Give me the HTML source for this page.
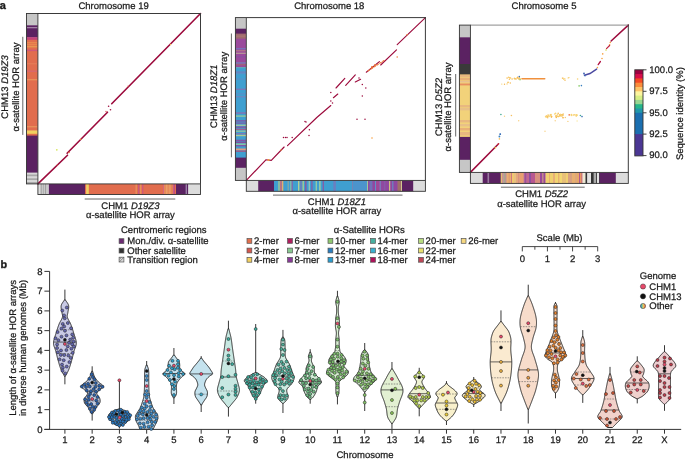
<!DOCTYPE html>
<html><head><meta charset="utf-8"><style>
html,body{margin:0;padding:0;background:#fff;width:685px;height:460px;overflow:hidden}
svg{display:block;will-change:transform}
text{font-family:"Liberation Sans",sans-serif;fill:#1a1a1a;stroke:#1a1a1a;stroke-width:0.25px;text-rendering:geometricPrecision}
</style></head><body>
<svg width="685" height="460" viewBox="0 0 685 460">
<text x="-0.30" y="9.00" font-size="11" text-anchor="start" font-weight="bold" style="stroke-width:0.35px">a</text>
<rect x="26.50" y="13.50" width="11.40" height="12.20" fill="#c6c6c6" />
<rect x="26.50" y="25.30" width="11.40" height="12.30" fill="#5b2262" />
<rect x="26.50" y="27.00" width="11.40" height="1.30" fill="#a27fa6" />
<rect x="26.50" y="37.20" width="11.40" height="3.00" fill="#c4427a" />
<rect x="26.50" y="39.80" width="11.40" height="91.10" fill="#e16d4e" />
<rect x="26.50" y="42.00" width="11.40" height="1.40" fill="#e8884e" />
<rect x="26.50" y="44.00" width="11.40" height="1.40" fill="#e8884e" />
<rect x="26.50" y="46.00" width="11.40" height="1.40" fill="#e89850" />
<rect x="26.50" y="49.70" width="11.40" height="1.40" fill="#d05878" />
<rect x="26.50" y="63.00" width="11.40" height="1.40" fill="#e47a56" />
<rect x="26.50" y="70.50" width="11.40" height="1.40" fill="#d86870" />
<rect x="26.50" y="79.00" width="11.40" height="1.40" fill="#e8905a" />
<rect x="26.50" y="126.00" width="11.40" height="1.40" fill="#e8905a" />
<rect x="26.50" y="130.50" width="11.40" height="3.70" fill="#f0d060" />
<rect x="26.50" y="133.80" width="11.40" height="2.20" fill="#e16d4e" />
<rect x="26.50" y="135.60" width="11.40" height="37.40" fill="#5b2262" />
<rect x="26.50" y="172.60" width="11.40" height="2.28" fill="#d8d8d8" />
<rect x="26.50" y="174.48" width="11.40" height="2.28" fill="#a8a8a8" />
<rect x="26.50" y="176.37" width="11.40" height="2.28" fill="#d8d8d8" />
<rect x="26.50" y="178.25" width="11.40" height="2.28" fill="#a8a8a8" />
<rect x="26.50" y="180.13" width="11.40" height="2.28" fill="#d8d8d8" />
<rect x="26.50" y="182.02" width="11.40" height="1.88" fill="#a8a8a8" />
<rect x="37.90" y="183.90" width="11.30" height="10.60" fill="#dedede" />
<rect x="40.50" y="183.90" width="1.40" height="10.60" fill="#a8a8a8" />
<rect x="42.50" y="183.90" width="1.70" height="10.60" fill="#b0b0b0" />
<rect x="44.80" y="183.90" width="1.60" height="10.60" fill="#a0a0a0" />
<rect x="46.50" y="183.90" width="1.40" height="10.60" fill="#c8c8c8" />
<rect x="48.80" y="183.90" width="36.60" height="10.60" fill="#5b2262" />
<rect x="85.00" y="183.90" width="1.70" height="10.60" fill="#e16d4e" />
<rect x="86.30" y="183.90" width="2.90" height="10.60" fill="#f0d060" />
<rect x="88.80" y="183.90" width="74.80" height="10.60" fill="#e16d4e" />
<rect x="135.50" y="183.90" width="1.40" height="10.60" fill="#e8905a" />
<rect x="138.00" y="183.90" width="1.40" height="10.60" fill="#c85880" />
<rect x="140.00" y="183.90" width="1.40" height="10.60" fill="#e8905a" />
<rect x="142.00" y="183.90" width="1.40" height="10.60" fill="#d05878" />
<rect x="163.20" y="183.90" width="1.20" height="10.60" fill="#d05878" />
<rect x="164.00" y="183.90" width="9.60" height="10.60" fill="#e68a5a" />
<rect x="166.00" y="183.90" width="1.40" height="10.60" fill="#eca066" />
<rect x="169.20" y="183.90" width="1.40" height="10.60" fill="#eca066" />
<rect x="171.50" y="183.90" width="1.20" height="10.60" fill="#e07a56" />
<rect x="173.20" y="183.90" width="2.00" height="10.60" fill="#c04880" />
<rect x="174.80" y="183.90" width="1.60" height="10.60" fill="#e16d4e" />
<rect x="176.00" y="183.90" width="12.60" height="10.60" fill="#5b2262" />
<rect x="185.60" y="183.90" width="1.40" height="10.60" fill="#9a80a8" />
<rect x="188.20" y="183.90" width="12.30" height="10.60" fill="#dcdcdc" />
<rect x="235.40" y="17.60" width="10.90" height="11.50" fill="#c6c6c6" />
<rect x="235.40" y="28.70" width="10.90" height="5.30" fill="#5b2262" />
<rect x="235.40" y="33.60" width="10.90" height="5.50" fill="#a06a70" />
<rect x="235.40" y="35.50" width="10.90" height="1.40" fill="#a87870" />
<rect x="235.40" y="38.70" width="10.90" height="28.70" fill="#9a4a9c" />
<rect x="235.40" y="48.00" width="10.90" height="1.40" fill="#7a70b8" />
<rect x="235.40" y="50.00" width="10.90" height="1.40" fill="#b0708a" />
<rect x="235.40" y="52.70" width="10.90" height="1.20" fill="#b89a98" />
<rect x="235.40" y="56.00" width="10.90" height="1.40" fill="#8a50a0" />
<rect x="235.40" y="62.00" width="10.90" height="1.90" fill="#8070b0" />
<rect x="235.40" y="64.00" width="10.90" height="1.40" fill="#a0607a" />
<rect x="235.40" y="67.00" width="10.90" height="91.00" fill="#3f9fd0" />
<rect x="235.40" y="67.00" width="10.90" height="1.20" fill="#60a8b8" />
<rect x="235.40" y="71.40" width="10.90" height="1.40" fill="#6a80c0" />
<rect x="235.40" y="73.00" width="10.90" height="1.20" fill="#5a90c8" />
<rect x="235.40" y="78.50" width="10.90" height="1.20" fill="#5a90c8" />
<rect x="235.40" y="88.60" width="10.90" height="1.40" fill="#7a78b8" />
<rect x="235.40" y="93.30" width="10.90" height="1.10" fill="#5a90c8" />
<rect x="235.40" y="96.00" width="10.90" height="1.40" fill="#6a88c0" />
<rect x="235.40" y="112.20" width="10.90" height="1.70" fill="#7a78b8" />
<rect x="235.40" y="115.40" width="10.90" height="1.40" fill="#90c8a0" />
<rect x="235.40" y="120.20" width="10.90" height="1.40" fill="#8058a8" />
<rect x="235.40" y="122.50" width="10.90" height="1.20" fill="#8058a8" />
<rect x="235.40" y="124.60" width="10.90" height="1.40" fill="#a0c0a0" />
<rect x="235.40" y="126.50" width="10.90" height="1.40" fill="#8058a8" />
<rect x="235.40" y="128.70" width="10.90" height="1.40" fill="#a06090" />
<rect x="235.40" y="130.50" width="10.90" height="1.40" fill="#90c0a0" />
<rect x="235.40" y="133.00" width="10.90" height="1.40" fill="#7a78b8" />
<rect x="235.40" y="134.80" width="10.90" height="1.40" fill="#b0c890" />
<rect x="235.40" y="139.70" width="10.90" height="1.40" fill="#8058a8" />
<rect x="235.40" y="141.50" width="10.90" height="1.60" fill="#8050a0" />
<rect x="235.40" y="143.50" width="10.90" height="1.40" fill="#90c8a0" />
<rect x="235.40" y="145.00" width="10.90" height="1.40" fill="#8058a8" />
<rect x="235.40" y="148.50" width="10.90" height="1.90" fill="#e0a080" />
<rect x="235.40" y="150.50" width="10.90" height="1.40" fill="#9a5a8a" />
<rect x="235.40" y="157.60" width="10.90" height="10.60" fill="#5b2262" />
<rect x="235.40" y="167.80" width="10.90" height="12.60" fill="#c6c6c6" />
<rect x="246.30" y="180.40" width="12.30" height="10.90" fill="#dcdcdc" />
<rect x="258.20" y="180.40" width="16.20" height="10.90" fill="#5b2262" />
<rect x="274.00" y="180.40" width="93.60" height="10.90" fill="#3f9fd0" />
<rect x="278.30" y="180.40" width="1.40" height="10.90" fill="#a8c890" />
<rect x="280.00" y="180.40" width="1.60" height="10.90" fill="#c07080" />
<rect x="281.50" y="180.40" width="1.20" height="10.90" fill="#c07080" />
<rect x="282.00" y="180.40" width="1.30" height="10.90" fill="#e0b070" />
<rect x="287.50" y="180.40" width="1.40" height="10.90" fill="#80a8a8" />
<rect x="290.30" y="180.40" width="1.40" height="10.90" fill="#90c8a0" />
<rect x="291.50" y="180.40" width="1.40" height="10.90" fill="#8068b0" />
<rect x="298.00" y="180.40" width="1.40" height="10.90" fill="#b0d098" />
<rect x="300.30" y="180.40" width="1.40" height="10.90" fill="#7878b8" />
<rect x="302.50" y="180.40" width="1.40" height="10.90" fill="#a8c890" />
<rect x="305.00" y="180.40" width="1.60" height="10.90" fill="#8060a8" />
<rect x="308.60" y="180.40" width="1.40" height="10.90" fill="#90c0b8" />
<rect x="311.20" y="180.40" width="1.40" height="10.90" fill="#8060a8" />
<rect x="315.60" y="180.40" width="1.40" height="10.90" fill="#90c8a8" />
<rect x="319.00" y="180.40" width="1.70" height="10.90" fill="#90c8a8" />
<rect x="322.60" y="180.40" width="1.40" height="10.90" fill="#8060a8" />
<rect x="333.30" y="180.40" width="2.60" height="10.90" fill="#6a80c0" />
<rect x="352.00" y="180.40" width="1.20" height="10.90" fill="#8080b0" />
<rect x="352.80" y="180.40" width="14.80" height="10.90" fill="#4c94cc" />
<rect x="367.20" y="180.40" width="1.20" height="10.90" fill="#b0d090" />
<rect x="368.00" y="180.40" width="34.40" height="10.90" fill="#9048a0" />
<rect x="369.50" y="180.40" width="2.90" height="10.90" fill="#7070b8" />
<rect x="375.00" y="180.40" width="1.40" height="10.90" fill="#6090c8" />
<rect x="376.00" y="180.40" width="4.40" height="10.90" fill="#a04898" />
<rect x="379.60" y="180.40" width="1.20" height="10.90" fill="#7880c0" />
<rect x="384.00" y="180.40" width="1.40" height="10.90" fill="#8858a8" />
<rect x="389.00" y="180.40" width="1.20" height="10.90" fill="#d0c080" />
<rect x="392.20" y="180.40" width="1.20" height="10.90" fill="#6a88c0" />
<rect x="397.50" y="180.40" width="3.90" height="10.90" fill="#a07068" />
<rect x="401.00" y="180.40" width="1.40" height="10.90" fill="#d0c890" />
<rect x="402.00" y="180.40" width="11.70" height="10.90" fill="#5b2262" />
<rect x="413.30" y="180.40" width="12.10" height="10.90" fill="#dcdcdc" />
<rect x="459.40" y="25.10" width="11.00" height="12.60" fill="#c6c6c6" />
<rect x="459.40" y="37.30" width="11.00" height="27.10" fill="#5b2262" />
<rect x="459.40" y="64.00" width="11.00" height="11.00" fill="#3a3a3a" />
<rect x="459.40" y="74.60" width="11.00" height="62.70" fill="#f2d27a" />
<rect x="459.40" y="74.60" width="11.00" height="2.80" fill="#e8b880" />
<rect x="459.40" y="78.00" width="11.00" height="2.40" fill="#e8b078" />
<rect x="459.40" y="81.00" width="11.00" height="1.40" fill="#e8c090" />
<rect x="459.40" y="83.50" width="11.00" height="1.90" fill="#e89060" />
<rect x="459.40" y="105.00" width="11.00" height="2.40" fill="#e8b880" />
<rect x="459.40" y="108.00" width="11.00" height="2.40" fill="#e8c088" />
<rect x="459.40" y="120.00" width="11.00" height="2.40" fill="#e8b880" />
<rect x="459.40" y="124.00" width="11.00" height="2.40" fill="#e8c088" />
<rect x="459.40" y="128.00" width="11.00" height="2.40" fill="#e8b078" />
<rect x="459.40" y="132.00" width="11.00" height="3.40" fill="#e8b880" />
<rect x="459.40" y="136.90" width="11.00" height="23.30" fill="#5b2262" />
<rect x="459.40" y="159.80" width="11.00" height="12.60" fill="#c6c6c6" />
<rect x="470.40" y="172.40" width="12.70" height="11.00" fill="#dcdcdc" />
<rect x="482.70" y="172.40" width="18.40" height="11.00" fill="#5b2262" />
<rect x="487.50" y="172.40" width="1.60" height="11.00" fill="#9a7aa0" />
<rect x="500.70" y="172.40" width="1.70" height="11.00" fill="#e0c070" />
<rect x="502.00" y="172.40" width="1.90" height="11.00" fill="#d09090" />
<rect x="503.50" y="172.40" width="2.40" height="11.00" fill="#a8a690" />
<rect x="505.50" y="172.40" width="1.40" height="11.00" fill="#c08090" />
<rect x="506.50" y="172.40" width="4.90" height="11.00" fill="#e8b070" />
<rect x="508.50" y="172.40" width="1.40" height="11.00" fill="#e09c70" />
<rect x="511.00" y="172.40" width="1.40" height="11.00" fill="#d07880" />
<rect x="512.00" y="172.40" width="2.40" height="11.00" fill="#f0c870" />
<rect x="514.00" y="172.40" width="2.40" height="11.00" fill="#e8c080" />
<rect x="516.00" y="172.40" width="4.40" height="11.00" fill="#e4a87c" />
<rect x="518.00" y="172.40" width="1.40" height="11.00" fill="#d89080" />
<rect x="520.00" y="172.40" width="3.40" height="11.00" fill="#e8a070" />
<rect x="523.00" y="172.40" width="1.60" height="11.00" fill="#d89080" />
<rect x="524.20" y="172.40" width="2.70" height="11.00" fill="#a05098" />
<rect x="526.50" y="172.40" width="2.90" height="11.00" fill="#c06890" />
<rect x="529.00" y="172.40" width="2.40" height="11.00" fill="#9050a0" />
<rect x="531.00" y="172.40" width="4.40" height="11.00" fill="#b85890" />
<rect x="535.00" y="172.40" width="5.40" height="11.00" fill="#d89080" />
<rect x="540.00" y="172.40" width="2.40" height="11.00" fill="#9a4898" />
<rect x="542.00" y="172.40" width="1.90" height="11.00" fill="#c08888" />
<rect x="543.50" y="172.40" width="2.40" height="11.00" fill="#9a4898" />
<rect x="545.50" y="172.40" width="3.90" height="11.00" fill="#f0d070" />
<rect x="549.00" y="172.40" width="1.40" height="11.00" fill="#e8b070" />
<rect x="550.00" y="172.40" width="3.40" height="11.00" fill="#f0d070" />
<rect x="553.00" y="172.40" width="2.40" height="11.00" fill="#e8b078" />
<rect x="555.00" y="172.40" width="2.40" height="11.00" fill="#f2d470" />
<rect x="557.00" y="172.40" width="5.40" height="11.00" fill="#f2d872" />
<rect x="558.00" y="172.40" width="1.40" height="11.00" fill="#e8b070" />
<rect x="562.00" y="172.40" width="4.40" height="11.00" fill="#e8c078" />
<rect x="566.00" y="172.40" width="2.40" height="11.00" fill="#f0d070" />
<rect x="568.00" y="172.40" width="4.40" height="11.00" fill="#d8a080" />
<rect x="572.00" y="172.40" width="3.40" height="11.00" fill="#e8b070" />
<rect x="575.00" y="172.40" width="2.40" height="11.00" fill="#e0a878" />
<rect x="577.00" y="172.40" width="2.40" height="11.00" fill="#e8a868" />
<rect x="579.00" y="172.40" width="1.40" height="11.00" fill="#b05890" />
<rect x="580.00" y="172.40" width="1.40" height="11.00" fill="#e89860" />
<rect x="581.00" y="172.40" width="1.90" height="11.00" fill="#d07878" />
<rect x="582.50" y="172.40" width="3.40" height="11.00" fill="#ece8d4" />
<rect x="585.50" y="172.40" width="2.10" height="11.00" fill="#333333" />
<rect x="587.20" y="172.40" width="4.20" height="11.00" fill="#e2e2e2" />
<rect x="591.00" y="172.40" width="3.00" height="11.00" fill="#333333" />
<rect x="593.60" y="172.40" width="2.80" height="11.00" fill="#aaaaaa" />
<rect x="596.00" y="172.40" width="1.40" height="11.00" fill="#444444" />
<rect x="597.00" y="172.40" width="2.40" height="11.00" fill="#e2e2e2" />
<rect x="599.00" y="172.40" width="1.00" height="11.00" fill="#444444" />
<rect x="599.60" y="172.40" width="16.60" height="11.00" fill="#5b2262" />
<rect x="615.80" y="172.40" width="12.50" height="11.00" fill="#dcdcdc" />
<rect x="37.9" y="13.5" width="162.6" height="170.4" fill="#fff"/>
<rect x="246.3" y="17.6" width="179.09999999999997" height="162.8" fill="#fff"/>
<rect x="470.4" y="25.1" width="157.89999999999998" height="147.3" fill="#fff"/>
<path d="M37.9,183.9 L67.5,155.2" fill="none" stroke="#9c0a3c" stroke-width="1.6" stroke-linecap="round" />
<path d="M67.1,153.3 L107.5,112.2" fill="none" stroke="#9c0a3c" stroke-width="1.6" stroke-linecap="round" />
<path d="M111.7,103.7 L200.5,13.5" fill="none" stroke="#9c0a3c" stroke-width="1.6" stroke-linecap="round" />
<circle cx="110.5" cy="109.8" r="0.8" fill="#9c0a3c"/>
<circle cx="108.6" cy="106.3" r="0.8" fill="#9c0a3c"/>
<circle cx="106.0" cy="111.5" r="0.7" fill="#e05050"/>
<circle cx="69.0" cy="152.5" r="0.8" fill="#f07040"/>
<circle cx="57.2" cy="165.0" r="0.6" fill="#f07040"/>
<circle cx="80.8" cy="139.2" r="0.7" fill="#f8a040"/>
<circle cx="56.8" cy="149.8" r="0.9" fill="#d8e860"/>
<circle cx="170.5" cy="44.5" r="0.7" fill="#f6c050"/>
<circle cx="128.0" cy="86.0" r="0.6" fill="#f08040"/>
<path d="M246.3,180.4 L265.9,159.8 L271.3,160.4 L284.1,147.0" fill="none" stroke="#9c0a3c" stroke-width="1.15" stroke-linecap="round" />
<path d="M287.5,145.6 L316.8,117.5 L330.8,105.5" fill="none" stroke="#9c0a3c" stroke-width="1.15" stroke-linecap="round" />
<path d="M333.4,97.7 L337.8,94.0" fill="none" stroke="#9c0a3c" stroke-width="1.15" stroke-linecap="round" />
<path d="M336.0,88.0 L344.8,78.4" fill="none" stroke="#9c0a3c" stroke-width="1.15" stroke-linecap="round" />
<path d="M345.7,85.4 L355.3,74.9" fill="none" stroke="#9c0a3c" stroke-width="1.15" stroke-linecap="round" />
<path d="M355.3,81.9 L360.6,79.3" fill="none" stroke="#9c0a3c" stroke-width="1.15" stroke-linecap="round" />
<path d="M366.3,72.2 L379.4,61.6" fill="none" stroke="#9c0a3c" stroke-width="1.15" stroke-linecap="round" />
<path d="M380.7,65.0 L396.5,49.8" fill="none" stroke="#9c0a3c" stroke-width="1.15" stroke-linecap="round" />
<path d="M397.2,44.6 L425.4,17.6" fill="none" stroke="#9c0a3c" stroke-width="1.15" stroke-linecap="round" />
<path d="M368.0,71.0 L384.0,60.5" fill="none" stroke="#f07a3a" stroke-width="1.1" stroke-linecap="round" stroke-dasharray="2,1.5"/>
<circle cx="268.5" cy="160.0" r="1.0" fill="#f8a030"/>
<circle cx="281.0" cy="150.0" r="0.7" fill="#f8a030"/>
<circle cx="372.0" cy="67.0" r="1.0" fill="#f07030"/>
<circle cx="375.0" cy="65.0" r="1.0" fill="#f08040"/>
<circle cx="407.0" cy="34.7" r="0.8" fill="#f09040"/>
<circle cx="283.5" cy="137.5" r="0.75" fill="#9c0a3c"/>
<circle cx="285.5" cy="137.5" r="0.75" fill="#9c0a3c"/>
<circle cx="287.0" cy="137.5" r="0.75" fill="#9c0a3c"/>
<circle cx="292.2" cy="137.5" r="0.75" fill="#9c0a3c"/>
<circle cx="305.0" cy="121.6" r="0.75" fill="#9c0a3c"/>
<circle cx="309.4" cy="129.7" r="0.75" fill="#9c0a3c"/>
<circle cx="309.0" cy="135.5" r="0.75" fill="#9c0a3c"/>
<circle cx="330.8" cy="101.0" r="0.75" fill="#9c0a3c"/>
<circle cx="332.5" cy="103.0" r="0.75" fill="#9c0a3c"/>
<circle cx="330.8" cy="92.4" r="0.75" fill="#9c0a3c"/>
<circle cx="362.3" cy="84.5" r="0.75" fill="#9c0a3c"/>
<circle cx="365.8" cy="88.0" r="0.75" fill="#9c0a3c"/>
<circle cx="362.3" cy="96.0" r="0.75" fill="#9c0a3c"/>
<circle cx="357.0" cy="119.2" r="0.75" fill="#9c0a3c"/>
<circle cx="365.0" cy="119.2" r="0.75" fill="#9c0a3c"/>
<circle cx="359.0" cy="78.0" r="0.75" fill="#9c0a3c"/>
<circle cx="306.0" cy="122.0" r="0.75" fill="#9c0a3c"/>
<circle cx="372.0" cy="138.0" r="0.8" fill="#f8a040"/>
<circle cx="397.2" cy="57.0" r="0.8" fill="#f08040"/>
<path d="M470.4,172.4 L498.6,143.7" fill="none" stroke="#9c0a3c" stroke-width="1.5" stroke-linecap="round" />
<circle cx="495.4" cy="147.6" r="0.9" fill="#f0c050"/>
<circle cx="498.2" cy="144.3" r="0.8" fill="#e04040"/>
<circle cx="499.4" cy="136.5" r="0.9" fill="#3a80c0"/>
<circle cx="500.2" cy="134.1" r="0.9" fill="#3a70b8"/>
<circle cx="499.4" cy="138.9" r="0.8" fill="#f8c060"/>
<path d="M611.1,41.0 L628.3,25.1" fill="none" stroke="#9c0a3c" stroke-width="1.5" stroke-linecap="round" />
<circle cx="610.3" cy="42.5" r="0.8" fill="#f8a040"/>
<circle cx="609.6" cy="44.8" r="0.8" fill="#f8a040"/>
<path d="M606.5,48.6 L609.6,45.5" fill="none" stroke="#c02040" stroke-width="1.2" stroke-linecap="round" />
<circle cx="606.0" cy="50.1" r="0.8" fill="#d8e060"/>
<circle cx="602.7" cy="53.9" r="0.8" fill="#f8a040"/>
<circle cx="602.0" cy="58.5" r="0.8" fill="#f8a040"/>
<path d="M598.2,64.6 L600.4,61.5" fill="none" stroke="#b01040" stroke-width="1.3" stroke-linecap="round" />
<circle cx="597.4" cy="67.6" r="0.8" fill="#f8a040"/>
<path d="M584.5,75.2 L590.0,73.5 L596.6,69.1" fill="none" stroke="#4a48a0" stroke-width="1.5" stroke-linecap="round" />
<circle cx="584.0" cy="73.5" r="0.9" fill="#3a60b0"/>
<circle cx="585.0" cy="75.8" r="0.8" fill="#3a70c0"/>
<circle cx="577.6" cy="79.0" r="0.8" fill="#f8d070"/>
<circle cx="579.1" cy="85.9" r="0.8" fill="#80c860"/>
<circle cx="581.4" cy="85.6" r="0.8" fill="#3a80c0"/>
<path d="M522.0,78.8 L544.7,78.8" fill="none" stroke="#f0903c" stroke-width="1.6" stroke-linecap="round" />
<circle cx="515.6" cy="78.8" r="0.8" fill="#f6cc6a"/>
<circle cx="518.7" cy="78.9" r="0.8" fill="#f8c060"/>
<circle cx="516.0" cy="79.1" r="0.8" fill="#f6cc6a"/>
<circle cx="512.1" cy="79.0" r="0.8" fill="#f4b850"/>
<circle cx="514.5" cy="78.4" r="0.8" fill="#f6cc6a"/>
<circle cx="517.2" cy="78.1" r="0.8" fill="#f8c060"/>
<circle cx="519.8" cy="78.8" r="0.8" fill="#f8c060"/>
<circle cx="517.6" cy="77.4" r="0.8" fill="#f4b850"/>
<circle cx="508.6" cy="77.3" r="0.8" fill="#f6cc6a"/>
<circle cx="509.8" cy="77.7" r="0.8" fill="#f8c060"/>
<circle cx="519.2" cy="77.9" r="0.8" fill="#f8c060"/>
<circle cx="514.5" cy="78.7" r="0.8" fill="#f8c060"/>
<circle cx="509.4" cy="79.2" r="0.8" fill="#f8c060"/>
<circle cx="520.5" cy="79.1" r="0.8" fill="#f8d478"/>
<circle cx="507.1" cy="78.1" r="0.8" fill="#f8c060"/>
<circle cx="510.5" cy="78.0" r="0.8" fill="#f6cc6a"/>
<circle cx="519.3" cy="76.6" r="0.8" fill="#3a70b8"/>
<circle cx="520.0" cy="79.7" r="0.7" fill="#80c860"/>
<circle cx="507.1" cy="83.9" r="0.7" fill="#f6cc6a"/>
<circle cx="504.5" cy="84.2" r="0.7" fill="#f4b850"/>
<circle cx="508.0" cy="82.5" r="0.7" fill="#f4b850"/>
<circle cx="508.1" cy="82.2" r="0.7" fill="#f6cc6a"/>
<circle cx="510.3" cy="83.0" r="0.7" fill="#f4b850"/>
<circle cx="501.8" cy="84.1" r="0.7" fill="#f8d478"/>
<circle cx="565.0" cy="80.3" r="0.7" fill="#f4b850"/>
<circle cx="562.4" cy="78.1" r="0.7" fill="#f8c060"/>
<circle cx="563.0" cy="78.3" r="0.7" fill="#f4b850"/>
<circle cx="564.8" cy="78.7" r="0.7" fill="#f8d478"/>
<circle cx="568.2" cy="77.9" r="0.7" fill="#f8d478"/>
<circle cx="568.9" cy="77.6" r="0.7" fill="#f6cc6a"/>
<circle cx="563.7" cy="79.2" r="0.7" fill="#f8d478"/>
<circle cx="500.9" cy="114.5" r="0.8" fill="#40a890"/>
<circle cx="504.5" cy="116.2" r="0.7" fill="#f8d080"/>
<circle cx="511.4" cy="115.5" r="0.8" fill="#f6c060"/>
<circle cx="518.7" cy="120.8" r="0.7" fill="#f8d080"/>
<circle cx="561.8" cy="114.8" r="0.8" fill="#f6cc6a"/>
<circle cx="550.7" cy="114.7" r="0.8" fill="#f8c060"/>
<circle cx="559.6" cy="116.1" r="0.8" fill="#f8d478"/>
<circle cx="563.2" cy="114.0" r="0.8" fill="#f6cc6a"/>
<circle cx="546.5" cy="116.0" r="0.8" fill="#f4b850"/>
<circle cx="545.6" cy="116.6" r="0.8" fill="#f8d478"/>
<circle cx="560.1" cy="115.4" r="0.8" fill="#f4b850"/>
<circle cx="547.7" cy="117.7" r="0.8" fill="#f6cc6a"/>
<circle cx="559.7" cy="114.8" r="0.8" fill="#f8c060"/>
<circle cx="547.4" cy="116.6" r="0.8" fill="#f8c060"/>
<circle cx="556.5" cy="116.8" r="0.8" fill="#f6cc6a"/>
<circle cx="548.1" cy="115.0" r="0.8" fill="#f6cc6a"/>
<circle cx="560.5" cy="114.6" r="0.8" fill="#f4b850"/>
<circle cx="561.9" cy="116.1" r="0.8" fill="#f8c060"/>
<circle cx="562.9" cy="115.3" r="0.8" fill="#f4b850"/>
<circle cx="557.6" cy="114.7" r="0.8" fill="#f8d478"/>
<circle cx="550.3" cy="115.1" r="0.8" fill="#f8c060"/>
<circle cx="547.1" cy="117.0" r="0.8" fill="#f8c060"/>
<circle cx="556.5" cy="115.5" r="0.8" fill="#f8d478"/>
<circle cx="548.3" cy="115.5" r="0.8" fill="#f8d478"/>
<circle cx="546.2" cy="116.9" r="0.8" fill="#f8d478"/>
<circle cx="557.7" cy="116.3" r="0.8" fill="#f8d478"/>
<circle cx="551.7" cy="116.5" r="0.8" fill="#f8d478"/>
<circle cx="560.3" cy="114.5" r="0.8" fill="#f8d478"/>
<circle cx="562.5" cy="114.8" r="0.8" fill="#f8c060"/>
<circle cx="555.6" cy="113.4" r="0.8" fill="#f8d478"/>
<circle cx="551.0" cy="114.5" r="0.8" fill="#f8d478"/>
<circle cx="559.9" cy="116.2" r="0.8" fill="#f8d478"/>
<circle cx="551.4" cy="116.2" r="0.8" fill="#f4b850"/>
<circle cx="551.4" cy="117.1" r="0.8" fill="#f4b850"/>
<circle cx="562.9" cy="117.6" r="0.8" fill="#f8c060"/>
<circle cx="554.7" cy="114.0" r="0.8" fill="#f8d478"/>
<circle cx="562.2" cy="115.4" r="0.8" fill="#f6cc6a"/>
<circle cx="558.2" cy="116.6" r="0.8" fill="#f8c060"/>
<circle cx="556.3" cy="117.5" r="0.8" fill="#f4b850"/>
<circle cx="550.5" cy="115.8" r="0.8" fill="#f8d478"/>
<circle cx="558.2" cy="113.4" r="0.8" fill="#f8c060"/>
<circle cx="555.7" cy="116.1" r="0.8" fill="#f8c060"/>
<circle cx="549.0" cy="116.4" r="0.8" fill="#f6cc6a"/>
<circle cx="563.1" cy="117.7" r="0.8" fill="#f8c060"/>
<circle cx="565.3" cy="117.5" r="0.7" fill="#f8c870"/>
<circle cx="569.2" cy="114.9" r="0.8" fill="#f07040"/>
<circle cx="571.5" cy="114.5" r="0.8" fill="#f8d478"/>
<circle cx="576.8" cy="115.3" r="0.8" fill="#f6cc6a"/>
<circle cx="573.6" cy="115.0" r="0.8" fill="#f6cc6a"/>
<circle cx="574.6" cy="114.7" r="0.8" fill="#f8d478"/>
<circle cx="571.2" cy="115.1" r="0.8" fill="#f8d478"/>
<circle cx="576.2" cy="116.1" r="0.8" fill="#f8d478"/>
<circle cx="576.8" cy="115.4" r="0.8" fill="#f8d478"/>
<circle cx="571.7" cy="115.4" r="0.8" fill="#f8d478"/>
<circle cx="576.7" cy="114.8" r="0.8" fill="#f8d478"/>
<circle cx="575.9" cy="115.1" r="0.8" fill="#f8d478"/>
<circle cx="580.4" cy="115.5" r="0.8" fill="#40a890"/>
<circle cx="582.0" cy="116.6" r="0.8" fill="#3a70b8"/>
<circle cx="555.2" cy="120.8" r="0.7" fill="#f8d080"/>
<circle cx="567.9" cy="121.4" r="0.7" fill="#f8d080"/>
<circle cx="577.1" cy="121.0" r="0.7" fill="#fae8a0"/>
<circle cx="545.0" cy="131.3" r="0.7" fill="#f8d080"/>
<circle cx="500.3" cy="134.2" r="0.7" fill="#3a70b8"/>
<path d="M37.9,13.5H200.5" fill="none" stroke="#3a3a3a" stroke-width="1"/>
<path d="M200.5,13.0V183.9" fill="none" stroke="#3a3a3a" stroke-width="1"/>
<path d="M246.3,17.6H425.4" fill="none" stroke="#3a3a3a" stroke-width="1"/>
<path d="M425.4,17.1V180.4" fill="none" stroke="#3a3a3a" stroke-width="1"/>
<path d="M470.4,25.1H628.3" fill="none" stroke="#8a8a8a" stroke-width="1"/>
<path d="M628.3,24.6V172.4" fill="none" stroke="#3a3a3a" stroke-width="1"/>
<rect x="26.5" y="13.5" width="11.399999999999999" height="170.4" fill="none" stroke="#333" stroke-width="0.9"/>
<rect x="37.9" y="183.9" width="162.6" height="10.599999999999994" fill="none" stroke="#333" stroke-width="0.9"/>
<rect x="235.4" y="17.6" width="10.900000000000006" height="162.8" fill="none" stroke="#333" stroke-width="0.9"/>
<rect x="246.3" y="180.4" width="179.09999999999997" height="10.900000000000006" fill="none" stroke="#333" stroke-width="0.9"/>
<rect x="459.4" y="25.1" width="11.0" height="147.3" fill="none" stroke="#333" stroke-width="0.9"/>
<rect x="470.4" y="172.4" width="157.89999999999998" height="11.0" fill="none" stroke="#333" stroke-width="0.9"/>
<line x1="22.8" y1="36.8" x2="22.8" y2="134.9" stroke="#555" stroke-width="0.9"/>
<line x1="84.7" y1="199" x2="175.3" y2="199" stroke="#555" stroke-width="0.9"/>
<line x1="231.4" y1="33.5" x2="231.4" y2="157.3" stroke="#555" stroke-width="0.9"/>
<line x1="273" y1="195.1" x2="402.5" y2="195.1" stroke="#555" stroke-width="0.9"/>
<line x1="455.7" y1="74" x2="455.7" y2="136.5" stroke="#555" stroke-width="0.9"/>
<line x1="500.9" y1="187.2" x2="584.7" y2="187.2" stroke="#555" stroke-width="0.9"/>
<text x="113.60" y="9.30" font-size="9.5" text-anchor="middle" >Chromosome 19</text>
<text x="329.30" y="9.30" font-size="9.5" text-anchor="middle" >Chromosome 18</text>
<text x="544.00" y="9.30" font-size="9.5" text-anchor="middle" >Chromosome 5</text>
<text x="130.40" y="208.80" font-size="9.5" text-anchor="middle" >CHM1 <tspan font-style="italic">D19Z3</tspan></text>
<text x="130.40" y="218.00" font-size="9.5" text-anchor="middle" >α-satellite HOR array</text>
<text x="336.90" y="204.70" font-size="9.5" text-anchor="middle" >CHM1 <tspan font-style="italic">D18Z1</tspan></text>
<text x="336.90" y="214.10" font-size="9.5" text-anchor="middle" >α-satellite HOR array</text>
<text x="541.60" y="196.90" font-size="9.5" text-anchor="middle" >CHM1 <tspan font-style="italic">D5Z2</tspan></text>
<text x="541.60" y="206.50" font-size="9.5" text-anchor="middle" >α-satellite HOR array</text>
<text transform="translate(8.3,87) rotate(-90)" font-size="9.5" text-anchor="middle">CHM13 <tspan font-style="italic">D19Z3</tspan></text>
<text transform="translate(18.9,87) rotate(-90)" font-size="9.5" text-anchor="middle">α-satellite HOR array</text>
<text transform="translate(217.4,96.3) rotate(-90)" font-size="9.5" text-anchor="middle">CHM13 <tspan font-style="italic">D18Z1</tspan></text>
<text transform="translate(227.4,96.3) rotate(-90)" font-size="9.5" text-anchor="middle">α-satellite HOR array</text>
<text transform="translate(441.6,107) rotate(-90)" font-size="9.5" text-anchor="middle">CHM13 <tspan font-style="italic">D5Z2</tspan></text>
<text transform="translate(451,107) rotate(-90)" font-size="9.5" text-anchor="middle">α-satellite HOR array</text>
<rect x="634.80" y="69.80" width="8.20" height="5.10" fill="#9e0142" />
<rect x="634.80" y="74.10" width="8.20" height="5.10" fill="#d90d4a" />
<rect x="634.80" y="78.40" width="8.20" height="5.10" fill="#f54a24" />
<rect x="634.80" y="82.70" width="8.20" height="5.10" fill="#fb8c3c" />
<rect x="634.80" y="87.00" width="8.20" height="5.10" fill="#fdc466" />
<rect x="634.80" y="91.30" width="8.20" height="5.10" fill="#fdf59e" />
<rect x="634.80" y="95.60" width="8.20" height="5.10" fill="#d6ee84" />
<rect x="634.80" y="99.90" width="8.20" height="5.10" fill="#98d690" />
<rect x="634.80" y="104.20" width="8.20" height="5.10" fill="#26b68a" />
<rect x="634.80" y="108.50" width="8.20" height="5.10" fill="#2198aa" />
<rect x="634.80" y="112.80" width="8.20" height="22.10" fill="#1b6fb0" />
<rect x="634.80" y="134.10" width="8.20" height="21.80" fill="#4b3794" />
<rect x="634.8" y="69.8" width="8.200000000000045" height="86.10000000000001" fill="none" stroke="#333" stroke-width="0.9"/>
<line x1="643" y1="69.8" x2="646.5" y2="69.8" stroke="#333" stroke-width="0.9"/>
<text x="649.30" y="72.60" font-size="9.5" text-anchor="start" >100.0</text>
<line x1="643" y1="91.3" x2="646.5" y2="91.3" stroke="#333" stroke-width="0.9"/>
<text x="649.30" y="94.10" font-size="9.5" text-anchor="start" >97.5</text>
<line x1="643" y1="112.8" x2="646.5" y2="112.8" stroke="#333" stroke-width="0.9"/>
<text x="649.30" y="115.60" font-size="9.5" text-anchor="start" >95.0</text>
<line x1="643" y1="134.1" x2="646.5" y2="134.1" stroke="#333" stroke-width="0.9"/>
<text x="649.30" y="136.90" font-size="9.5" text-anchor="start" >92.5</text>
<line x1="643" y1="155.6" x2="646.5" y2="155.6" stroke="#333" stroke-width="0.9"/>
<text x="649.30" y="158.40" font-size="9.5" text-anchor="start" >90.0</text>
<text transform="translate(682.8,113.6) rotate(-90)" font-size="9.5" text-anchor="middle">Sequence identity (%)</text>
<text x="121.00" y="233.00" font-size="9.5" text-anchor="start" >Centromeric regions</text>
<rect x="119.10" y="238.70" width="4.8" height="4.8" fill="#6b2a72" stroke="#555" stroke-width="0.7"/>
<text x="127.30" y="244.30" font-size="9.5" text-anchor="start" >Mon./div. α-satellite</text>
<rect x="119.10" y="248.20" width="4.8" height="4.8" fill="#333333" stroke="#555" stroke-width="0.7"/>
<text x="127.30" y="253.80" font-size="9.5" text-anchor="start" >Other satellite</text>
<defs><pattern id="hatch" width="1.6" height="1.6" patternUnits="userSpaceOnUse" patternTransform="rotate(45)"><rect width="1.6" height="1.6" fill="#e0e0e0"/><line x1="0" y1="0" x2="0" y2="1.6" stroke="#777" stroke-width="0.7"/></pattern></defs>
<rect x="119.10" y="257.20" width="4.8" height="4.8" fill="#dadada" stroke="#555" stroke-width="0.7"/>
<path d="M119.4,261.8 L123.7,257.4 M119.5,259.4 L121.2,257.4" stroke="#555" stroke-width="0.6" fill="none"/>
<text x="127.30" y="263.00" font-size="9.5" text-anchor="start" >Transition region</text>
<text x="369.30" y="233.00" font-size="9.5" text-anchor="middle" >α-Satellite HORs</text>
<rect x="247.00" y="238.50" width="4.8" height="4.8" fill="#e2704e" stroke="#555" stroke-width="0.7"/>
<text x="254.00" y="244.20" font-size="9.5" text-anchor="start" >2-mer</text>
<rect x="247.00" y="248.10" width="4.8" height="4.8" fill="#d4584e" stroke="#555" stroke-width="0.7"/>
<text x="254.00" y="253.80" font-size="9.5" text-anchor="start" >3-mer</text>
<rect x="247.00" y="257.40" width="4.8" height="4.8" fill="#f3d060" stroke="#555" stroke-width="0.7"/>
<text x="254.00" y="263.10" font-size="9.5" text-anchor="start" >4-mer</text>
<rect x="287.60" y="238.50" width="4.8" height="4.8" fill="#b02060" stroke="#555" stroke-width="0.7"/>
<text x="294.60" y="244.20" font-size="9.5" text-anchor="start" >6-mer</text>
<rect x="287.60" y="248.10" width="4.8" height="4.8" fill="#88c890" stroke="#555" stroke-width="0.7"/>
<text x="294.60" y="253.80" font-size="9.5" text-anchor="start" >7-mer</text>
<rect x="287.60" y="257.40" width="4.8" height="4.8" fill="#8a3a98" stroke="#555" stroke-width="0.7"/>
<text x="294.60" y="263.10" font-size="9.5" text-anchor="start" >8-mer</text>
<rect x="328.00" y="238.50" width="4.8" height="4.8" fill="#90c870" stroke="#555" stroke-width="0.7"/>
<text x="335.00" y="244.20" font-size="9.5" text-anchor="start" >10-mer</text>
<rect x="328.00" y="248.10" width="4.8" height="4.8" fill="#2a7ec0" stroke="#555" stroke-width="0.7"/>
<text x="335.00" y="253.80" font-size="9.5" text-anchor="start" >12-mer</text>
<rect x="328.00" y="257.40" width="4.8" height="4.8" fill="#2a9ed0" stroke="#555" stroke-width="0.7"/>
<text x="335.00" y="263.10" font-size="9.5" text-anchor="start" >13-mer</text>
<rect x="370.60" y="238.50" width="4.8" height="4.8" fill="#48b0a0" stroke="#555" stroke-width="0.7"/>
<text x="377.60" y="244.20" font-size="9.5" text-anchor="start" >14-mer</text>
<rect x="370.60" y="248.10" width="4.8" height="4.8" fill="#38b0d0" stroke="#555" stroke-width="0.7"/>
<text x="377.60" y="253.80" font-size="9.5" text-anchor="start" >16-mer</text>
<rect x="370.60" y="257.40" width="4.8" height="4.8" fill="#b0105a" stroke="#555" stroke-width="0.7"/>
<text x="377.60" y="263.10" font-size="9.5" text-anchor="start" >18-mer</text>
<rect x="418.60" y="238.50" width="4.8" height="4.8" fill="#b8dc80" stroke="#555" stroke-width="0.7"/>
<text x="425.60" y="244.20" font-size="9.5" text-anchor="start" >20-mer</text>
<rect x="418.60" y="248.10" width="4.8" height="4.8" fill="#e8e070" stroke="#555" stroke-width="0.7"/>
<text x="425.60" y="253.80" font-size="9.5" text-anchor="start" >22-mer</text>
<rect x="418.60" y="257.40" width="4.8" height="4.8" fill="#c04858" stroke="#555" stroke-width="0.7"/>
<text x="425.60" y="263.10" font-size="9.5" text-anchor="start" >24-mer</text>
<rect x="461.20" y="238.50" width="4.8" height="4.8" fill="#f6d880" stroke="#555" stroke-width="0.7"/>
<text x="468.20" y="244.20" font-size="9.5" text-anchor="start" >26-mer</text>
<text x="559.50" y="241.00" font-size="9.5" text-anchor="middle" >Scale (Mb)</text>
<line x1="522.3" y1="246.6" x2="597.7" y2="246.6" stroke="#333" stroke-width="0.9"/>
<line x1="522.3" y1="246.6" x2="522.3" y2="251.4" stroke="#333" stroke-width="0.9"/>
<line x1="534.8666666666667" y1="246.6" x2="534.8666666666667" y2="249.7" stroke="#333" stroke-width="0.9"/>
<line x1="547.4333333333333" y1="246.6" x2="547.4333333333333" y2="251.4" stroke="#333" stroke-width="0.9"/>
<line x1="560.0" y1="246.6" x2="560.0" y2="249.7" stroke="#333" stroke-width="0.9"/>
<line x1="572.5666666666666" y1="246.6" x2="572.5666666666666" y2="251.4" stroke="#333" stroke-width="0.9"/>
<line x1="585.1333333333333" y1="246.6" x2="585.1333333333333" y2="249.7" stroke="#333" stroke-width="0.9"/>
<line x1="597.6999999999999" y1="246.6" x2="597.6999999999999" y2="251.4" stroke="#333" stroke-width="0.9"/>
<text x="522.30" y="262.20" font-size="9.5" text-anchor="middle" >0</text>
<text x="547.43" y="262.20" font-size="9.5" text-anchor="middle" >1</text>
<text x="572.57" y="262.20" font-size="9.5" text-anchor="middle" >2</text>
<text x="597.70" y="262.20" font-size="9.5" text-anchor="middle" >3</text>
<text x="0.60" y="267.80" font-size="10.8" text-anchor="start" font-weight="bold" style="stroke-width:0.35px">b</text>
<line x1="49.6" y1="271.4" x2="49.6" y2="429.4" stroke="#333" stroke-width="1"/>
<line x1="44.4" y1="429.4" x2="681.2" y2="429.4" stroke="#333" stroke-width="1"/>
<line x1="44.4" y1="429.4" x2="49.6" y2="429.4" stroke="#333" stroke-width="1"/>
<text x="42.50" y="432.70" font-size="9.5" text-anchor="end" >0</text>
<line x1="44.4" y1="409.65" x2="49.6" y2="409.65" stroke="#333" stroke-width="1"/>
<text x="42.50" y="412.95" font-size="9.5" text-anchor="end" >1</text>
<line x1="44.4" y1="389.9" x2="49.6" y2="389.9" stroke="#333" stroke-width="1"/>
<text x="42.50" y="393.20" font-size="9.5" text-anchor="end" >2</text>
<line x1="44.4" y1="370.15" x2="49.6" y2="370.15" stroke="#333" stroke-width="1"/>
<text x="42.50" y="373.45" font-size="9.5" text-anchor="end" >3</text>
<line x1="44.4" y1="350.4" x2="49.6" y2="350.4" stroke="#333" stroke-width="1"/>
<text x="42.50" y="353.70" font-size="9.5" text-anchor="end" >4</text>
<line x1="44.4" y1="330.65" x2="49.6" y2="330.65" stroke="#333" stroke-width="1"/>
<text x="42.50" y="333.95" font-size="9.5" text-anchor="end" >5</text>
<line x1="44.4" y1="310.9" x2="49.6" y2="310.9" stroke="#333" stroke-width="1"/>
<text x="42.50" y="314.20" font-size="9.5" text-anchor="end" >6</text>
<line x1="44.4" y1="291.15" x2="49.6" y2="291.15" stroke="#333" stroke-width="1"/>
<text x="42.50" y="294.45" font-size="9.5" text-anchor="end" >7</text>
<line x1="44.4" y1="271.4" x2="49.6" y2="271.4" stroke="#333" stroke-width="1"/>
<text x="42.50" y="274.70" font-size="9.5" text-anchor="end" >8</text>
<text transform="translate(16.4,347.9) rotate(-90)" font-size="9.5" text-anchor="middle">Length of α-satellite HOR arrays</text>
<text transform="translate(26.3,347.9) rotate(-90)" font-size="9.5" text-anchor="middle">in diverse human genomes (Mb)</text>
<line x1="64.9" y1="429.4" x2="64.9" y2="433.7" stroke="#333" stroke-width="1"/>
<text x="64.90" y="443.30" font-size="9.5" text-anchor="middle" >1</text>
<line x1="92.155" y1="429.4" x2="92.155" y2="433.7" stroke="#333" stroke-width="1"/>
<text x="92.16" y="443.30" font-size="9.5" text-anchor="middle" >2</text>
<line x1="119.41" y1="429.4" x2="119.41" y2="433.7" stroke="#333" stroke-width="1"/>
<text x="119.41" y="443.30" font-size="9.5" text-anchor="middle" >3</text>
<line x1="146.66500000000002" y1="429.4" x2="146.66500000000002" y2="433.7" stroke="#333" stroke-width="1"/>
<text x="146.67" y="443.30" font-size="9.5" text-anchor="middle" >4</text>
<line x1="173.92000000000002" y1="429.4" x2="173.92000000000002" y2="433.7" stroke="#333" stroke-width="1"/>
<text x="173.92" y="443.30" font-size="9.5" text-anchor="middle" >5</text>
<line x1="201.175" y1="429.4" x2="201.175" y2="433.7" stroke="#333" stroke-width="1"/>
<text x="201.18" y="443.30" font-size="9.5" text-anchor="middle" >6</text>
<line x1="228.43" y1="429.4" x2="228.43" y2="433.7" stroke="#333" stroke-width="1"/>
<text x="228.43" y="443.30" font-size="9.5" text-anchor="middle" >7</text>
<line x1="255.685" y1="429.4" x2="255.685" y2="433.7" stroke="#333" stroke-width="1"/>
<text x="255.69" y="443.30" font-size="9.5" text-anchor="middle" >8</text>
<line x1="282.94" y1="429.4" x2="282.94" y2="433.7" stroke="#333" stroke-width="1"/>
<text x="282.94" y="443.30" font-size="9.5" text-anchor="middle" >9</text>
<line x1="310.195" y1="429.4" x2="310.195" y2="433.7" stroke="#333" stroke-width="1"/>
<text x="310.19" y="443.30" font-size="9.5" text-anchor="middle" >10</text>
<line x1="337.45000000000005" y1="429.4" x2="337.45000000000005" y2="433.7" stroke="#333" stroke-width="1"/>
<text x="337.45" y="443.30" font-size="9.5" text-anchor="middle" >11</text>
<line x1="364.70500000000004" y1="429.4" x2="364.70500000000004" y2="433.7" stroke="#333" stroke-width="1"/>
<text x="364.71" y="443.30" font-size="9.5" text-anchor="middle" >12</text>
<line x1="391.96000000000004" y1="429.4" x2="391.96000000000004" y2="433.7" stroke="#333" stroke-width="1"/>
<text x="391.96" y="443.30" font-size="9.5" text-anchor="middle" >13</text>
<line x1="419.21500000000003" y1="429.4" x2="419.21500000000003" y2="433.7" stroke="#333" stroke-width="1"/>
<text x="419.22" y="443.30" font-size="9.5" text-anchor="middle" >14</text>
<line x1="446.47" y1="429.4" x2="446.47" y2="433.7" stroke="#333" stroke-width="1"/>
<text x="446.47" y="443.30" font-size="9.5" text-anchor="middle" >15</text>
<line x1="473.725" y1="429.4" x2="473.725" y2="433.7" stroke="#333" stroke-width="1"/>
<text x="473.73" y="443.30" font-size="9.5" text-anchor="middle" >16</text>
<line x1="500.98" y1="429.4" x2="500.98" y2="433.7" stroke="#333" stroke-width="1"/>
<text x="500.98" y="443.30" font-size="9.5" text-anchor="middle" >17</text>
<line x1="528.235" y1="429.4" x2="528.235" y2="433.7" stroke="#333" stroke-width="1"/>
<text x="528.24" y="443.30" font-size="9.5" text-anchor="middle" >18</text>
<line x1="555.49" y1="429.4" x2="555.49" y2="433.7" stroke="#333" stroke-width="1"/>
<text x="555.49" y="443.30" font-size="9.5" text-anchor="middle" >19</text>
<line x1="582.745" y1="429.4" x2="582.745" y2="433.7" stroke="#333" stroke-width="1"/>
<text x="582.75" y="443.30" font-size="9.5" text-anchor="middle" >20</text>
<line x1="610.0" y1="429.4" x2="610.0" y2="433.7" stroke="#333" stroke-width="1"/>
<text x="610.00" y="443.30" font-size="9.5" text-anchor="middle" >21</text>
<line x1="637.255" y1="429.4" x2="637.255" y2="433.7" stroke="#333" stroke-width="1"/>
<text x="637.25" y="443.30" font-size="9.5" text-anchor="middle" >22</text>
<line x1="664.51" y1="429.4" x2="664.51" y2="433.7" stroke="#333" stroke-width="1"/>
<text x="664.51" y="443.30" font-size="9.5" text-anchor="middle" >X</text>
<text x="365.00" y="458.00" font-size="9.5" text-anchor="middle" >Chromosome</text>
<text x="639.80" y="278.70" font-size="9.5" text-anchor="start" >Genome</text>
<circle cx="643" cy="286.5" r="2.6" fill="#e8486a" stroke="#333" stroke-width="0.5"/>
<text x="649.30" y="289.80" font-size="9.5" text-anchor="start" >CHM1</text>
<circle cx="643" cy="296.3" r="2.6" fill="#111" stroke="#333" stroke-width="0.5"/>
<text x="649.30" y="299.60" font-size="9.5" text-anchor="start" >CHM13</text>
<defs><linearGradient id="oth" x1="0" x2="1"><stop offset="0" stop-color="#3a7ac0"/><stop offset="0.33" stop-color="#60c0a0"/><stop offset="0.5" stop-color="#f0d060"/><stop offset="1" stop-color="#e06040"/></linearGradient></defs>
<circle cx="643" cy="306" r="2.6" fill="url(#oth)" stroke="#333" stroke-width="0.5"/>
<text x="649.30" y="309.30" font-size="9.5" text-anchor="start" >Other</text>
<line x1="64.90" y1="289.6" x2="64.90" y2="384.3" stroke="#222" stroke-width="0.9"/>
<path d="M64.50,299.80 L64.20,300.30 L63.87,300.80 L63.52,301.30 L63.17,301.80 L62.82,302.30 L62.48,302.80 L62.16,303.30 L61.87,303.80 L61.62,304.30 L61.40,304.80 L61.25,305.30 L61.15,305.80 L61.09,306.30 L61.07,306.80 L61.08,307.30 L61.11,307.80 L61.17,308.30 L61.25,308.80 L61.34,309.30 L61.44,309.80 L61.54,310.30 L61.64,310.80 L61.73,311.30 L61.82,311.80 L61.89,312.30 L61.96,312.80 L62.06,313.30 L62.18,313.80 L62.31,314.30 L62.42,314.80 L62.52,315.30 L62.58,315.80 L62.59,316.30 L62.54,316.80 L62.42,317.30 L62.26,317.80 L62.06,318.30 L61.84,318.80 L61.59,319.30 L61.32,319.80 L61.05,320.30 L60.76,320.80 L60.47,321.30 L60.19,321.80 L59.91,322.30 L59.65,322.80 L59.41,323.30 L59.20,323.80 L59.00,324.30 L58.81,324.80 L58.62,325.30 L58.43,325.80 L58.25,326.30 L58.07,326.80 L57.90,327.30 L57.73,327.80 L57.56,328.30 L57.40,328.80 L57.23,329.30 L57.07,329.80 L56.92,330.30 L56.76,330.80 L56.61,331.30 L56.46,331.80 L56.31,332.30 L56.16,332.80 L56.01,333.30 L55.86,333.80 L55.70,334.30 L55.53,334.80 L55.36,335.30 L55.20,335.80 L55.03,336.30 L54.86,336.80 L54.70,337.30 L54.54,337.80 L54.39,338.30 L54.24,338.80 L54.10,339.30 L53.98,339.80 L53.86,340.30 L53.76,340.80 L53.67,341.30 L53.60,341.80 L53.55,342.30 L53.51,342.80 L53.50,343.30 L53.52,343.80 L53.57,344.30 L53.65,344.80 L53.76,345.30 L53.90,345.80 L54.05,346.30 L54.22,346.80 L54.40,347.30 L54.59,347.80 L54.78,348.30 L54.98,348.80 L55.17,349.30 L55.35,349.80 L55.53,350.30 L55.69,350.80 L55.83,351.30 L55.96,351.80 L56.09,352.30 L56.21,352.80 L56.34,353.30 L56.46,353.80 L56.58,354.30 L56.70,354.80 L56.82,355.30 L56.94,355.80 L57.07,356.30 L57.19,356.80 L57.31,357.30 L57.43,357.80 L57.56,358.30 L57.69,358.80 L57.82,359.30 L57.96,359.80 L58.10,360.30 L58.24,360.80 L58.38,361.30 L58.52,361.80 L58.66,362.30 L58.80,362.80 L58.95,363.30 L59.09,363.80 L59.24,364.30 L59.39,364.80 L59.54,365.30 L59.69,365.80 L59.85,366.30 L60.02,366.80 L60.19,367.30 L60.36,367.80 L60.54,368.30 L60.73,368.80 L60.92,369.30 L61.12,369.80 L61.34,370.30 L61.57,370.80 L61.81,371.30 L62.07,371.80 L62.33,372.30 L62.60,372.80 L62.87,373.30 L63.15,373.80 L63.42,374.30 L63.70,374.80 L63.97,375.30 L64.24,375.80 L64.50,376.30 L65.30,376.30 L65.56,375.80 L65.83,375.30 L66.10,374.80 L66.38,374.30 L66.65,373.80 L66.93,373.30 L67.20,372.80 L67.47,372.30 L67.73,371.80 L67.99,371.30 L68.23,370.80 L68.46,370.30 L68.68,369.80 L68.88,369.30 L69.07,368.80 L69.26,368.30 L69.44,367.80 L69.61,367.30 L69.78,366.80 L69.95,366.30 L70.11,365.80 L70.26,365.30 L70.41,364.80 L70.56,364.30 L70.71,363.80 L70.85,363.30 L71.00,362.80 L71.14,362.30 L71.28,361.80 L71.42,361.30 L71.56,360.80 L71.70,360.30 L71.84,359.80 L71.98,359.30 L72.11,358.80 L72.24,358.30 L72.37,357.80 L72.49,357.30 L72.61,356.80 L72.73,356.30 L72.86,355.80 L72.98,355.30 L73.10,354.80 L73.22,354.30 L73.34,353.80 L73.46,353.30 L73.59,352.80 L73.71,352.30 L73.84,351.80 L73.97,351.30 L74.11,350.80 L74.27,350.30 L74.45,349.80 L74.63,349.30 L74.82,348.80 L75.02,348.30 L75.21,347.80 L75.40,347.30 L75.58,346.80 L75.75,346.30 L75.90,345.80 L76.04,345.30 L76.15,344.80 L76.23,344.30 L76.28,343.80 L76.30,343.30 L76.29,342.80 L76.25,342.30 L76.20,341.80 L76.13,341.30 L76.04,340.80 L75.94,340.30 L75.82,339.80 L75.70,339.30 L75.56,338.80 L75.41,338.30 L75.26,337.80 L75.10,337.30 L74.94,336.80 L74.77,336.30 L74.60,335.80 L74.44,335.30 L74.27,334.80 L74.10,334.30 L73.94,333.80 L73.79,333.30 L73.64,332.80 L73.49,332.30 L73.34,331.80 L73.19,331.30 L73.04,330.80 L72.88,330.30 L72.73,329.80 L72.57,329.30 L72.40,328.80 L72.24,328.30 L72.07,327.80 L71.90,327.30 L71.73,326.80 L71.55,326.30 L71.37,325.80 L71.18,325.30 L70.99,324.80 L70.80,324.30 L70.60,323.80 L70.39,323.30 L70.15,322.80 L69.89,322.30 L69.61,321.80 L69.33,321.30 L69.04,320.80 L68.75,320.30 L68.48,319.80 L68.21,319.30 L67.96,318.80 L67.74,318.30 L67.54,317.80 L67.38,317.30 L67.26,316.80 L67.21,316.30 L67.22,315.80 L67.28,315.30 L67.38,314.80 L67.49,314.30 L67.62,313.80 L67.74,313.30 L67.84,312.80 L67.91,312.30 L67.98,311.80 L68.07,311.30 L68.16,310.80 L68.26,310.30 L68.36,309.80 L68.46,309.30 L68.55,308.80 L68.63,308.30 L68.69,307.80 L68.72,307.30 L68.73,306.80 L68.71,306.30 L68.65,305.80 L68.55,305.30 L68.40,304.80 L68.18,304.30 L67.93,303.80 L67.64,303.30 L67.32,302.80 L66.98,302.30 L66.63,301.80 L66.28,301.30 L65.93,300.80 L65.60,300.30 L65.30,299.80Z" fill="#c9cae6" stroke="#1a1a1a" stroke-width="0.9"/>
<line x1="57.07" y1="329.80" x2="72.73" y2="329.80" stroke="#555" stroke-width="0.6" stroke-dasharray="1.6,1.1"/>
<line x1="53.57" y1="342.05" x2="76.23" y2="342.05" stroke="#333" stroke-width="0.75"/>
<line x1="56.40" y1="353.55" x2="73.40" y2="353.55" stroke="#555" stroke-width="0.6" stroke-dasharray="1.6,1.1"/>
<circle cx="72.23" cy="334.41" r="1.5" fill="#6668b2" stroke="#1e1e1e" stroke-width="0.5"/>
<circle cx="66.47" cy="335.42" r="1.5" fill="#6668b2" stroke="#1e1e1e" stroke-width="0.5"/>
<circle cx="57.08" cy="347.99" r="1.5" fill="#6668b2" stroke="#1e1e1e" stroke-width="0.5"/>
<circle cx="67.84" cy="323.01" r="1.5" fill="#6668b2" stroke="#1e1e1e" stroke-width="0.5"/>
<circle cx="72.69" cy="352.85" r="1.5" fill="#6668b2" stroke="#1e1e1e" stroke-width="0.5"/>
<circle cx="58.44" cy="340.22" r="1.5" fill="#6668b2" stroke="#1e1e1e" stroke-width="0.5"/>
<circle cx="64.74" cy="318.31" r="1.5" fill="#6668b2" stroke="#1e1e1e" stroke-width="0.5"/>
<circle cx="61.03" cy="350.48" r="1.5" fill="#6668b2" stroke="#1e1e1e" stroke-width="0.5"/>
<circle cx="62.73" cy="323.92" r="1.5" fill="#6668b2" stroke="#1e1e1e" stroke-width="0.5"/>
<circle cx="62.02" cy="364.62" r="1.5" fill="#6668b2" stroke="#1e1e1e" stroke-width="0.5"/>
<circle cx="59.57" cy="359.36" r="1.5" fill="#6668b2" stroke="#1e1e1e" stroke-width="0.5"/>
<circle cx="66.81" cy="307.53" r="1.5" fill="#6668b2" stroke="#1e1e1e" stroke-width="0.5"/>
<circle cx="71.07" cy="328.24" r="1.5" fill="#6668b2" stroke="#1e1e1e" stroke-width="0.5"/>
<circle cx="57.60" cy="332.04" r="1.5" fill="#6668b2" stroke="#1e1e1e" stroke-width="0.5"/>
<circle cx="60.79" cy="354.91" r="1.5" fill="#6668b2" stroke="#1e1e1e" stroke-width="0.5"/>
<circle cx="64.09" cy="315.40" r="1.5" fill="#6668b2" stroke="#1e1e1e" stroke-width="0.5"/>
<circle cx="66.40" cy="350.06" r="1.5" fill="#6668b2" stroke="#1e1e1e" stroke-width="0.5"/>
<circle cx="62.28" cy="310.54" r="1.5" fill="#6668b2" stroke="#1e1e1e" stroke-width="0.5"/>
<circle cx="65.27" cy="373.45" r="1.5" fill="#6668b2" stroke="#1e1e1e" stroke-width="0.5"/>
<circle cx="61.49" cy="336.69" r="1.5" fill="#6668b2" stroke="#1e1e1e" stroke-width="0.5"/>
<circle cx="73.44" cy="341.58" r="1.5" fill="#6668b2" stroke="#1e1e1e" stroke-width="0.5"/>
<circle cx="67.75" cy="346.38" r="1.5" fill="#6668b2" stroke="#1e1e1e" stroke-width="0.5"/>
<circle cx="68.39" cy="355.51" r="1.5" fill="#6668b2" stroke="#1e1e1e" stroke-width="0.5"/>
<circle cx="72.17" cy="344.24" r="1.5" fill="#6668b2" stroke="#1e1e1e" stroke-width="0.5"/>
<circle cx="73.12" cy="337.84" r="1.5" fill="#6668b2" stroke="#1e1e1e" stroke-width="0.5"/>
<circle cx="57.10" cy="344.41" r="1.5" fill="#6668b2" stroke="#1e1e1e" stroke-width="0.5"/>
<circle cx="66.72" cy="366.57" r="1.5" fill="#6668b2" stroke="#1e1e1e" stroke-width="0.5"/>
<circle cx="70.17" cy="339.61" r="1.5" fill="#6668b2" stroke="#1e1e1e" stroke-width="0.5"/>
<circle cx="64.20" cy="355.06" r="1.5" fill="#6668b2" stroke="#1e1e1e" stroke-width="0.5"/>
<circle cx="64.18" cy="326.46" r="1.5" fill="#6668b2" stroke="#1e1e1e" stroke-width="0.5"/>
<circle cx="71.34" cy="348.67" r="1.5" fill="#6668b2" stroke="#1e1e1e" stroke-width="0.5"/>
<circle cx="55.54" cy="338.29" r="1.5" fill="#6668b2" stroke="#1e1e1e" stroke-width="0.5"/>
<circle cx="69.02" cy="342.86" r="1.5" fill="#6668b2" stroke="#1e1e1e" stroke-width="0.5"/>
<circle cx="62.83" cy="367.70" r="1.5" fill="#6668b2" stroke="#1e1e1e" stroke-width="0.5"/>
<circle cx="63.69" cy="360.23" r="1.5" fill="#6668b2" stroke="#1e1e1e" stroke-width="0.5"/>
<circle cx="57.84" cy="352.25" r="1.5" fill="#6668b2" stroke="#1e1e1e" stroke-width="0.5"/>
<circle cx="62.47" cy="370.71" r="1.5" fill="#6668b2" stroke="#1e1e1e" stroke-width="0.5"/>
<circle cx="64.96" cy="330.75" r="1.5" fill="#6668b2" stroke="#1e1e1e" stroke-width="0.5"/>
<circle cx="69.41" cy="362.12" r="1.5" fill="#6668b2" stroke="#1e1e1e" stroke-width="0.5"/>
<circle cx="61.50" cy="328.54" r="1.5" fill="#6668b2" stroke="#1e1e1e" stroke-width="0.5"/>
<circle cx="70.79" cy="357.88" r="1.5" fill="#6668b2" stroke="#1e1e1e" stroke-width="0.5"/>
<circle cx="73.95" cy="346.55" r="1.5" fill="#6668b2" stroke="#1e1e1e" stroke-width="0.5"/>
<circle cx="64.90" cy="339.80" r="1.5" fill="#111111" stroke="#1e1e1e" stroke-width="0.5"/>
<circle cx="64.90" cy="343.90" r="1.5" fill="#ec4a6c" stroke="#1e1e1e" stroke-width="0.5"/>
<line x1="92.16" y1="366.3" x2="92.16" y2="420.6" stroke="#222" stroke-width="0.9"/>
<path d="M91.86,371.00 L91.68,371.50 L91.51,372.00 L91.34,372.50 L91.19,373.00 L91.03,373.50 L90.87,374.00 L90.70,374.50 L90.52,375.00 L90.33,375.50 L90.13,376.00 L89.91,376.50 L89.66,377.00 L89.39,377.50 L89.09,378.00 L88.76,378.50 L88.41,379.00 L88.04,379.50 L87.64,380.00 L87.23,380.50 L86.79,381.00 L86.34,381.50 L85.86,382.00 L85.28,382.50 L84.62,383.00 L83.91,383.50 L83.20,384.00 L82.51,384.50 L81.90,385.00 L81.39,385.50 L81.02,386.00 L80.84,386.50 L81.01,387.00 L81.50,387.50 L82.19,388.00 L82.96,388.50 L83.69,389.00 L84.26,389.50 L84.80,390.00 L85.38,390.50 L85.97,391.00 L86.51,391.50 L86.98,392.00 L87.33,392.50 L87.53,393.00 L87.54,393.50 L87.43,394.00 L87.21,394.50 L86.91,395.00 L86.56,395.50 L86.17,396.00 L85.77,396.50 L85.39,397.00 L85.04,397.50 L84.76,398.00 L84.56,398.50 L84.41,399.00 L84.30,399.50 L84.21,400.00 L84.16,400.50 L84.15,401.00 L84.18,401.50 L84.25,402.00 L84.38,402.50 L84.56,403.00 L84.81,403.50 L85.14,404.00 L85.54,404.50 L85.98,405.00 L86.45,405.50 L86.93,406.00 L87.39,406.50 L87.83,407.00 L88.22,407.50 L88.55,408.00 L88.84,408.50 L89.11,409.00 L89.35,409.50 L89.59,410.00 L89.82,410.50 L90.05,411.00 L90.29,411.50 L90.55,412.00 L90.83,412.50 L91.16,413.00 L91.51,413.50 L91.86,414.00 L92.45,414.00 L92.80,413.50 L93.15,413.00 L93.48,412.50 L93.76,412.00 L94.02,411.50 L94.26,411.00 L94.49,410.50 L94.72,410.00 L94.96,409.50 L95.20,409.00 L95.47,408.50 L95.76,408.00 L96.09,407.50 L96.48,407.00 L96.92,406.50 L97.38,406.00 L97.86,405.50 L98.33,405.00 L98.77,404.50 L99.17,404.00 L99.50,403.50 L99.75,403.00 L99.93,402.50 L100.06,402.00 L100.13,401.50 L100.16,401.00 L100.15,400.50 L100.10,400.00 L100.01,399.50 L99.90,399.00 L99.75,398.50 L99.55,398.00 L99.27,397.50 L98.92,397.00 L98.54,396.50 L98.14,396.00 L97.75,395.50 L97.40,395.00 L97.10,394.50 L96.88,394.00 L96.77,393.50 L96.78,393.00 L96.98,392.50 L97.33,392.00 L97.80,391.50 L98.34,391.00 L98.93,390.50 L99.51,390.00 L100.05,389.50 L100.62,389.00 L101.35,388.50 L102.12,388.00 L102.81,387.50 L103.30,387.00 L103.47,386.50 L103.29,386.00 L102.92,385.50 L102.41,385.00 L101.80,384.50 L101.11,384.00 L100.40,383.50 L99.69,383.00 L99.03,382.50 L98.45,382.00 L97.97,381.50 L97.52,381.00 L97.08,380.50 L96.67,380.00 L96.27,379.50 L95.90,379.00 L95.55,378.50 L95.22,378.00 L94.92,377.50 L94.65,377.00 L94.40,376.50 L94.18,376.00 L93.98,375.50 L93.79,375.00 L93.61,374.50 L93.44,374.00 L93.28,373.50 L93.12,373.00 L92.97,372.50 L92.80,372.00 L92.63,371.50 L92.45,371.00Z" fill="#c0cbe2" stroke="#1a1a1a" stroke-width="0.9"/>
<line x1="81.63" y1="385.25" x2="102.68" y2="385.25" stroke="#555" stroke-width="0.6" stroke-dasharray="1.6,1.1"/>
<line x1="86.76" y1="391.75" x2="97.55" y2="391.75" stroke="#333" stroke-width="0.75"/>
<line x1="84.15" y1="401.00" x2="100.16" y2="401.00" stroke="#555" stroke-width="0.6" stroke-dasharray="1.6,1.1"/>
<circle cx="93.67" cy="389.09" r="1.5" fill="#2b62ad" stroke="#1e1e1e" stroke-width="0.5"/>
<circle cx="95.47" cy="386.72" r="1.5" fill="#2b62ad" stroke="#1e1e1e" stroke-width="0.5"/>
<circle cx="94.20" cy="395.11" r="1.5" fill="#2b62ad" stroke="#1e1e1e" stroke-width="0.5"/>
<circle cx="88.09" cy="383.73" r="1.5" fill="#2b62ad" stroke="#1e1e1e" stroke-width="0.5"/>
<circle cx="97.54" cy="403.45" r="1.5" fill="#2b62ad" stroke="#1e1e1e" stroke-width="0.5"/>
<circle cx="86.72" cy="390.59" r="1.5" fill="#2b62ad" stroke="#1e1e1e" stroke-width="0.5"/>
<circle cx="88.68" cy="399.72" r="1.5" fill="#2b62ad" stroke="#1e1e1e" stroke-width="0.5"/>
<circle cx="86.63" cy="402.57" r="1.5" fill="#2b62ad" stroke="#1e1e1e" stroke-width="0.5"/>
<circle cx="89.91" cy="408.79" r="1.5" fill="#2b62ad" stroke="#1e1e1e" stroke-width="0.5"/>
<circle cx="86.07" cy="387.05" r="1.5" fill="#2b62ad" stroke="#1e1e1e" stroke-width="0.5"/>
<circle cx="99.19" cy="385.78" r="1.5" fill="#2b62ad" stroke="#1e1e1e" stroke-width="0.5"/>
<circle cx="91.19" cy="404.06" r="1.5" fill="#2b62ad" stroke="#1e1e1e" stroke-width="0.5"/>
<circle cx="102.55" cy="386.86" r="1.5" fill="#2b62ad" stroke="#1e1e1e" stroke-width="0.5"/>
<circle cx="96.23" cy="400.47" r="1.5" fill="#2b62ad" stroke="#1e1e1e" stroke-width="0.5"/>
<circle cx="89.75" cy="386.62" r="1.5" fill="#2b62ad" stroke="#1e1e1e" stroke-width="0.5"/>
<circle cx="99.23" cy="389.27" r="1.5" fill="#2b62ad" stroke="#1e1e1e" stroke-width="0.5"/>
<circle cx="88.47" cy="396.58" r="1.5" fill="#2b62ad" stroke="#1e1e1e" stroke-width="0.5"/>
<circle cx="95.79" cy="383.09" r="1.5" fill="#2b62ad" stroke="#1e1e1e" stroke-width="0.5"/>
<circle cx="95.97" cy="391.62" r="1.5" fill="#2b62ad" stroke="#1e1e1e" stroke-width="0.5"/>
<circle cx="85.10" cy="399.27" r="1.5" fill="#2b62ad" stroke="#1e1e1e" stroke-width="0.5"/>
<circle cx="84.61" cy="384.39" r="1.5" fill="#2b62ad" stroke="#1e1e1e" stroke-width="0.5"/>
<circle cx="92.84" cy="377.06" r="1.5" fill="#2b62ad" stroke="#1e1e1e" stroke-width="0.5"/>
<circle cx="95.53" cy="406.93" r="1.5" fill="#2b62ad" stroke="#1e1e1e" stroke-width="0.5"/>
<circle cx="92.53" cy="406.72" r="1.5" fill="#2b62ad" stroke="#1e1e1e" stroke-width="0.5"/>
<circle cx="91.66" cy="374.28" r="1.5" fill="#2b62ad" stroke="#1e1e1e" stroke-width="0.5"/>
<circle cx="90.92" cy="391.13" r="1.5" fill="#2b62ad" stroke="#1e1e1e" stroke-width="0.5"/>
<circle cx="91.61" cy="411.89" r="1.5" fill="#2b62ad" stroke="#1e1e1e" stroke-width="0.5"/>
<circle cx="89.30" cy="378.74" r="1.5" fill="#2b62ad" stroke="#1e1e1e" stroke-width="0.5"/>
<circle cx="88.24" cy="405.04" r="1.5" fill="#2b62ad" stroke="#1e1e1e" stroke-width="0.5"/>
<circle cx="81.84" cy="386.60" r="1.5" fill="#2b62ad" stroke="#1e1e1e" stroke-width="0.5"/>
<circle cx="90.09" cy="393.96" r="1.5" fill="#2b62ad" stroke="#1e1e1e" stroke-width="0.5"/>
<circle cx="94.17" cy="409.78" r="1.5" fill="#2b62ad" stroke="#1e1e1e" stroke-width="0.5"/>
<circle cx="94.48" cy="379.45" r="1.5" fill="#2b62ad" stroke="#1e1e1e" stroke-width="0.5"/>
<circle cx="97.54" cy="397.02" r="1.5" fill="#2b62ad" stroke="#1e1e1e" stroke-width="0.5"/>
<circle cx="92.16" cy="382.50" r="1.5" fill="#111111" stroke="#1e1e1e" stroke-width="0.5"/>
<circle cx="92.16" cy="399.00" r="1.5" fill="#ec4a6c" stroke="#1e1e1e" stroke-width="0.5"/>
<line x1="119.41" y1="380.3" x2="119.41" y2="428.5" stroke="#222" stroke-width="0.9"/>
<path d="M119.01,409.00 L117.08,409.50 L115.41,410.00 L114.21,410.50 L113.14,411.00 L112.20,411.50 L111.41,412.00 L110.74,412.50 L110.15,413.00 L109.66,413.50 L109.25,414.00 L108.91,414.50 L108.65,415.00 L108.47,415.50 L108.38,416.00 L108.36,416.50 L108.41,417.00 L108.53,417.50 L108.72,418.00 L108.96,418.50 L109.24,419.00 L109.56,419.50 L109.91,420.00 L110.31,420.50 L110.79,421.00 L111.30,421.50 L111.85,422.00 L112.41,422.50 L112.94,423.00 L113.47,423.50 L114.09,424.00 L114.91,424.50 L116.09,425.00 L117.55,425.50 L119.01,426.00 L119.81,426.00 L121.27,425.50 L122.73,425.00 L123.91,424.50 L124.73,424.00 L125.35,423.50 L125.88,423.00 L126.41,422.50 L126.97,422.00 L127.52,421.50 L128.03,421.00 L128.51,420.50 L128.91,420.00 L129.26,419.50 L129.58,419.00 L129.86,418.50 L130.10,418.00 L130.29,417.50 L130.41,417.00 L130.46,416.50 L130.44,416.00 L130.35,415.50 L130.17,415.00 L129.91,414.50 L129.57,414.00 L129.16,413.50 L128.67,413.00 L128.08,412.50 L127.41,412.00 L126.62,411.50 L125.68,411.00 L124.61,410.50 L123.41,410.00 L121.74,409.50 L119.81,409.00Z" fill="#c4d6ea" stroke="#1a1a1a" stroke-width="0.9"/>
<line x1="109.25" y1="414.00" x2="129.57" y2="414.00" stroke="#555" stroke-width="0.6" stroke-dasharray="1.6,1.1"/>
<line x1="108.41" y1="417.00" x2="130.41" y2="417.00" stroke="#333" stroke-width="0.75"/>
<line x1="110.10" y1="420.25" x2="128.72" y2="420.25" stroke="#555" stroke-width="0.6" stroke-dasharray="1.6,1.1"/>
<circle cx="125.36" cy="414.70" r="1.5" fill="#2a78c0" stroke="#1e1e1e" stroke-width="0.5"/>
<circle cx="125.81" cy="416.99" r="1.5" fill="#2a78c0" stroke="#1e1e1e" stroke-width="0.5"/>
<circle cx="128.58" cy="417.00" r="1.5" fill="#2a78c0" stroke="#1e1e1e" stroke-width="0.5"/>
<circle cx="111.96" cy="412.54" r="1.5" fill="#2a78c0" stroke="#1e1e1e" stroke-width="0.5"/>
<circle cx="123.82" cy="419.51" r="1.5" fill="#2a78c0" stroke="#1e1e1e" stroke-width="0.5"/>
<circle cx="118.19" cy="421.91" r="1.5" fill="#2a78c0" stroke="#1e1e1e" stroke-width="0.5"/>
<circle cx="115.25" cy="411.01" r="1.5" fill="#2a78c0" stroke="#1e1e1e" stroke-width="0.5"/>
<circle cx="116.91" cy="419.96" r="1.5" fill="#2a78c0" stroke="#1e1e1e" stroke-width="0.5"/>
<circle cx="128.76" cy="419.34" r="1.5" fill="#2a78c0" stroke="#1e1e1e" stroke-width="0.5"/>
<circle cx="122.66" cy="415.98" r="1.5" fill="#2a78c0" stroke="#1e1e1e" stroke-width="0.5"/>
<circle cx="121.16" cy="423.34" r="1.5" fill="#2a78c0" stroke="#1e1e1e" stroke-width="0.5"/>
<circle cx="116.92" cy="424.16" r="1.5" fill="#2a78c0" stroke="#1e1e1e" stroke-width="0.5"/>
<circle cx="125.20" cy="421.90" r="1.5" fill="#2a78c0" stroke="#1e1e1e" stroke-width="0.5"/>
<circle cx="112.99" cy="415.00" r="1.5" fill="#2a78c0" stroke="#1e1e1e" stroke-width="0.5"/>
<circle cx="115.19" cy="422.64" r="1.5" fill="#2a78c0" stroke="#1e1e1e" stroke-width="0.5"/>
<circle cx="110.05" cy="419.18" r="1.5" fill="#2a78c0" stroke="#1e1e1e" stroke-width="0.5"/>
<circle cx="118.42" cy="410.65" r="1.5" fill="#2a78c0" stroke="#1e1e1e" stroke-width="0.5"/>
<circle cx="118.69" cy="414.26" r="1.5" fill="#2a78c0" stroke="#1e1e1e" stroke-width="0.5"/>
<circle cx="112.81" cy="420.48" r="1.5" fill="#2a78c0" stroke="#1e1e1e" stroke-width="0.5"/>
<circle cx="120.55" cy="421.09" r="1.5" fill="#2a78c0" stroke="#1e1e1e" stroke-width="0.5"/>
<circle cx="110.32" cy="415.11" r="1.5" fill="#2a78c0" stroke="#1e1e1e" stroke-width="0.5"/>
<circle cx="114.17" cy="417.02" r="1.5" fill="#2a78c0" stroke="#1e1e1e" stroke-width="0.5"/>
<circle cx="122.82" cy="424.95" r="1.5" fill="#2a78c0" stroke="#1e1e1e" stroke-width="0.5"/>
<circle cx="128.39" cy="413.97" r="1.5" fill="#2a78c0" stroke="#1e1e1e" stroke-width="0.5"/>
<circle cx="120.89" cy="409.74" r="1.5" fill="#2a78c0" stroke="#1e1e1e" stroke-width="0.5"/>
<circle cx="124.55" cy="411.71" r="1.5" fill="#2a78c0" stroke="#1e1e1e" stroke-width="0.5"/>
<circle cx="127.20" cy="411.89" r="1.5" fill="#2a78c0" stroke="#1e1e1e" stroke-width="0.5"/>
<circle cx="111.67" cy="417.19" r="1.5" fill="#2a78c0" stroke="#1e1e1e" stroke-width="0.5"/>
<circle cx="108.96" cy="417.05" r="1.5" fill="#2a78c0" stroke="#1e1e1e" stroke-width="0.5"/>
<circle cx="119.28" cy="425.54" r="1.5" fill="#2a78c0" stroke="#1e1e1e" stroke-width="0.5"/>
<circle cx="126.44" cy="419.73" r="1.5" fill="#2a78c0" stroke="#1e1e1e" stroke-width="0.5"/>
<circle cx="120.20" cy="412.07" r="1.5" fill="#2a78c0" stroke="#1e1e1e" stroke-width="0.5"/>
<circle cx="116.57" cy="417.59" r="1.5" fill="#2a78c0" stroke="#1e1e1e" stroke-width="0.5"/>
<circle cx="121.70" cy="418.67" r="1.5" fill="#2a78c0" stroke="#1e1e1e" stroke-width="0.5"/>
<circle cx="114.23" cy="413.11" r="1.5" fill="#2a78c0" stroke="#1e1e1e" stroke-width="0.5"/>
<circle cx="122.78" cy="421.54" r="1.5" fill="#2a78c0" stroke="#1e1e1e" stroke-width="0.5"/>
<circle cx="120.96" cy="414.47" r="1.5" fill="#2a78c0" stroke="#1e1e1e" stroke-width="0.5"/>
<circle cx="112.78" cy="422.80" r="1.5" fill="#2a78c0" stroke="#1e1e1e" stroke-width="0.5"/>
<circle cx="130.23" cy="415.29" r="1.5" fill="#2a78c0" stroke="#1e1e1e" stroke-width="0.5"/>
<circle cx="116.41" cy="414.20" r="1.5" fill="#111111" stroke="#1e1e1e" stroke-width="0.5"/>
<circle cx="122.41" cy="412.50" r="1.5" fill="#111111" stroke="#1e1e1e" stroke-width="0.5"/>
<circle cx="119.71" cy="417.40" r="1.5" fill="#ec4a6c" stroke="#1e1e1e" stroke-width="0.5"/>
<circle cx="119.41" cy="380.30" r="1.5" fill="#ec4a6c" stroke="#1e1e1e" stroke-width="0.5"/>
<line x1="146.67" y1="361" x2="146.67" y2="429" stroke="#222" stroke-width="0.9"/>
<path d="M146.27,365.00 L146.11,365.50 L145.94,366.00 L145.76,366.50 L145.58,367.00 L145.40,367.50 L145.23,368.00 L145.08,368.50 L144.95,369.00 L144.84,369.50 L144.77,370.00 L144.71,370.50 L144.67,371.00 L144.63,371.50 L144.61,372.00 L144.58,372.50 L144.57,373.00 L144.56,373.50 L144.55,374.00 L144.55,374.50 L144.55,375.00 L144.55,375.50 L144.56,376.00 L144.56,376.50 L144.57,377.00 L144.57,377.50 L144.58,378.00 L144.58,378.50 L144.58,379.00 L144.57,379.50 L144.57,380.00 L144.56,380.50 L144.55,381.00 L144.54,381.50 L144.53,382.00 L144.53,382.50 L144.52,383.00 L144.52,383.50 L144.51,384.00 L144.51,384.50 L144.50,385.00 L144.49,385.50 L144.48,386.00 L144.48,386.50 L144.46,387.00 L144.45,387.50 L144.44,388.00 L144.42,388.50 L144.41,389.00 L144.39,389.50 L144.37,390.00 L144.34,390.50 L144.32,391.00 L144.29,391.50 L144.26,392.00 L144.23,392.50 L144.20,393.00 L144.16,393.50 L144.12,394.00 L144.07,394.50 L144.02,395.00 L143.97,395.50 L143.91,396.00 L143.84,396.50 L143.77,397.00 L143.68,397.50 L143.57,398.00 L143.44,398.50 L143.30,399.00 L143.15,399.50 L142.99,400.00 L142.83,400.50 L142.67,401.00 L142.50,401.50 L142.34,402.00 L142.18,402.50 L142.02,403.00 L141.86,403.50 L141.69,404.00 L141.53,404.50 L141.35,405.00 L141.18,405.50 L140.99,406.00 L140.80,406.50 L140.60,407.00 L140.39,407.50 L140.17,408.00 L139.92,408.50 L139.63,409.00 L139.31,409.50 L138.98,410.00 L138.64,410.50 L138.30,411.00 L137.97,411.50 L137.67,412.00 L137.35,412.50 L137.02,413.00 L136.68,413.50 L136.35,414.00 L136.05,414.50 L135.79,415.00 L135.59,415.50 L135.47,416.00 L135.40,416.50 L135.38,417.00 L135.40,417.50 L135.45,418.00 L135.52,418.50 L135.62,419.00 L135.74,419.50 L135.87,420.00 L136.02,420.50 L136.17,421.00 L136.34,421.50 L136.55,422.00 L136.80,422.50 L137.07,423.00 L137.35,423.50 L137.63,424.00 L137.91,424.50 L138.17,425.00 L138.41,425.50 L138.65,426.00 L138.89,426.50 L139.12,427.00 L139.36,427.50 L139.60,428.00 L139.83,428.50 L140.07,429.00 L140.17,429.20 L153.17,429.20 L153.26,429.00 L153.50,428.50 L153.73,428.00 L153.97,427.50 L154.21,427.00 L154.44,426.50 L154.68,426.00 L154.92,425.50 L155.17,425.00 L155.42,424.50 L155.70,424.00 L155.98,423.50 L156.26,423.00 L156.53,422.50 L156.78,422.00 L156.99,421.50 L157.17,421.00 L157.31,420.50 L157.46,420.00 L157.59,419.50 L157.71,419.00 L157.81,418.50 L157.88,418.00 L157.93,417.50 L157.95,417.00 L157.93,416.50 L157.87,416.00 L157.74,415.50 L157.54,415.00 L157.28,414.50 L156.98,414.00 L156.65,413.50 L156.31,413.00 L155.98,412.50 L155.67,412.00 L155.36,411.50 L155.03,411.00 L154.69,410.50 L154.35,410.00 L154.02,409.50 L153.70,409.00 L153.41,408.50 L153.17,408.00 L152.94,407.50 L152.73,407.00 L152.53,406.50 L152.34,406.00 L152.15,405.50 L151.98,405.00 L151.80,404.50 L151.64,404.00 L151.47,403.50 L151.31,403.00 L151.15,402.50 L150.99,402.00 L150.83,401.50 L150.67,401.00 L150.50,400.50 L150.34,400.00 L150.18,399.50 L150.03,399.00 L149.89,398.50 L149.76,398.00 L149.65,397.50 L149.57,397.00 L149.49,396.50 L149.42,396.00 L149.36,395.50 L149.31,395.00 L149.26,394.50 L149.21,394.00 L149.17,393.50 L149.13,393.00 L149.10,392.50 L149.07,392.00 L149.04,391.50 L149.01,391.00 L148.99,390.50 L148.97,390.00 L148.94,389.50 L148.92,389.00 L148.91,388.50 L148.89,388.00 L148.88,387.50 L148.87,387.00 L148.85,386.50 L148.85,386.00 L148.84,385.50 L148.83,385.00 L148.82,384.50 L148.82,384.00 L148.81,383.50 L148.81,383.00 L148.80,382.50 L148.80,382.00 L148.79,381.50 L148.78,381.00 L148.77,380.50 L148.77,380.00 L148.76,379.50 L148.75,379.00 L148.75,378.50 L148.75,378.00 L148.76,377.50 L148.76,377.00 L148.77,376.50 L148.77,376.00 L148.78,375.50 L148.78,375.00 L148.78,374.50 L148.78,374.00 L148.77,373.50 L148.76,373.00 L148.75,372.50 L148.72,372.00 L148.70,371.50 L148.66,371.00 L148.62,370.50 L148.57,370.00 L148.49,369.50 L148.38,369.00 L148.25,368.50 L148.10,368.00 L147.93,367.50 L147.75,367.00 L147.57,366.50 L147.39,366.00 L147.22,365.50 L147.07,365.00Z" fill="#c6dcee" stroke="#1a1a1a" stroke-width="0.9"/>
<line x1="142.83" y1="400.50" x2="150.50" y2="400.50" stroke="#555" stroke-width="0.6" stroke-dasharray="1.6,1.1"/>
<line x1="137.02" y1="413.00" x2="156.31" y2="413.00" stroke="#333" stroke-width="0.75"/>
<line x1="135.94" y1="420.25" x2="157.39" y2="420.25" stroke="#555" stroke-width="0.6" stroke-dasharray="1.6,1.1"/>
<circle cx="146.63" cy="406.37" r="1.5" fill="#3a8bca" stroke="#1e1e1e" stroke-width="0.5"/>
<circle cx="147.61" cy="422.27" r="1.5" fill="#3a8bca" stroke="#1e1e1e" stroke-width="0.5"/>
<circle cx="150.41" cy="419.33" r="1.5" fill="#3a8bca" stroke="#1e1e1e" stroke-width="0.5"/>
<circle cx="156.32" cy="418.40" r="1.5" fill="#3a8bca" stroke="#1e1e1e" stroke-width="0.5"/>
<circle cx="142.87" cy="414.58" r="1.5" fill="#3a8bca" stroke="#1e1e1e" stroke-width="0.5"/>
<circle cx="151.80" cy="422.01" r="1.5" fill="#3a8bca" stroke="#1e1e1e" stroke-width="0.5"/>
<circle cx="140.71" cy="427.71" r="1.5" fill="#3a8bca" stroke="#1e1e1e" stroke-width="0.5"/>
<circle cx="143.66" cy="418.20" r="1.5" fill="#3a8bca" stroke="#1e1e1e" stroke-width="0.5"/>
<circle cx="147.41" cy="412.07" r="1.5" fill="#3a8bca" stroke="#1e1e1e" stroke-width="0.5"/>
<circle cx="153.71" cy="410.97" r="1.5" fill="#3a8bca" stroke="#1e1e1e" stroke-width="0.5"/>
<circle cx="136.97" cy="419.36" r="1.5" fill="#3a8bca" stroke="#1e1e1e" stroke-width="0.5"/>
<circle cx="141.83" cy="407.57" r="1.5" fill="#3a8bca" stroke="#1e1e1e" stroke-width="0.5"/>
<circle cx="147.52" cy="418.07" r="1.5" fill="#3a8bca" stroke="#1e1e1e" stroke-width="0.5"/>
<circle cx="144.39" cy="426.86" r="1.5" fill="#3a8bca" stroke="#1e1e1e" stroke-width="0.5"/>
<circle cx="153.40" cy="416.81" r="1.5" fill="#3a8bca" stroke="#1e1e1e" stroke-width="0.5"/>
<circle cx="137.73" cy="415.88" r="1.5" fill="#3a8bca" stroke="#1e1e1e" stroke-width="0.5"/>
<circle cx="155.15" cy="421.88" r="1.5" fill="#3a8bca" stroke="#1e1e1e" stroke-width="0.5"/>
<circle cx="152.14" cy="425.27" r="1.5" fill="#3a8bca" stroke="#1e1e1e" stroke-width="0.5"/>
<circle cx="150.78" cy="406.56" r="1.5" fill="#3a8bca" stroke="#1e1e1e" stroke-width="0.5"/>
<circle cx="144.71" cy="408.56" r="1.5" fill="#3a8bca" stroke="#1e1e1e" stroke-width="0.5"/>
<circle cx="151.33" cy="413.47" r="1.5" fill="#3a8bca" stroke="#1e1e1e" stroke-width="0.5"/>
<circle cx="139.81" cy="423.37" r="1.5" fill="#3a8bca" stroke="#1e1e1e" stroke-width="0.5"/>
<circle cx="144.61" cy="403.68" r="1.5" fill="#3a8bca" stroke="#1e1e1e" stroke-width="0.5"/>
<circle cx="143.58" cy="423.67" r="1.5" fill="#3a8bca" stroke="#1e1e1e" stroke-width="0.5"/>
<circle cx="148.63" cy="426.71" r="1.5" fill="#3a8bca" stroke="#1e1e1e" stroke-width="0.5"/>
<circle cx="140.40" cy="418.70" r="1.5" fill="#3a8bca" stroke="#1e1e1e" stroke-width="0.5"/>
<circle cx="151.27" cy="428.94" r="1.5" fill="#3a8bca" stroke="#1e1e1e" stroke-width="0.5"/>
<circle cx="150.08" cy="416.19" r="1.5" fill="#3a8bca" stroke="#1e1e1e" stroke-width="0.5"/>
<circle cx="139.54" cy="413.55" r="1.5" fill="#3a8bca" stroke="#1e1e1e" stroke-width="0.5"/>
<circle cx="140.49" cy="410.57" r="1.5" fill="#3a8bca" stroke="#1e1e1e" stroke-width="0.5"/>
<circle cx="149.94" cy="409.90" r="1.5" fill="#3a8bca" stroke="#1e1e1e" stroke-width="0.5"/>
<circle cx="143.63" cy="411.27" r="1.5" fill="#3a8bca" stroke="#1e1e1e" stroke-width="0.5"/>
<circle cx="156.13" cy="414.55" r="1.5" fill="#3a8bca" stroke="#1e1e1e" stroke-width="0.5"/>
<circle cx="149.56" cy="402.15" r="1.5" fill="#3a8bca" stroke="#1e1e1e" stroke-width="0.5"/>
<circle cx="146.67" cy="376.00" r="1.5" fill="#3a8bca" stroke="#1e1e1e" stroke-width="0.5"/>
<circle cx="146.67" cy="380.00" r="1.5" fill="#3a8bca" stroke="#1e1e1e" stroke-width="0.5"/>
<circle cx="146.67" cy="391.00" r="1.5" fill="#3a8bca" stroke="#1e1e1e" stroke-width="0.5"/>
<circle cx="146.67" cy="397.50" r="1.5" fill="#3a8bca" stroke="#1e1e1e" stroke-width="0.5"/>
<circle cx="146.67" cy="371.00" r="1.5" fill="#111111" stroke="#1e1e1e" stroke-width="0.5"/>
<circle cx="146.67" cy="386.00" r="1.5" fill="#ec4a6c" stroke="#1e1e1e" stroke-width="0.5"/>
<circle cx="146.67" cy="401.00" r="1.5" fill="#ec4a6c" stroke="#1e1e1e" stroke-width="0.5"/>
<circle cx="146.67" cy="415.00" r="1.5" fill="#111111" stroke="#1e1e1e" stroke-width="0.5"/>
<circle cx="145.07" cy="394.50" r="1.5" fill="#3a8bca" stroke="#1e1e1e" stroke-width="0.5"/>
<circle cx="148.27" cy="394.50" r="1.5" fill="#3a8bca" stroke="#1e1e1e" stroke-width="0.5"/>
<line x1="173.92" y1="348" x2="173.92" y2="404" stroke="#222" stroke-width="0.9"/>
<path d="M173.52,355.00 L173.17,355.50 L172.83,356.00 L172.48,356.50 L172.14,357.00 L171.78,357.50 L171.42,358.00 L171.03,358.50 L170.60,359.00 L170.17,359.50 L169.74,360.00 L169.35,360.50 L169.00,361.00 L168.72,361.50 L168.52,362.00 L168.38,362.50 L168.29,363.00 L168.24,363.50 L168.20,364.00 L168.16,364.50 L168.12,365.00 L168.10,365.50 L168.13,366.00 L168.17,366.50 L168.18,367.00 L168.15,367.50 L168.02,368.00 L167.80,368.50 L167.51,369.00 L167.16,369.50 L166.77,370.00 L166.36,370.50 L165.92,371.00 L165.37,371.50 L164.67,372.00 L163.95,372.50 L163.33,373.00 L162.91,373.50 L162.83,374.00 L163.09,374.50 L163.57,375.00 L164.21,375.50 L164.92,376.00 L165.62,376.50 L166.22,377.00 L166.69,377.50 L167.14,378.00 L167.58,378.50 L168.02,379.00 L168.44,379.50 L168.85,380.00 L169.24,380.50 L169.61,381.00 L169.96,381.50 L170.28,382.00 L170.58,382.50 L170.82,383.00 L171.00,383.50 L171.15,384.00 L171.25,384.50 L171.32,385.00 L171.38,385.50 L171.42,386.00 L171.45,386.50 L171.46,387.00 L171.46,387.50 L171.44,388.00 L171.42,388.50 L171.39,389.00 L171.36,389.50 L171.32,390.00 L171.29,390.50 L171.27,391.00 L171.25,391.50 L171.25,392.00 L171.26,392.50 L171.29,393.00 L171.35,393.50 L171.42,394.00 L171.55,394.50 L171.75,395.00 L172.00,395.50 L172.30,396.00 L172.61,396.50 L172.93,397.00 L173.24,397.50 L173.52,398.00 L174.32,398.00 L174.60,397.50 L174.91,397.00 L175.23,396.50 L175.55,396.00 L175.84,395.50 L176.09,395.00 L176.29,394.50 L176.42,394.00 L176.49,393.50 L176.55,393.00 L176.58,392.50 L176.59,392.00 L176.59,391.50 L176.57,391.00 L176.55,390.50 L176.52,390.00 L176.48,389.50 L176.45,389.00 L176.42,388.50 L176.40,388.00 L176.38,387.50 L176.38,387.00 L176.39,386.50 L176.42,386.00 L176.46,385.50 L176.52,385.00 L176.59,384.50 L176.69,384.00 L176.84,383.50 L177.02,383.00 L177.26,382.50 L177.56,382.00 L177.88,381.50 L178.23,381.00 L178.60,380.50 L178.99,380.00 L179.40,379.50 L179.82,379.00 L180.26,378.50 L180.70,378.00 L181.15,377.50 L181.62,377.00 L182.22,376.50 L182.92,376.00 L183.63,375.50 L184.27,375.00 L184.75,374.50 L185.01,374.00 L184.93,373.50 L184.51,373.00 L183.89,372.50 L183.17,372.00 L182.47,371.50 L181.92,371.00 L181.48,370.50 L181.07,370.00 L180.68,369.50 L180.33,369.00 L180.04,368.50 L179.82,368.00 L179.69,367.50 L179.66,367.00 L179.67,366.50 L179.71,366.00 L179.74,365.50 L179.72,365.00 L179.68,364.50 L179.64,364.00 L179.60,363.50 L179.55,363.00 L179.46,362.50 L179.32,362.00 L179.12,361.50 L178.84,361.00 L178.49,360.50 L178.10,360.00 L177.67,359.50 L177.24,359.00 L176.81,358.50 L176.42,358.00 L176.06,357.50 L175.70,357.00 L175.36,356.50 L175.01,356.00 L174.67,355.50 L174.32,355.00Z" fill="#c4e2ee" stroke="#1a1a1a" stroke-width="0.9"/>
<line x1="168.18" y1="367.00" x2="179.66" y2="367.00" stroke="#555" stroke-width="0.6" stroke-dasharray="1.6,1.1"/>
<line x1="162.91" y1="373.50" x2="184.93" y2="373.50" stroke="#333" stroke-width="0.75"/>
<line x1="168.44" y1="379.50" x2="179.40" y2="379.50" stroke="#555" stroke-width="0.6" stroke-dasharray="1.6,1.1"/>
<circle cx="178.58" cy="373.25" r="1.5" fill="#2fa0cb" stroke="#1e1e1e" stroke-width="0.5"/>
<circle cx="174.02" cy="375.14" r="1.5" fill="#2fa0cb" stroke="#1e1e1e" stroke-width="0.5"/>
<circle cx="164.83" cy="374.21" r="1.5" fill="#2fa0cb" stroke="#1e1e1e" stroke-width="0.5"/>
<circle cx="172.46" cy="360.85" r="1.5" fill="#2fa0cb" stroke="#1e1e1e" stroke-width="0.5"/>
<circle cx="177.97" cy="364.24" r="1.5" fill="#2fa0cb" stroke="#1e1e1e" stroke-width="0.5"/>
<circle cx="168.50" cy="375.68" r="1.5" fill="#2fa0cb" stroke="#1e1e1e" stroke-width="0.5"/>
<circle cx="174.68" cy="369.25" r="1.5" fill="#2fa0cb" stroke="#1e1e1e" stroke-width="0.5"/>
<circle cx="167.49" cy="369.92" r="1.5" fill="#2fa0cb" stroke="#1e1e1e" stroke-width="0.5"/>
<circle cx="178.76" cy="376.43" r="1.5" fill="#2fa0cb" stroke="#1e1e1e" stroke-width="0.5"/>
<circle cx="169.88" cy="379.90" r="1.5" fill="#2fa0cb" stroke="#1e1e1e" stroke-width="0.5"/>
<circle cx="169.07" cy="365.73" r="1.5" fill="#2fa0cb" stroke="#1e1e1e" stroke-width="0.5"/>
<circle cx="177.87" cy="367.85" r="1.5" fill="#2fa0cb" stroke="#1e1e1e" stroke-width="0.5"/>
<circle cx="175.10" cy="381.69" r="1.5" fill="#2fa0cb" stroke="#1e1e1e" stroke-width="0.5"/>
<circle cx="183.06" cy="374.04" r="1.5" fill="#2fa0cb" stroke="#1e1e1e" stroke-width="0.5"/>
<circle cx="170.94" cy="372.38" r="1.5" fill="#2fa0cb" stroke="#1e1e1e" stroke-width="0.5"/>
<circle cx="172.06" cy="384.28" r="1.5" fill="#2fa0cb" stroke="#1e1e1e" stroke-width="0.5"/>
<circle cx="178.00" cy="360.84" r="1.5" fill="#2fa0cb" stroke="#1e1e1e" stroke-width="0.5"/>
<circle cx="171.92" cy="368.27" r="1.5" fill="#2fa0cb" stroke="#1e1e1e" stroke-width="0.5"/>
<circle cx="174.43" cy="385.96" r="1.5" fill="#2fa0cb" stroke="#1e1e1e" stroke-width="0.5"/>
<circle cx="180.20" cy="370.26" r="1.5" fill="#2fa0cb" stroke="#1e1e1e" stroke-width="0.5"/>
<circle cx="173.92" cy="389.00" r="1.5" fill="#2fa0cb" stroke="#1e1e1e" stroke-width="0.5"/>
<circle cx="173.92" cy="395.00" r="1.5" fill="#2fa0cb" stroke="#1e1e1e" stroke-width="0.5"/>
<circle cx="173.92" cy="365.60" r="1.5" fill="#ec4a6c" stroke="#1e1e1e" stroke-width="0.5"/>
<circle cx="173.92" cy="379.00" r="1.5" fill="#111111" stroke="#1e1e1e" stroke-width="0.5"/>
<line x1="201.18" y1="356.1" x2="201.18" y2="412" stroke="#222" stroke-width="0.9"/>
<path d="M200.78,358.00 L200.43,358.50 L200.09,359.00 L199.75,359.50 L199.40,360.00 L199.05,360.50 L198.68,361.00 L198.28,361.50 L197.87,362.00 L197.45,362.50 L197.02,363.00 L196.60,363.50 L196.18,364.00 L195.75,364.50 L195.32,365.00 L194.89,365.50 L194.47,366.00 L194.06,366.50 L193.68,367.00 L193.31,367.50 L192.95,368.00 L192.61,368.50 L192.28,369.00 L191.97,369.50 L191.68,370.00 L191.37,370.50 L191.02,371.00 L190.67,371.50 L190.34,372.00 L190.06,372.50 L189.85,373.00 L189.76,373.50 L189.80,374.00 L190.26,374.50 L191.05,375.00 L191.94,375.50 L192.68,376.00 L193.25,376.50 L193.80,377.00 L194.33,377.50 L194.82,378.00 L195.27,378.50 L195.68,379.00 L196.02,379.50 L196.32,380.00 L196.58,380.50 L196.80,381.00 L196.99,381.50 L197.18,382.00 L197.35,382.50 L197.50,383.00 L197.64,383.50 L197.73,384.00 L197.78,384.50 L197.78,385.00 L197.69,385.50 L197.55,386.00 L197.36,386.50 L197.13,387.00 L196.90,387.50 L196.68,388.00 L196.43,388.50 L196.16,389.00 L195.88,389.50 L195.60,390.00 L195.36,390.50 L195.18,391.00 L195.04,391.50 L194.95,392.00 L194.88,392.50 L194.85,393.00 L194.85,393.50 L194.88,394.00 L194.93,394.50 L195.02,395.00 L195.13,395.50 L195.28,396.00 L195.46,396.50 L195.68,397.00 L195.94,397.50 L196.25,398.00 L196.60,398.50 L196.96,399.00 L197.33,399.50 L197.68,400.00 L198.01,400.50 L198.35,401.00 L198.69,401.50 L199.03,402.00 L199.36,402.50 L199.68,403.00 L199.97,403.50 L200.24,404.00 L200.51,404.50 L200.78,405.00 L201.58,405.00 L201.84,404.50 L202.11,404.00 L202.38,403.50 L202.68,403.00 L202.99,402.50 L203.32,402.00 L203.66,401.50 L204.00,401.00 L204.34,400.50 L204.68,400.00 L205.02,399.50 L205.39,399.00 L205.75,398.50 L206.10,398.00 L206.41,397.50 L206.68,397.00 L206.89,396.50 L207.07,396.00 L207.22,395.50 L207.33,395.00 L207.42,394.50 L207.48,394.00 L207.50,393.50 L207.50,393.00 L207.47,392.50 L207.40,392.00 L207.31,391.50 L207.18,391.00 L206.99,390.50 L206.75,390.00 L206.48,389.50 L206.19,389.00 L205.92,388.50 L205.68,388.00 L205.45,387.50 L205.22,387.00 L204.99,386.50 L204.80,386.00 L204.66,385.50 L204.58,385.00 L204.57,384.50 L204.62,384.00 L204.71,383.50 L204.85,383.00 L205.00,382.50 L205.18,382.00 L205.36,381.50 L205.55,381.00 L205.78,380.50 L206.03,380.00 L206.33,379.50 L206.68,379.00 L207.08,378.50 L207.53,378.00 L208.02,377.50 L208.55,377.00 L209.10,376.50 L209.68,376.00 L210.41,375.50 L211.30,375.00 L212.09,374.50 L212.55,374.00 L212.59,373.50 L212.50,373.00 L212.29,372.50 L212.01,372.00 L211.68,371.50 L211.33,371.00 L210.98,370.50 L210.68,370.00 L210.38,369.50 L210.07,369.00 L209.74,368.50 L209.40,368.00 L209.04,367.50 L208.68,367.00 L208.29,366.50 L207.88,366.00 L207.46,365.50 L207.03,365.00 L206.60,364.50 L206.18,364.00 L205.75,363.50 L205.33,363.00 L204.90,362.50 L204.48,362.00 L204.07,361.50 L203.68,361.00 L203.30,360.50 L202.95,360.00 L202.60,359.50 L202.26,359.00 L201.92,358.50 L201.58,358.00Z" fill="#c4e2ee" stroke="#1a1a1a" stroke-width="0.9"/>
<line x1="189.78" y1="373.90" x2="212.58" y2="373.90" stroke="#333" stroke-width="0.75"/>
<line x1="194.89" y1="394.20" x2="207.46" y2="394.20" stroke="#555" stroke-width="0.6" stroke-dasharray="1.6,1.1"/>
<circle cx="201.18" cy="373.90" r="1.5" fill="#ec4a6c" stroke="#1e1e1e" stroke-width="0.5"/>
<circle cx="201.18" cy="394.40" r="1.5" fill="#3aa8c8" stroke="#1e1e1e" stroke-width="0.5"/>
<line x1="228.43" y1="320.7" x2="228.43" y2="416.6" stroke="#222" stroke-width="0.9"/>
<path d="M228.03,328.70 L227.91,329.20 L227.79,329.70 L227.67,330.20 L227.54,330.70 L227.42,331.20 L227.30,331.70 L227.18,332.20 L227.06,332.70 L226.93,333.20 L226.80,333.70 L226.66,334.20 L226.53,334.70 L226.40,335.20 L226.28,335.70 L226.16,336.20 L226.05,336.70 L225.94,337.20 L225.85,337.70 L225.76,338.20 L225.68,338.70 L225.60,339.20 L225.52,339.70 L225.44,340.20 L225.37,340.70 L225.30,341.20 L225.23,341.70 L225.16,342.20 L225.09,342.70 L225.03,343.20 L224.96,343.70 L224.90,344.20 L224.83,344.70 L224.77,345.20 L224.70,345.70 L224.64,346.20 L224.57,346.70 L224.51,347.20 L224.44,347.70 L224.37,348.20 L224.30,348.70 L224.23,349.20 L224.16,349.70 L224.09,350.20 L224.01,350.70 L223.94,351.20 L223.87,351.70 L223.79,352.20 L223.72,352.70 L223.64,353.20 L223.57,353.70 L223.49,354.20 L223.42,354.70 L223.34,355.20 L223.27,355.70 L223.20,356.20 L223.12,356.70 L223.05,357.20 L222.97,357.70 L222.90,358.20 L222.82,358.70 L222.75,359.20 L222.68,359.70 L222.60,360.20 L222.53,360.70 L222.46,361.20 L222.38,361.70 L222.31,362.20 L222.23,362.70 L222.16,363.20 L222.08,363.70 L222.01,364.20 L221.93,364.70 L221.86,365.20 L221.78,365.70 L221.71,366.20 L221.64,366.70 L221.57,367.20 L221.50,367.70 L221.43,368.20 L221.37,368.70 L221.30,369.20 L221.24,369.70 L221.19,370.20 L221.14,370.70 L221.10,371.20 L221.06,371.70 L221.03,372.20 L221.01,372.70 L220.98,373.20 L220.95,373.70 L220.91,374.20 L220.87,374.70 L220.82,375.20 L220.77,375.70 L220.70,376.20 L220.61,376.70 L220.52,377.20 L220.41,377.70 L220.29,378.20 L220.16,378.70 L220.02,379.20 L219.88,379.70 L219.74,380.20 L219.59,380.70 L219.45,381.20 L219.30,381.70 L219.16,382.20 L219.03,382.70 L218.90,383.20 L218.78,383.70 L218.65,384.20 L218.51,384.70 L218.36,385.20 L218.21,385.70 L218.07,386.20 L217.92,386.70 L217.79,387.20 L217.67,387.70 L217.57,388.20 L217.49,388.70 L217.44,389.20 L217.41,389.70 L217.42,390.20 L217.47,390.70 L217.54,391.20 L217.63,391.70 L217.74,392.20 L217.88,392.70 L218.04,393.20 L218.21,393.70 L218.40,394.20 L218.61,394.70 L218.83,395.20 L219.06,395.70 L219.31,396.20 L219.56,396.70 L219.83,397.20 L220.12,397.70 L220.44,398.20 L220.79,398.70 L221.17,399.20 L221.56,399.70 L221.97,400.20 L222.39,400.70 L222.81,401.20 L223.24,401.70 L223.66,402.20 L224.07,402.70 L224.47,403.20 L224.87,403.70 L225.28,404.20 L225.70,404.70 L226.11,405.20 L226.53,405.70 L226.95,406.20 L227.37,406.70 L227.78,407.20 L228.03,407.50 L228.83,407.50 L229.08,407.20 L229.49,406.70 L229.91,406.20 L230.33,405.70 L230.75,405.20 L231.16,404.70 L231.58,404.20 L231.99,403.70 L232.39,403.20 L232.79,402.70 L233.20,402.20 L233.62,401.70 L234.05,401.20 L234.47,400.70 L234.89,400.20 L235.30,399.70 L235.69,399.20 L236.07,398.70 L236.42,398.20 L236.74,397.70 L237.03,397.20 L237.30,396.70 L237.55,396.20 L237.80,395.70 L238.03,395.20 L238.25,394.70 L238.46,394.20 L238.65,393.70 L238.82,393.20 L238.98,392.70 L239.12,392.20 L239.23,391.70 L239.32,391.20 L239.39,390.70 L239.44,390.20 L239.45,389.70 L239.42,389.20 L239.37,388.70 L239.29,388.20 L239.19,387.70 L239.07,387.20 L238.94,386.70 L238.79,386.20 L238.65,385.70 L238.50,385.20 L238.35,384.70 L238.21,384.20 L238.08,383.70 L237.96,383.20 L237.83,382.70 L237.70,382.20 L237.56,381.70 L237.41,381.20 L237.27,380.70 L237.12,380.20 L236.98,379.70 L236.84,379.20 L236.70,378.70 L236.57,378.20 L236.45,377.70 L236.34,377.20 L236.25,376.70 L236.16,376.20 L236.09,375.70 L236.04,375.20 L235.99,374.70 L235.95,374.20 L235.91,373.70 L235.88,373.20 L235.85,372.70 L235.83,372.20 L235.80,371.70 L235.76,371.20 L235.72,370.70 L235.67,370.20 L235.62,369.70 L235.56,369.20 L235.49,368.70 L235.43,368.20 L235.36,367.70 L235.29,367.20 L235.22,366.70 L235.15,366.20 L235.08,365.70 L235.00,365.20 L234.93,364.70 L234.85,364.20 L234.78,363.70 L234.70,363.20 L234.63,362.70 L234.55,362.20 L234.48,361.70 L234.40,361.20 L234.33,360.70 L234.26,360.20 L234.18,359.70 L234.11,359.20 L234.04,358.70 L233.96,358.20 L233.89,357.70 L233.81,357.20 L233.74,356.70 L233.66,356.20 L233.59,355.70 L233.52,355.20 L233.44,354.70 L233.37,354.20 L233.29,353.70 L233.22,353.20 L233.14,352.70 L233.07,352.20 L232.99,351.70 L232.92,351.20 L232.85,350.70 L232.77,350.20 L232.70,349.70 L232.63,349.20 L232.56,348.70 L232.49,348.20 L232.42,347.70 L232.35,347.20 L232.29,346.70 L232.22,346.20 L232.16,345.70 L232.09,345.20 L232.03,344.70 L231.96,344.20 L231.90,343.70 L231.83,343.20 L231.77,342.70 L231.70,342.20 L231.63,341.70 L231.56,341.20 L231.49,340.70 L231.42,340.20 L231.34,339.70 L231.26,339.20 L231.18,338.70 L231.10,338.20 L231.01,337.70 L230.92,337.20 L230.81,336.70 L230.70,336.20 L230.58,335.70 L230.46,335.20 L230.33,334.70 L230.20,334.20 L230.06,333.70 L229.93,333.20 L229.80,332.70 L229.68,332.20 L229.56,331.70 L229.44,331.20 L229.32,330.70 L229.19,330.20 L229.07,329.70 L228.95,329.20 L228.83,328.70Z" fill="#c8e8e2" stroke="#1a1a1a" stroke-width="0.9"/>
<line x1="222.49" y1="361.00" x2="234.37" y2="361.00" stroke="#555" stroke-width="0.6" stroke-dasharray="1.6,1.1"/>
<line x1="220.56" y1="377.00" x2="236.30" y2="377.00" stroke="#333" stroke-width="0.75"/>
<line x1="217.51" y1="391.00" x2="239.35" y2="391.00" stroke="#555" stroke-width="0.6" stroke-dasharray="1.6,1.1"/>
<circle cx="228.43" cy="339.00" r="1.5" fill="#3aab9c" stroke="#1e1e1e" stroke-width="0.5"/>
<circle cx="228.43" cy="349.70" r="1.5" fill="#ec4a6c" stroke="#1e1e1e" stroke-width="0.5"/>
<circle cx="228.43" cy="355.60" r="1.5" fill="#3aab9c" stroke="#1e1e1e" stroke-width="0.5"/>
<circle cx="228.43" cy="359.50" r="1.5" fill="#3aab9c" stroke="#1e1e1e" stroke-width="0.5"/>
<circle cx="228.43" cy="363.40" r="1.5" fill="#111111" stroke="#1e1e1e" stroke-width="0.5"/>
<circle cx="232.23" cy="364.10" r="1.5" fill="#3aab9c" stroke="#1e1e1e" stroke-width="0.5"/>
<circle cx="222.23" cy="377.10" r="1.5" fill="#3aab9c" stroke="#1e1e1e" stroke-width="0.5"/>
<circle cx="228.43" cy="376.20" r="1.5" fill="#3aab9c" stroke="#1e1e1e" stroke-width="0.5"/>
<circle cx="235.53" cy="374.80" r="1.5" fill="#3aab9c" stroke="#1e1e1e" stroke-width="0.5"/>
<circle cx="222.23" cy="388.00" r="1.5" fill="#3aab9c" stroke="#1e1e1e" stroke-width="0.5"/>
<circle cx="235.53" cy="385.80" r="1.5" fill="#3aab9c" stroke="#1e1e1e" stroke-width="0.5"/>
<circle cx="235.53" cy="388.80" r="1.5" fill="#3aab9c" stroke="#1e1e1e" stroke-width="0.5"/>
<circle cx="235.53" cy="391.80" r="1.5" fill="#3aab9c" stroke="#1e1e1e" stroke-width="0.5"/>
<circle cx="235.53" cy="394.90" r="1.5" fill="#3aab9c" stroke="#1e1e1e" stroke-width="0.5"/>
<circle cx="228.43" cy="394.50" r="1.5" fill="#3aab9c" stroke="#1e1e1e" stroke-width="0.5"/>
<circle cx="222.23" cy="397.20" r="1.5" fill="#3aab9c" stroke="#1e1e1e" stroke-width="0.5"/>
<line x1="255.69" y1="324" x2="255.69" y2="403.7" stroke="#222" stroke-width="0.9"/>
<path d="M255.28,372.50 L254.35,373.00 L253.40,373.50 L252.46,374.00 L251.55,374.50 L250.69,375.00 L249.85,375.50 L249.02,376.00 L248.21,376.50 L247.46,377.00 L246.77,377.50 L246.19,378.00 L245.67,378.50 L245.20,379.00 L244.80,379.50 L244.50,380.00 L244.32,380.50 L244.28,381.00 L244.44,381.50 L244.79,382.00 L245.26,382.50 L245.78,383.00 L246.27,383.50 L246.69,384.00 L247.02,384.50 L247.34,385.00 L247.65,385.50 L247.94,386.00 L248.22,386.50 L248.48,387.00 L248.73,387.50 L248.97,388.00 L249.20,388.50 L249.41,389.00 L249.62,389.50 L249.83,390.00 L250.03,390.50 L250.24,391.00 L250.46,391.50 L250.69,392.00 L250.91,392.50 L251.14,393.00 L251.36,393.50 L251.59,394.00 L251.83,394.50 L252.09,395.00 L252.37,395.50 L252.69,396.00 L253.05,396.50 L253.46,397.00 L253.91,397.50 L254.37,398.00 L254.84,398.50 L255.28,399.00 L256.08,399.00 L256.53,398.50 L257.00,398.00 L257.46,397.50 L257.91,397.00 L258.32,396.50 L258.69,396.00 L259.00,395.50 L259.28,395.00 L259.54,394.50 L259.78,394.00 L260.01,393.50 L260.23,393.00 L260.46,392.50 L260.69,392.00 L260.91,391.50 L261.13,391.00 L261.34,390.50 L261.54,390.00 L261.75,389.50 L261.96,389.00 L262.17,388.50 L262.40,388.00 L262.64,387.50 L262.89,387.00 L263.15,386.50 L263.43,386.00 L263.72,385.50 L264.03,385.00 L264.35,384.50 L264.69,384.00 L265.10,383.50 L265.59,383.00 L266.11,382.50 L266.58,382.00 L266.93,381.50 L267.08,381.00 L267.05,380.50 L266.87,380.00 L266.57,379.50 L266.17,379.00 L265.70,378.50 L265.19,378.00 L264.60,377.50 L263.91,377.00 L263.16,376.50 L262.35,376.00 L261.52,375.50 L260.69,375.00 L259.82,374.50 L258.91,374.00 L257.97,373.50 L257.02,373.00 L256.08,372.50Z" fill="#c8e8e2" stroke="#1a1a1a" stroke-width="0.9"/>
<line x1="244.99" y1="379.25" x2="266.38" y2="379.25" stroke="#555" stroke-width="0.6" stroke-dasharray="1.6,1.1"/>
<line x1="246.03" y1="383.25" x2="265.34" y2="383.25" stroke="#333" stroke-width="0.75"/>
<line x1="249.20" y1="388.50" x2="262.17" y2="388.50" stroke="#555" stroke-width="0.6" stroke-dasharray="1.6,1.1"/>
<circle cx="247.03" cy="383.34" r="1.5" fill="#3aa898" stroke="#1e1e1e" stroke-width="0.5"/>
<circle cx="252.36" cy="391.79" r="1.5" fill="#3aa898" stroke="#1e1e1e" stroke-width="0.5"/>
<circle cx="260.58" cy="377.94" r="1.5" fill="#3aa898" stroke="#1e1e1e" stroke-width="0.5"/>
<circle cx="251.27" cy="377.41" r="1.5" fill="#3aa898" stroke="#1e1e1e" stroke-width="0.5"/>
<circle cx="252.64" cy="383.57" r="1.5" fill="#3aa898" stroke="#1e1e1e" stroke-width="0.5"/>
<circle cx="260.06" cy="381.34" r="1.5" fill="#3aa898" stroke="#1e1e1e" stroke-width="0.5"/>
<circle cx="262.99" cy="379.81" r="1.5" fill="#3aa898" stroke="#1e1e1e" stroke-width="0.5"/>
<circle cx="258.86" cy="389.52" r="1.5" fill="#3aa898" stroke="#1e1e1e" stroke-width="0.5"/>
<circle cx="259.31" cy="392.74" r="1.5" fill="#3aa898" stroke="#1e1e1e" stroke-width="0.5"/>
<circle cx="263.29" cy="382.88" r="1.5" fill="#3aa898" stroke="#1e1e1e" stroke-width="0.5"/>
<circle cx="257.20" cy="374.29" r="1.5" fill="#3aa898" stroke="#1e1e1e" stroke-width="0.5"/>
<circle cx="246.97" cy="380.37" r="1.5" fill="#3aa898" stroke="#1e1e1e" stroke-width="0.5"/>
<circle cx="255.12" cy="385.55" r="1.5" fill="#3aa898" stroke="#1e1e1e" stroke-width="0.5"/>
<circle cx="250.23" cy="381.55" r="1.5" fill="#3aa898" stroke="#1e1e1e" stroke-width="0.5"/>
<circle cx="253.59" cy="380.50" r="1.5" fill="#3aa898" stroke="#1e1e1e" stroke-width="0.5"/>
<circle cx="258.72" cy="384.65" r="1.5" fill="#3aa898" stroke="#1e1e1e" stroke-width="0.5"/>
<circle cx="261.91" cy="386.67" r="1.5" fill="#3aa898" stroke="#1e1e1e" stroke-width="0.5"/>
<circle cx="249.66" cy="387.56" r="1.5" fill="#3aa898" stroke="#1e1e1e" stroke-width="0.5"/>
<circle cx="255.78" cy="398.86" r="1.5" fill="#3aa898" stroke="#1e1e1e" stroke-width="0.5"/>
<circle cx="256.77" cy="382.25" r="1.5" fill="#3aa898" stroke="#1e1e1e" stroke-width="0.5"/>
<circle cx="255.47" cy="392.29" r="1.5" fill="#3aa898" stroke="#1e1e1e" stroke-width="0.5"/>
<circle cx="253.33" cy="374.91" r="1.5" fill="#3aa898" stroke="#1e1e1e" stroke-width="0.5"/>
<circle cx="256.67" cy="395.42" r="1.5" fill="#3aa898" stroke="#1e1e1e" stroke-width="0.5"/>
<circle cx="252.81" cy="387.61" r="1.5" fill="#3aa898" stroke="#1e1e1e" stroke-width="0.5"/>
<circle cx="266.05" cy="381.42" r="1.5" fill="#3aa898" stroke="#1e1e1e" stroke-width="0.5"/>
<circle cx="253.75" cy="395.42" r="1.5" fill="#3aa898" stroke="#1e1e1e" stroke-width="0.5"/>
<circle cx="248.16" cy="377.03" r="1.5" fill="#3aa898" stroke="#1e1e1e" stroke-width="0.5"/>
<circle cx="249.69" cy="384.56" r="1.5" fill="#3aa898" stroke="#1e1e1e" stroke-width="0.5"/>
<circle cx="255.69" cy="329.00" r="1.5" fill="#3aa898" stroke="#1e1e1e" stroke-width="0.5"/>
<circle cx="255.69" cy="378.30" r="1.5" fill="#ec4a6c" stroke="#1e1e1e" stroke-width="0.5"/>
<circle cx="255.69" cy="388.50" r="1.5" fill="#111111" stroke="#1e1e1e" stroke-width="0.5"/>
<line x1="282.94" y1="329.9" x2="282.94" y2="413" stroke="#222" stroke-width="0.9"/>
<path d="M282.54,337.00 L282.28,337.50 L282.00,338.00 L281.72,338.50 L281.46,339.00 L281.26,339.50 L281.14,340.00 L281.08,340.50 L281.02,341.00 L280.97,341.50 L280.93,342.00 L280.90,342.50 L280.88,343.00 L280.86,343.50 L280.84,344.00 L280.83,344.50 L280.82,345.00 L280.81,345.50 L280.81,346.00 L280.80,346.50 L280.80,347.00 L280.80,347.50 L280.79,348.00 L280.78,348.50 L280.77,349.00 L280.76,349.50 L280.74,350.00 L280.72,350.50 L280.72,351.00 L280.72,351.50 L280.72,352.00 L280.73,352.50 L280.74,353.00 L280.74,353.50 L280.73,354.00 L280.72,354.50 L280.70,355.00 L280.66,355.50 L280.61,356.00 L280.53,356.50 L280.44,357.00 L280.30,357.50 L280.11,358.00 L279.88,358.50 L279.61,359.00 L279.33,359.50 L279.03,360.00 L278.73,360.50 L278.44,361.00 L278.14,361.50 L277.80,362.00 L277.44,362.50 L277.10,363.00 L276.79,363.50 L276.54,364.00 L276.33,364.50 L276.12,365.00 L275.92,365.50 L275.73,366.00 L275.54,366.50 L275.36,367.00 L275.18,367.50 L275.00,368.00 L274.83,368.50 L274.66,369.00 L274.49,369.50 L274.32,370.00 L274.15,370.50 L273.98,371.00 L273.81,371.50 L273.64,372.00 L273.45,372.50 L273.25,373.00 L273.03,373.50 L272.80,374.00 L272.58,374.50 L272.37,375.00 L272.17,375.50 L272.00,376.00 L271.87,376.50 L271.78,377.00 L271.74,377.50 L271.75,378.00 L271.81,378.50 L271.91,379.00 L272.04,379.50 L272.21,380.00 L272.41,380.50 L272.63,381.00 L272.87,381.50 L273.14,382.00 L273.42,382.50 L273.71,383.00 L274.02,383.50 L274.34,384.00 L274.73,384.50 L275.18,385.00 L275.67,385.50 L276.18,386.00 L276.70,386.50 L277.21,387.00 L277.69,387.50 L278.13,388.00 L278.50,388.50 L278.80,389.00 L279.01,389.50 L279.12,390.00 L279.17,390.50 L279.16,391.00 L279.10,391.50 L279.01,392.00 L278.88,392.50 L278.73,393.00 L278.57,393.50 L278.40,394.00 L278.23,394.50 L278.08,395.00 L277.94,395.50 L277.83,396.00 L277.76,396.50 L277.73,397.00 L277.75,397.50 L277.87,398.00 L278.08,398.50 L278.38,399.00 L278.73,399.50 L279.12,400.00 L279.53,400.50 L279.94,401.00 L280.41,401.50 L280.97,402.00 L281.58,402.50 L282.19,403.00 L282.54,403.30 L283.34,403.30 L283.69,403.00 L284.30,402.50 L284.91,402.00 L285.47,401.50 L285.94,401.00 L286.35,400.50 L286.76,400.00 L287.15,399.50 L287.50,399.00 L287.80,398.50 L288.01,398.00 L288.13,397.50 L288.15,397.00 L288.12,396.50 L288.05,396.00 L287.94,395.50 L287.80,395.00 L287.65,394.50 L287.48,394.00 L287.31,393.50 L287.15,393.00 L287.00,392.50 L286.87,392.00 L286.78,391.50 L286.72,391.00 L286.71,390.50 L286.76,390.00 L286.87,389.50 L287.08,389.00 L287.38,388.50 L287.75,388.00 L288.19,387.50 L288.67,387.00 L289.18,386.50 L289.70,386.00 L290.21,385.50 L290.70,385.00 L291.15,384.50 L291.54,384.00 L291.86,383.50 L292.17,383.00 L292.46,382.50 L292.74,382.00 L293.01,381.50 L293.25,381.00 L293.47,380.50 L293.67,380.00 L293.84,379.50 L293.97,379.00 L294.07,378.50 L294.13,378.00 L294.14,377.50 L294.10,377.00 L294.01,376.50 L293.88,376.00 L293.71,375.50 L293.51,375.00 L293.30,374.50 L293.08,374.00 L292.85,373.50 L292.63,373.00 L292.43,372.50 L292.24,372.00 L292.07,371.50 L291.90,371.00 L291.73,370.50 L291.56,370.00 L291.39,369.50 L291.22,369.00 L291.05,368.50 L290.88,368.00 L290.70,367.50 L290.52,367.00 L290.34,366.50 L290.15,366.00 L289.96,365.50 L289.76,365.00 L289.55,364.50 L289.34,364.00 L289.09,363.50 L288.78,363.00 L288.44,362.50 L288.08,362.00 L287.74,361.50 L287.44,361.00 L287.15,360.50 L286.85,360.00 L286.55,359.50 L286.27,359.00 L286.00,358.50 L285.77,358.00 L285.58,357.50 L285.44,357.00 L285.35,356.50 L285.27,356.00 L285.22,355.50 L285.18,355.00 L285.16,354.50 L285.15,354.00 L285.14,353.50 L285.14,353.00 L285.15,352.50 L285.16,352.00 L285.16,351.50 L285.16,351.00 L285.16,350.50 L285.14,350.00 L285.12,349.50 L285.11,349.00 L285.10,348.50 L285.09,348.00 L285.08,347.50 L285.08,347.00 L285.08,346.50 L285.07,346.00 L285.07,345.50 L285.06,345.00 L285.05,344.50 L285.04,344.00 L285.02,343.50 L285.00,343.00 L284.98,342.50 L284.95,342.00 L284.91,341.50 L284.86,341.00 L284.80,340.50 L284.74,340.00 L284.62,339.50 L284.42,339.00 L284.16,338.50 L283.88,338.00 L283.60,337.50 L283.34,337.00Z" fill="#cdece2" stroke="#1a1a1a" stroke-width="0.9"/>
<line x1="275.63" y1="366.25" x2="290.25" y2="366.25" stroke="#555" stroke-width="0.6" stroke-dasharray="1.6,1.1"/>
<line x1="272.00" y1="376.00" x2="293.88" y2="376.00" stroke="#333" stroke-width="0.75"/>
<line x1="274.53" y1="384.25" x2="291.35" y2="384.25" stroke="#555" stroke-width="0.6" stroke-dasharray="1.6,1.1"/>
<circle cx="277.53" cy="369.93" r="1.5" fill="#4cb09a" stroke="#1e1e1e" stroke-width="0.5"/>
<circle cx="273.19" cy="375.16" r="1.5" fill="#4cb09a" stroke="#1e1e1e" stroke-width="0.5"/>
<circle cx="284.86" cy="373.29" r="1.5" fill="#4cb09a" stroke="#1e1e1e" stroke-width="0.5"/>
<circle cx="284.21" cy="384.51" r="1.5" fill="#4cb09a" stroke="#1e1e1e" stroke-width="0.5"/>
<circle cx="282.22" cy="371.20" r="1.5" fill="#4cb09a" stroke="#1e1e1e" stroke-width="0.5"/>
<circle cx="276.18" cy="375.38" r="1.5" fill="#4cb09a" stroke="#1e1e1e" stroke-width="0.5"/>
<circle cx="284.82" cy="398.67" r="1.5" fill="#4cb09a" stroke="#1e1e1e" stroke-width="0.5"/>
<circle cx="289.11" cy="380.00" r="1.5" fill="#4cb09a" stroke="#1e1e1e" stroke-width="0.5"/>
<circle cx="275.05" cy="378.18" r="1.5" fill="#4cb09a" stroke="#1e1e1e" stroke-width="0.5"/>
<circle cx="291.28" cy="373.17" r="1.5" fill="#4cb09a" stroke="#1e1e1e" stroke-width="0.5"/>
<circle cx="275.50" cy="384.14" r="1.5" fill="#4cb09a" stroke="#1e1e1e" stroke-width="0.5"/>
<circle cx="275.00" cy="372.43" r="1.5" fill="#4cb09a" stroke="#1e1e1e" stroke-width="0.5"/>
<circle cx="282.93" cy="391.12" r="1.5" fill="#4cb09a" stroke="#1e1e1e" stroke-width="0.5"/>
<circle cx="287.21" cy="370.05" r="1.5" fill="#4cb09a" stroke="#1e1e1e" stroke-width="0.5"/>
<circle cx="284.42" cy="368.05" r="1.5" fill="#4cb09a" stroke="#1e1e1e" stroke-width="0.5"/>
<circle cx="289.02" cy="366.66" r="1.5" fill="#4cb09a" stroke="#1e1e1e" stroke-width="0.5"/>
<circle cx="289.15" cy="383.70" r="1.5" fill="#4cb09a" stroke="#1e1e1e" stroke-width="0.5"/>
<circle cx="280.32" cy="384.20" r="1.5" fill="#4cb09a" stroke="#1e1e1e" stroke-width="0.5"/>
<circle cx="290.27" cy="370.07" r="1.5" fill="#4cb09a" stroke="#1e1e1e" stroke-width="0.5"/>
<circle cx="274.80" cy="381.20" r="1.5" fill="#4cb09a" stroke="#1e1e1e" stroke-width="0.5"/>
<circle cx="288.29" cy="373.50" r="1.5" fill="#4cb09a" stroke="#1e1e1e" stroke-width="0.5"/>
<circle cx="286.54" cy="382.31" r="1.5" fill="#4cb09a" stroke="#1e1e1e" stroke-width="0.5"/>
<circle cx="280.52" cy="368.62" r="1.5" fill="#4cb09a" stroke="#1e1e1e" stroke-width="0.5"/>
<circle cx="293.02" cy="376.89" r="1.5" fill="#4cb09a" stroke="#1e1e1e" stroke-width="0.5"/>
<circle cx="286.53" cy="361.55" r="1.5" fill="#4cb09a" stroke="#1e1e1e" stroke-width="0.5"/>
<circle cx="279.35" cy="372.93" r="1.5" fill="#4cb09a" stroke="#1e1e1e" stroke-width="0.5"/>
<circle cx="278.52" cy="364.51" r="1.5" fill="#4cb09a" stroke="#1e1e1e" stroke-width="0.5"/>
<circle cx="281.41" cy="361.87" r="1.5" fill="#4cb09a" stroke="#1e1e1e" stroke-width="0.5"/>
<circle cx="280.49" cy="395.14" r="1.5" fill="#4cb09a" stroke="#1e1e1e" stroke-width="0.5"/>
<circle cx="279.41" cy="379.56" r="1.5" fill="#4cb09a" stroke="#1e1e1e" stroke-width="0.5"/>
<circle cx="280.11" cy="388.52" r="1.5" fill="#4cb09a" stroke="#1e1e1e" stroke-width="0.5"/>
<circle cx="291.82" cy="381.27" r="1.5" fill="#4cb09a" stroke="#1e1e1e" stroke-width="0.5"/>
<circle cx="286.63" cy="378.44" r="1.5" fill="#4cb09a" stroke="#1e1e1e" stroke-width="0.5"/>
<circle cx="283.20" cy="364.16" r="1.5" fill="#4cb09a" stroke="#1e1e1e" stroke-width="0.5"/>
<circle cx="283.56" cy="395.41" r="1.5" fill="#4cb09a" stroke="#1e1e1e" stroke-width="0.5"/>
<circle cx="279.21" cy="397.75" r="1.5" fill="#4cb09a" stroke="#1e1e1e" stroke-width="0.5"/>
<circle cx="281.67" cy="399.38" r="1.5" fill="#4cb09a" stroke="#1e1e1e" stroke-width="0.5"/>
<circle cx="281.76" cy="381.63" r="1.5" fill="#4cb09a" stroke="#1e1e1e" stroke-width="0.5"/>
<circle cx="289.18" cy="376.33" r="1.5" fill="#4cb09a" stroke="#1e1e1e" stroke-width="0.5"/>
<circle cx="286.81" cy="395.53" r="1.5" fill="#4cb09a" stroke="#1e1e1e" stroke-width="0.5"/>
<circle cx="282.94" cy="339.70" r="1.5" fill="#4cb09a" stroke="#1e1e1e" stroke-width="0.5"/>
<circle cx="282.94" cy="344.60" r="1.5" fill="#4cb09a" stroke="#1e1e1e" stroke-width="0.5"/>
<circle cx="282.94" cy="355.00" r="1.5" fill="#4cb09a" stroke="#1e1e1e" stroke-width="0.5"/>
<circle cx="282.94" cy="378.80" r="1.5" fill="#ec4a6c" stroke="#1e1e1e" stroke-width="0.5"/>
<circle cx="282.94" cy="376.00" r="1.5" fill="#111111" stroke="#1e1e1e" stroke-width="0.5"/>
<circle cx="281.34" cy="349.00" r="1.5" fill="#4cb09a" stroke="#1e1e1e" stroke-width="0.5"/>
<circle cx="284.54" cy="350.00" r="1.5" fill="#4cb09a" stroke="#1e1e1e" stroke-width="0.5"/>
<line x1="310.19" y1="349.2" x2="310.19" y2="403.7" stroke="#222" stroke-width="0.9"/>
<path d="M309.89,352.00 L309.71,352.50 L309.50,353.00 L309.29,353.50 L309.08,354.00 L308.88,354.50 L308.70,355.00 L308.55,355.50 L308.44,356.00 L308.38,356.50 L308.39,357.00 L308.47,357.50 L308.58,358.00 L308.71,358.50 L308.84,359.00 L308.94,359.50 L309.00,360.00 L309.00,360.50 L308.95,361.00 L308.85,361.50 L308.69,362.00 L308.50,362.50 L308.29,363.00 L308.07,363.50 L307.83,364.00 L307.58,364.50 L307.34,365.00 L307.10,365.50 L306.88,366.00 L306.67,366.50 L306.48,367.00 L306.32,367.50 L306.20,368.00 L306.13,368.50 L306.09,369.00 L306.08,369.50 L306.08,370.00 L306.08,370.50 L306.07,371.00 L306.04,371.50 L305.98,372.00 L305.88,372.50 L305.72,373.00 L305.50,373.50 L305.19,374.00 L304.81,374.50 L304.37,375.00 L303.90,375.50 L303.41,376.00 L302.91,376.50 L302.42,377.00 L301.96,377.50 L301.55,378.00 L301.17,378.50 L300.77,379.00 L300.35,379.50 L299.95,380.00 L299.58,380.50 L299.27,381.00 L299.03,381.50 L298.90,382.00 L298.89,382.50 L299.10,383.00 L299.54,383.50 L300.12,384.00 L300.78,384.50 L301.43,385.00 L302.00,385.50 L302.39,386.00 L302.66,386.50 L302.87,387.00 L303.04,387.50 L303.19,388.00 L303.31,388.50 L303.42,389.00 L303.53,389.50 L303.64,390.00 L303.77,390.50 L303.93,391.00 L304.11,391.50 L304.33,392.00 L304.56,392.50 L304.81,393.00 L305.06,393.50 L305.32,394.00 L305.60,394.50 L305.89,395.00 L306.19,395.50 L306.51,396.00 L306.84,396.50 L307.18,397.00 L307.55,397.50 L308.04,398.00 L308.61,398.50 L309.22,399.00 L309.80,399.50 L310.59,399.50 L311.17,399.00 L311.78,398.50 L312.35,398.00 L312.84,397.50 L313.21,397.00 L313.55,396.50 L313.88,396.00 L314.20,395.50 L314.50,395.00 L314.79,394.50 L315.07,394.00 L315.33,393.50 L315.58,393.00 L315.83,392.50 L316.06,392.00 L316.28,391.50 L316.46,391.00 L316.62,390.50 L316.75,390.00 L316.86,389.50 L316.97,389.00 L317.08,388.50 L317.20,388.00 L317.35,387.50 L317.52,387.00 L317.73,386.50 L318.00,386.00 L318.39,385.50 L318.96,385.00 L319.61,384.50 L320.27,384.00 L320.85,383.50 L321.29,383.00 L321.50,382.50 L321.49,382.00 L321.36,381.50 L321.12,381.00 L320.81,380.50 L320.44,380.00 L320.04,379.50 L319.62,379.00 L319.22,378.50 L318.84,378.00 L318.43,377.50 L317.97,377.00 L317.48,376.50 L316.98,376.00 L316.49,375.50 L316.02,375.00 L315.58,374.50 L315.20,374.00 L314.89,373.50 L314.67,373.00 L314.51,372.50 L314.41,372.00 L314.35,371.50 L314.32,371.00 L314.31,370.50 L314.31,370.00 L314.31,369.50 L314.30,369.00 L314.26,368.50 L314.19,368.00 L314.07,367.50 L313.91,367.00 L313.72,366.50 L313.51,366.00 L313.29,365.50 L313.05,365.00 L312.81,364.50 L312.56,364.00 L312.32,363.50 L312.10,363.00 L311.89,362.50 L311.69,362.00 L311.54,361.50 L311.44,361.00 L311.39,360.50 L311.39,360.00 L311.45,359.50 L311.55,359.00 L311.68,358.50 L311.81,358.00 L311.92,357.50 L312.00,357.00 L312.01,356.50 L311.95,356.00 L311.84,355.50 L311.69,355.00 L311.51,354.50 L311.31,354.00 L311.10,353.50 L310.89,353.00 L310.68,352.50 L310.50,352.00Z" fill="#d3edd8" stroke="#1a1a1a" stroke-width="0.9"/>
<line x1="304.81" y1="374.50" x2="315.58" y2="374.50" stroke="#555" stroke-width="0.6" stroke-dasharray="1.6,1.1"/>
<line x1="299.14" y1="381.25" x2="321.25" y2="381.25" stroke="#333" stroke-width="0.75"/>
<line x1="303.04" y1="387.50" x2="317.35" y2="387.50" stroke="#555" stroke-width="0.6" stroke-dasharray="1.6,1.1"/>
<circle cx="306.08" cy="378.18" r="1.5" fill="#6cba82" stroke="#1e1e1e" stroke-width="0.5"/>
<circle cx="303.92" cy="385.93" r="1.5" fill="#6cba82" stroke="#1e1e1e" stroke-width="0.5"/>
<circle cx="311.58" cy="371.16" r="1.5" fill="#6cba82" stroke="#1e1e1e" stroke-width="0.5"/>
<circle cx="304.94" cy="375.42" r="1.5" fill="#6cba82" stroke="#1e1e1e" stroke-width="0.5"/>
<circle cx="316.11" cy="384.25" r="1.5" fill="#6cba82" stroke="#1e1e1e" stroke-width="0.5"/>
<circle cx="308.47" cy="388.60" r="1.5" fill="#6cba82" stroke="#1e1e1e" stroke-width="0.5"/>
<circle cx="309.76" cy="396.89" r="1.5" fill="#6cba82" stroke="#1e1e1e" stroke-width="0.5"/>
<circle cx="307.30" cy="395.18" r="1.5" fill="#6cba82" stroke="#1e1e1e" stroke-width="0.5"/>
<circle cx="316.31" cy="387.20" r="1.5" fill="#6cba82" stroke="#1e1e1e" stroke-width="0.5"/>
<circle cx="309.29" cy="377.92" r="1.5" fill="#6cba82" stroke="#1e1e1e" stroke-width="0.5"/>
<circle cx="313.01" cy="379.86" r="1.5" fill="#6cba82" stroke="#1e1e1e" stroke-width="0.5"/>
<circle cx="302.96" cy="382.94" r="1.5" fill="#6cba82" stroke="#1e1e1e" stroke-width="0.5"/>
<circle cx="316.23" cy="380.52" r="1.5" fill="#6cba82" stroke="#1e1e1e" stroke-width="0.5"/>
<circle cx="313.16" cy="366.94" r="1.5" fill="#6cba82" stroke="#1e1e1e" stroke-width="0.5"/>
<circle cx="306.05" cy="383.10" r="1.5" fill="#6cba82" stroke="#1e1e1e" stroke-width="0.5"/>
<circle cx="314.79" cy="374.71" r="1.5" fill="#6cba82" stroke="#1e1e1e" stroke-width="0.5"/>
<circle cx="304.81" cy="389.42" r="1.5" fill="#6cba82" stroke="#1e1e1e" stroke-width="0.5"/>
<circle cx="313.67" cy="391.66" r="1.5" fill="#6cba82" stroke="#1e1e1e" stroke-width="0.5"/>
<circle cx="309.66" cy="374.09" r="1.5" fill="#6cba82" stroke="#1e1e1e" stroke-width="0.5"/>
<circle cx="307.92" cy="391.60" r="1.5" fill="#6cba82" stroke="#1e1e1e" stroke-width="0.5"/>
<circle cx="308.77" cy="365.38" r="1.5" fill="#6cba82" stroke="#1e1e1e" stroke-width="0.5"/>
<circle cx="312.72" cy="386.85" r="1.5" fill="#6cba82" stroke="#1e1e1e" stroke-width="0.5"/>
<circle cx="306.89" cy="372.60" r="1.5" fill="#6cba82" stroke="#1e1e1e" stroke-width="0.5"/>
<circle cx="301.15" cy="380.05" r="1.5" fill="#6cba82" stroke="#1e1e1e" stroke-width="0.5"/>
<circle cx="307.63" cy="368.97" r="1.5" fill="#6cba82" stroke="#1e1e1e" stroke-width="0.5"/>
<circle cx="318.85" cy="378.87" r="1.5" fill="#6cba82" stroke="#1e1e1e" stroke-width="0.5"/>
<circle cx="311.15" cy="390.07" r="1.5" fill="#6cba82" stroke="#1e1e1e" stroke-width="0.5"/>
<circle cx="319.08" cy="382.70" r="1.5" fill="#6cba82" stroke="#1e1e1e" stroke-width="0.5"/>
<circle cx="310.16" cy="393.91" r="1.5" fill="#6cba82" stroke="#1e1e1e" stroke-width="0.5"/>
<circle cx="312.83" cy="383.09" r="1.5" fill="#6cba82" stroke="#1e1e1e" stroke-width="0.5"/>
<circle cx="310.19" cy="381.00" r="1.5" fill="#ec4a6c" stroke="#1e1e1e" stroke-width="0.5"/>
<circle cx="310.19" cy="384.60" r="1.5" fill="#111111" stroke="#1e1e1e" stroke-width="0.5"/>
<circle cx="310.19" cy="356.30" r="1.5" fill="#6cba82" stroke="#1e1e1e" stroke-width="0.5"/>
<line x1="337.45" y1="290.8" x2="337.45" y2="404.4" stroke="#222" stroke-width="0.9"/>
<path d="M337.15,296.00 L337.02,296.50 L336.88,297.00 L336.73,297.50 L336.58,298.00 L336.43,298.50 L336.29,299.00 L336.15,299.50 L336.02,300.00 L335.92,300.50 L335.83,301.00 L335.77,301.50 L335.74,302.00 L335.76,302.50 L335.80,303.00 L335.88,303.50 L335.98,304.00 L336.09,304.50 L336.21,305.00 L336.32,305.50 L336.42,306.00 L336.50,306.50 L336.55,307.00 L336.58,307.50 L336.61,308.00 L336.63,308.50 L336.65,309.00 L336.65,309.50 L336.66,310.00 L336.65,310.50 L336.65,311.00 L336.63,311.50 L336.61,312.00 L336.58,312.50 L336.55,313.00 L336.50,313.50 L336.44,314.00 L336.37,314.50 L336.28,315.00 L336.19,315.50 L336.10,316.00 L336.01,316.50 L335.92,317.00 L335.84,317.50 L335.77,318.00 L335.72,318.50 L335.67,319.00 L335.63,319.50 L335.60,320.00 L335.57,320.50 L335.54,321.00 L335.52,321.50 L335.50,322.00 L335.48,322.50 L335.46,323.00 L335.45,323.50 L335.43,324.00 L335.41,324.50 L335.40,325.00 L335.39,325.50 L335.39,326.00 L335.41,326.50 L335.45,327.00 L335.51,327.50 L335.58,328.00 L335.66,328.50 L335.76,329.00 L335.85,329.50 L335.95,330.00 L336.05,330.50 L336.14,331.00 L336.22,331.50 L336.28,332.00 L336.33,332.50 L336.35,333.00 L336.35,333.50 L336.34,334.00 L336.30,334.50 L336.26,335.00 L336.20,335.50 L336.14,336.00 L336.08,336.50 L336.01,337.00 L335.94,337.50 L335.88,338.00 L335.83,338.50 L335.78,339.00 L335.75,339.50 L335.73,340.00 L335.71,340.50 L335.70,341.00 L335.70,341.50 L335.70,342.00 L335.70,342.50 L335.70,343.00 L335.70,343.50 L335.70,344.00 L335.70,344.50 L335.70,345.00 L335.69,345.50 L335.68,346.00 L335.66,346.50 L335.63,347.00 L335.55,347.50 L335.46,348.00 L335.35,348.50 L335.25,349.00 L335.18,349.50 L335.14,350.00 L335.10,350.50 L335.02,351.00 L334.88,351.50 L334.65,352.00 L334.31,352.50 L333.89,353.00 L333.42,353.50 L332.92,354.00 L332.42,354.50 L331.94,355.00 L331.53,355.50 L331.15,356.00 L330.78,356.50 L330.42,357.00 L330.07,357.50 L329.74,358.00 L329.44,358.50 L329.19,359.00 L328.98,359.50 L328.82,360.00 L328.75,360.50 L328.75,361.00 L328.80,361.50 L328.91,362.00 L329.05,362.50 L329.21,363.00 L329.39,363.50 L329.72,364.00 L330.16,364.50 L330.62,365.00 L330.97,365.50 L331.09,366.00 L330.92,366.50 L330.60,367.00 L330.17,367.50 L329.67,368.00 L329.12,368.50 L328.55,369.00 L328.00,369.50 L327.50,370.00 L327.07,370.50 L326.74,371.00 L326.55,371.50 L326.47,372.00 L326.50,372.50 L326.62,373.00 L326.82,373.50 L327.08,374.00 L327.41,374.50 L327.79,375.00 L328.28,375.50 L328.86,376.00 L329.49,376.50 L330.16,377.00 L330.84,377.50 L331.50,378.00 L332.14,378.50 L332.87,379.00 L333.62,379.50 L334.33,380.00 L334.93,380.50 L335.35,381.00 L335.61,381.50 L335.78,382.00 L335.88,382.50 L335.93,383.00 L335.94,383.50 L335.94,384.00 L335.94,384.50 L335.95,385.00 L335.97,385.50 L335.97,386.00 L335.96,386.50 L335.94,387.00 L335.91,387.50 L335.89,388.00 L335.86,388.50 L335.85,389.00 L335.84,389.50 L335.85,390.00 L335.87,390.50 L335.90,391.00 L335.93,391.50 L335.97,392.00 L336.03,392.50 L336.09,393.00 L336.16,393.50 L336.25,394.00 L336.36,394.50 L336.50,395.00 L336.66,395.50 L336.82,396.00 L336.99,396.50 L337.15,397.00 L337.75,397.00 L337.91,396.50 L338.08,396.00 L338.24,395.50 L338.40,395.00 L338.54,394.50 L338.65,394.00 L338.74,393.50 L338.81,393.00 L338.87,392.50 L338.93,392.00 L338.97,391.50 L339.00,391.00 L339.03,390.50 L339.05,390.00 L339.06,389.50 L339.05,389.00 L339.04,388.50 L339.01,388.00 L338.99,387.50 L338.96,387.00 L338.94,386.50 L338.93,386.00 L338.93,385.50 L338.95,385.00 L338.96,384.50 L338.96,384.00 L338.96,383.50 L338.97,383.00 L339.02,382.50 L339.12,382.00 L339.29,381.50 L339.55,381.00 L339.97,380.50 L340.57,380.00 L341.28,379.50 L342.03,379.00 L342.76,378.50 L343.40,378.00 L344.06,377.50 L344.74,377.00 L345.41,376.50 L346.04,376.00 L346.62,375.50 L347.11,375.00 L347.49,374.50 L347.82,374.00 L348.08,373.50 L348.28,373.00 L348.40,372.50 L348.43,372.00 L348.35,371.50 L348.16,371.00 L347.83,370.50 L347.40,370.00 L346.90,369.50 L346.35,369.00 L345.78,368.50 L345.23,368.00 L344.73,367.50 L344.30,367.00 L343.98,366.50 L343.81,366.00 L343.93,365.50 L344.28,365.00 L344.74,364.50 L345.18,364.00 L345.51,363.50 L345.69,363.00 L345.85,362.50 L345.99,362.00 L346.10,361.50 L346.15,361.00 L346.15,360.50 L346.08,360.00 L345.92,359.50 L345.71,359.00 L345.46,358.50 L345.16,358.00 L344.83,357.50 L344.48,357.00 L344.12,356.50 L343.75,356.00 L343.37,355.50 L342.96,355.00 L342.48,354.50 L341.98,354.00 L341.48,353.50 L341.01,353.00 L340.59,352.50 L340.25,352.00 L340.02,351.50 L339.88,351.00 L339.80,350.50 L339.76,350.00 L339.72,349.50 L339.65,349.00 L339.55,348.50 L339.44,348.00 L339.35,347.50 L339.27,347.00 L339.24,346.50 L339.22,346.00 L339.21,345.50 L339.20,345.00 L339.20,344.50 L339.20,344.00 L339.20,343.50 L339.20,343.00 L339.20,342.50 L339.20,342.00 L339.20,341.50 L339.20,341.00 L339.19,340.50 L339.17,340.00 L339.15,339.50 L339.12,339.00 L339.07,338.50 L339.02,338.00 L338.96,337.50 L338.89,337.00 L338.82,336.50 L338.76,336.00 L338.70,335.50 L338.64,335.00 L338.60,334.50 L338.56,334.00 L338.55,333.50 L338.55,333.00 L338.57,332.50 L338.62,332.00 L338.68,331.50 L338.76,331.00 L338.85,330.50 L338.95,330.00 L339.05,329.50 L339.14,329.00 L339.24,328.50 L339.32,328.00 L339.39,327.50 L339.45,327.00 L339.49,326.50 L339.51,326.00 L339.51,325.50 L339.50,325.00 L339.49,324.50 L339.47,324.00 L339.45,323.50 L339.44,323.00 L339.42,322.50 L339.40,322.00 L339.38,321.50 L339.36,321.00 L339.33,320.50 L339.30,320.00 L339.27,319.50 L339.23,319.00 L339.18,318.50 L339.13,318.00 L339.06,317.50 L338.98,317.00 L338.89,316.50 L338.80,316.00 L338.71,315.50 L338.62,315.00 L338.53,314.50 L338.46,314.00 L338.40,313.50 L338.35,313.00 L338.32,312.50 L338.29,312.00 L338.27,311.50 L338.25,311.00 L338.25,310.50 L338.24,310.00 L338.25,309.50 L338.25,309.00 L338.27,308.50 L338.29,308.00 L338.32,307.50 L338.35,307.00 L338.40,306.50 L338.48,306.00 L338.58,305.50 L338.69,305.00 L338.81,304.50 L338.92,304.00 L339.02,303.50 L339.10,303.00 L339.14,302.50 L339.16,302.00 L339.13,301.50 L339.07,301.00 L338.98,300.50 L338.88,300.00 L338.75,299.50 L338.61,299.00 L338.47,298.50 L338.32,298.00 L338.17,297.50 L338.02,297.00 L337.88,296.50 L337.75,296.00Z" fill="#daf0d4" stroke="#1a1a1a" stroke-width="0.9"/>
<line x1="335.10" y1="350.50" x2="339.80" y2="350.50" stroke="#555" stroke-width="0.6" stroke-dasharray="1.6,1.1"/>
<line x1="329.30" y1="363.25" x2="345.60" y2="363.25" stroke="#333" stroke-width="0.75"/>
<line x1="326.55" y1="372.75" x2="348.35" y2="372.75" stroke="#555" stroke-width="0.6" stroke-dasharray="1.6,1.1"/>
<circle cx="342.21" cy="370.51" r="1.5" fill="#7cc06c" stroke="#1e1e1e" stroke-width="0.5"/>
<circle cx="344.18" cy="374.36" r="1.5" fill="#7cc06c" stroke="#1e1e1e" stroke-width="0.5"/>
<circle cx="334.04" cy="358.64" r="1.5" fill="#7cc06c" stroke="#1e1e1e" stroke-width="0.5"/>
<circle cx="341.27" cy="358.22" r="1.5" fill="#7cc06c" stroke="#1e1e1e" stroke-width="0.5"/>
<circle cx="337.87" cy="376.93" r="1.5" fill="#7cc06c" stroke="#1e1e1e" stroke-width="0.5"/>
<circle cx="339.08" cy="371.43" r="1.5" fill="#7cc06c" stroke="#1e1e1e" stroke-width="0.5"/>
<circle cx="346.38" cy="371.72" r="1.5" fill="#7cc06c" stroke="#1e1e1e" stroke-width="0.5"/>
<circle cx="327.86" cy="373.35" r="1.5" fill="#7cc06c" stroke="#1e1e1e" stroke-width="0.5"/>
<circle cx="342.69" cy="367.14" r="1.5" fill="#7cc06c" stroke="#1e1e1e" stroke-width="0.5"/>
<circle cx="337.59" cy="353.61" r="1.5" fill="#7cc06c" stroke="#1e1e1e" stroke-width="0.5"/>
<circle cx="333.17" cy="365.06" r="1.5" fill="#7cc06c" stroke="#1e1e1e" stroke-width="0.5"/>
<circle cx="331.96" cy="370.81" r="1.5" fill="#7cc06c" stroke="#1e1e1e" stroke-width="0.5"/>
<circle cx="336.67" cy="369.61" r="1.5" fill="#7cc06c" stroke="#1e1e1e" stroke-width="0.5"/>
<circle cx="330.87" cy="359.60" r="1.5" fill="#7cc06c" stroke="#1e1e1e" stroke-width="0.5"/>
<circle cx="339.94" cy="368.45" r="1.5" fill="#7cc06c" stroke="#1e1e1e" stroke-width="0.5"/>
<circle cx="341.12" cy="361.51" r="1.5" fill="#7cc06c" stroke="#1e1e1e" stroke-width="0.5"/>
<circle cx="339.34" cy="365.08" r="1.5" fill="#7cc06c" stroke="#1e1e1e" stroke-width="0.5"/>
<circle cx="330.40" cy="375.36" r="1.5" fill="#7cc06c" stroke="#1e1e1e" stroke-width="0.5"/>
<circle cx="331.15" cy="367.75" r="1.5" fill="#7cc06c" stroke="#1e1e1e" stroke-width="0.5"/>
<circle cx="332.76" cy="362.03" r="1.5" fill="#7cc06c" stroke="#1e1e1e" stroke-width="0.5"/>
<circle cx="334.42" cy="353.77" r="1.5" fill="#7cc06c" stroke="#1e1e1e" stroke-width="0.5"/>
<circle cx="343.14" cy="377.37" r="1.5" fill="#7cc06c" stroke="#1e1e1e" stroke-width="0.5"/>
<circle cx="334.69" cy="372.86" r="1.5" fill="#7cc06c" stroke="#1e1e1e" stroke-width="0.5"/>
<circle cx="335.96" cy="365.87" r="1.5" fill="#7cc06c" stroke="#1e1e1e" stroke-width="0.5"/>
<circle cx="335.48" cy="379.63" r="1.5" fill="#7cc06c" stroke="#1e1e1e" stroke-width="0.5"/>
<circle cx="344.04" cy="360.13" r="1.5" fill="#7cc06c" stroke="#1e1e1e" stroke-width="0.5"/>
<circle cx="339.33" cy="379.48" r="1.5" fill="#7cc06c" stroke="#1e1e1e" stroke-width="0.5"/>
<circle cx="328.53" cy="369.68" r="1.5" fill="#7cc06c" stroke="#1e1e1e" stroke-width="0.5"/>
<circle cx="332.14" cy="356.31" r="1.5" fill="#7cc06c" stroke="#1e1e1e" stroke-width="0.5"/>
<circle cx="341.49" cy="354.90" r="1.5" fill="#7cc06c" stroke="#1e1e1e" stroke-width="0.5"/>
<circle cx="337.70" cy="356.69" r="1.5" fill="#7cc06c" stroke="#1e1e1e" stroke-width="0.5"/>
<circle cx="333.02" cy="376.94" r="1.5" fill="#7cc06c" stroke="#1e1e1e" stroke-width="0.5"/>
<circle cx="344.16" cy="363.40" r="1.5" fill="#7cc06c" stroke="#1e1e1e" stroke-width="0.5"/>
<circle cx="340.66" cy="374.27" r="1.5" fill="#7cc06c" stroke="#1e1e1e" stroke-width="0.5"/>
<circle cx="334.00" cy="368.41" r="1.5" fill="#7cc06c" stroke="#1e1e1e" stroke-width="0.5"/>
<circle cx="329.83" cy="362.52" r="1.5" fill="#7cc06c" stroke="#1e1e1e" stroke-width="0.5"/>
<circle cx="337.45" cy="301.80" r="1.5" fill="#7cc06c" stroke="#1e1e1e" stroke-width="0.5"/>
<circle cx="337.45" cy="318.20" r="1.5" fill="#7cc06c" stroke="#1e1e1e" stroke-width="0.5"/>
<circle cx="337.45" cy="323.40" r="1.5" fill="#ec4a6c" stroke="#1e1e1e" stroke-width="0.5"/>
<circle cx="338.95" cy="326.90" r="1.5" fill="#7cc06c" stroke="#1e1e1e" stroke-width="0.5"/>
<circle cx="337.45" cy="339.50" r="1.5" fill="#7cc06c" stroke="#1e1e1e" stroke-width="0.5"/>
<circle cx="337.45" cy="346.70" r="1.5" fill="#7cc06c" stroke="#1e1e1e" stroke-width="0.5"/>
<circle cx="337.95" cy="361.30" r="1.5" fill="#111111" stroke="#1e1e1e" stroke-width="0.5"/>
<circle cx="337.45" cy="383.50" r="1.5" fill="#7cc06c" stroke="#1e1e1e" stroke-width="0.5"/>
<circle cx="337.45" cy="387.40" r="1.5" fill="#7cc06c" stroke="#1e1e1e" stroke-width="0.5"/>
<circle cx="337.45" cy="393.10" r="1.5" fill="#7cc06c" stroke="#1e1e1e" stroke-width="0.5"/>
<line x1="364.71" y1="343" x2="364.71" y2="411" stroke="#222" stroke-width="0.9"/>
<path d="M364.31,349.80 L363.95,350.30 L363.57,350.80 L363.18,351.30 L362.79,351.80 L362.42,352.30 L362.08,352.80 L361.79,353.30 L361.57,353.80 L361.42,354.30 L361.29,354.80 L361.19,355.30 L361.10,355.80 L361.03,356.30 L360.98,356.80 L360.93,357.30 L360.89,357.80 L360.86,358.30 L360.84,358.80 L360.81,359.30 L360.78,359.80 L360.75,360.30 L360.71,360.80 L360.66,361.30 L360.60,361.80 L360.52,362.30 L360.44,362.80 L360.36,363.30 L360.28,363.80 L360.21,364.30 L360.13,364.80 L360.06,365.30 L359.98,365.80 L359.91,366.30 L359.82,366.80 L359.73,367.30 L359.64,367.80 L359.54,368.30 L359.42,368.80 L359.30,369.30 L359.17,369.80 L359.02,370.30 L358.86,370.80 L358.68,371.30 L358.49,371.80 L358.26,372.30 L357.97,372.80 L357.62,373.30 L357.21,373.80 L356.78,374.30 L356.32,374.80 L355.85,375.30 L355.38,375.80 L354.94,376.30 L354.53,376.80 L354.16,377.30 L353.85,377.80 L353.61,378.30 L353.46,378.80 L353.41,379.30 L353.49,379.80 L353.74,380.30 L354.11,380.80 L354.59,381.30 L355.15,381.80 L355.75,382.30 L356.38,382.80 L357.00,383.30 L357.59,383.80 L358.12,384.30 L358.58,384.80 L359.01,385.30 L359.43,385.80 L359.84,386.30 L360.25,386.80 L360.65,387.30 L361.05,387.80 L361.44,388.30 L361.83,388.80 L362.23,389.30 L362.63,389.80 L363.02,390.30 L363.40,390.80 L363.78,391.30 L364.15,391.80 L364.31,392.00 L365.11,392.00 L365.26,391.80 L365.63,391.30 L366.01,390.80 L366.39,390.30 L366.78,389.80 L367.18,389.30 L367.58,388.80 L367.97,388.30 L368.36,387.80 L368.76,387.30 L369.16,386.80 L369.57,386.30 L369.98,385.80 L370.40,385.30 L370.83,384.80 L371.29,384.30 L371.82,383.80 L372.41,383.30 L373.03,382.80 L373.66,382.30 L374.26,381.80 L374.82,381.30 L375.30,380.80 L375.67,380.30 L375.92,379.80 L376.01,379.30 L375.95,378.80 L375.80,378.30 L375.56,377.80 L375.25,377.30 L374.88,376.80 L374.47,376.30 L374.03,375.80 L373.56,375.30 L373.09,374.80 L372.63,374.30 L372.20,373.80 L371.79,373.30 L371.44,372.80 L371.15,372.30 L370.92,371.80 L370.73,371.30 L370.55,370.80 L370.39,370.30 L370.24,369.80 L370.11,369.30 L369.99,368.80 L369.87,368.30 L369.77,367.80 L369.68,367.30 L369.59,366.80 L369.50,366.30 L369.43,365.80 L369.35,365.30 L369.28,364.80 L369.20,364.30 L369.13,363.80 L369.05,363.30 L368.97,362.80 L368.89,362.30 L368.81,361.80 L368.75,361.30 L368.70,360.80 L368.66,360.30 L368.63,359.80 L368.60,359.30 L368.57,358.80 L368.55,358.30 L368.52,357.80 L368.48,357.30 L368.43,356.80 L368.38,356.30 L368.31,355.80 L368.22,355.30 L368.12,354.80 L367.99,354.30 L367.84,353.80 L367.62,353.30 L367.33,352.80 L366.99,352.30 L366.62,351.80 L366.23,351.30 L365.84,350.80 L365.46,350.30 L365.11,349.80Z" fill="#daf0d4" stroke="#1a1a1a" stroke-width="0.9"/>
<line x1="359.95" y1="366.05" x2="369.46" y2="366.05" stroke="#555" stroke-width="0.6" stroke-dasharray="1.6,1.1"/>
<line x1="355.85" y1="375.30" x2="373.56" y2="375.30" stroke="#333" stroke-width="0.75"/>
<line x1="354.11" y1="380.80" x2="375.30" y2="380.80" stroke="#555" stroke-width="0.6" stroke-dasharray="1.6,1.1"/>
<circle cx="361.89" cy="374.24" r="1.5" fill="#86c26a" stroke="#1e1e1e" stroke-width="0.5"/>
<circle cx="354.82" cy="380.44" r="1.5" fill="#86c26a" stroke="#1e1e1e" stroke-width="0.5"/>
<circle cx="362.81" cy="363.47" r="1.5" fill="#86c26a" stroke="#1e1e1e" stroke-width="0.5"/>
<circle cx="366.91" cy="373.30" r="1.5" fill="#86c26a" stroke="#1e1e1e" stroke-width="0.5"/>
<circle cx="362.66" cy="355.60" r="1.5" fill="#86c26a" stroke="#1e1e1e" stroke-width="0.5"/>
<circle cx="366.80" cy="380.22" r="1.5" fill="#86c26a" stroke="#1e1e1e" stroke-width="0.5"/>
<circle cx="372.98" cy="380.71" r="1.5" fill="#86c26a" stroke="#1e1e1e" stroke-width="0.5"/>
<circle cx="360.66" cy="368.69" r="1.5" fill="#86c26a" stroke="#1e1e1e" stroke-width="0.5"/>
<circle cx="367.97" cy="384.20" r="1.5" fill="#86c26a" stroke="#1e1e1e" stroke-width="0.5"/>
<circle cx="358.56" cy="381.25" r="1.5" fill="#86c26a" stroke="#1e1e1e" stroke-width="0.5"/>
<circle cx="370.61" cy="374.15" r="1.5" fill="#86c26a" stroke="#1e1e1e" stroke-width="0.5"/>
<circle cx="357.88" cy="377.21" r="1.5" fill="#86c26a" stroke="#1e1e1e" stroke-width="0.5"/>
<circle cx="373.03" cy="376.59" r="1.5" fill="#86c26a" stroke="#1e1e1e" stroke-width="0.5"/>
<circle cx="368.53" cy="376.82" r="1.5" fill="#86c26a" stroke="#1e1e1e" stroke-width="0.5"/>
<circle cx="361.10" cy="384.78" r="1.5" fill="#86c26a" stroke="#1e1e1e" stroke-width="0.5"/>
<circle cx="368.49" cy="368.87" r="1.5" fill="#86c26a" stroke="#1e1e1e" stroke-width="0.5"/>
<circle cx="362.50" cy="381.42" r="1.5" fill="#86c26a" stroke="#1e1e1e" stroke-width="0.5"/>
<circle cx="364.32" cy="388.29" r="1.5" fill="#86c26a" stroke="#1e1e1e" stroke-width="0.5"/>
<circle cx="364.51" cy="351.65" r="1.5" fill="#86c26a" stroke="#1e1e1e" stroke-width="0.5"/>
<circle cx="371.05" cy="383.17" r="1.5" fill="#86c26a" stroke="#1e1e1e" stroke-width="0.5"/>
<circle cx="367.08" cy="355.46" r="1.5" fill="#86c26a" stroke="#1e1e1e" stroke-width="0.5"/>
<circle cx="368.18" cy="362.47" r="1.5" fill="#86c26a" stroke="#1e1e1e" stroke-width="0.5"/>
<circle cx="361.13" cy="378.53" r="1.5" fill="#86c26a" stroke="#1e1e1e" stroke-width="0.5"/>
<circle cx="358.82" cy="373.38" r="1.5" fill="#86c26a" stroke="#1e1e1e" stroke-width="0.5"/>
<circle cx="363.35" cy="358.72" r="1.5" fill="#86c26a" stroke="#1e1e1e" stroke-width="0.5"/>
<circle cx="364.89" cy="384.28" r="1.5" fill="#86c26a" stroke="#1e1e1e" stroke-width="0.5"/>
<circle cx="365.48" cy="365.62" r="1.5" fill="#86c26a" stroke="#1e1e1e" stroke-width="0.5"/>
<circle cx="367.23" cy="359.02" r="1.5" fill="#86c26a" stroke="#1e1e1e" stroke-width="0.5"/>
<circle cx="362.86" cy="371.49" r="1.5" fill="#86c26a" stroke="#1e1e1e" stroke-width="0.5"/>
<circle cx="370.17" cy="379.73" r="1.5" fill="#86c26a" stroke="#1e1e1e" stroke-width="0.5"/>
<circle cx="375.32" cy="378.92" r="1.5" fill="#86c26a" stroke="#1e1e1e" stroke-width="0.5"/>
<circle cx="367.26" cy="387.09" r="1.5" fill="#86c26a" stroke="#1e1e1e" stroke-width="0.5"/>
<circle cx="364.71" cy="368.80" r="1.5" fill="#ec4a6c" stroke="#1e1e1e" stroke-width="0.5"/>
<circle cx="364.71" cy="378.20" r="1.5" fill="#111111" stroke="#1e1e1e" stroke-width="0.5"/>
<circle cx="364.71" cy="395.00" r="1.5" fill="#86c26a" stroke="#1e1e1e" stroke-width="0.5"/>
<circle cx="364.71" cy="402.50" r="1.5" fill="#86c26a" stroke="#1e1e1e" stroke-width="0.5"/>
<line x1="391.96" y1="362" x2="391.96" y2="428.9" stroke="#222" stroke-width="0.9"/>
<path d="M391.56,368.80 L391.27,369.30 L390.97,369.80 L390.67,370.30 L390.36,370.80 L390.06,371.30 L389.75,371.80 L389.45,372.30 L389.15,372.80 L388.84,373.30 L388.55,373.80 L388.25,374.30 L387.96,374.80 L387.68,375.30 L387.40,375.80 L387.13,376.30 L386.86,376.80 L386.61,377.30 L386.35,377.80 L386.09,378.30 L385.81,378.80 L385.53,379.30 L385.25,379.80 L384.96,380.30 L384.68,380.80 L384.39,381.30 L384.11,381.80 L383.82,382.30 L383.55,382.80 L383.28,383.30 L383.01,383.80 L382.76,384.30 L382.52,384.80 L382.28,385.30 L382.06,385.80 L381.86,386.30 L381.67,386.80 L381.50,387.30 L381.35,387.80 L381.22,388.30 L381.11,388.80 L381.03,389.30 L380.97,389.80 L380.94,390.30 L380.93,390.80 L380.95,391.30 L381.00,391.80 L381.07,392.30 L381.15,392.80 L381.26,393.30 L381.39,393.80 L381.53,394.30 L381.69,394.80 L381.85,395.30 L382.03,395.80 L382.22,396.30 L382.41,396.80 L382.61,397.30 L382.81,397.80 L383.02,398.30 L383.22,398.80 L383.42,399.30 L383.62,399.80 L383.81,400.30 L384.00,400.80 L384.18,401.30 L384.35,401.80 L384.50,402.30 L384.65,402.80 L384.79,403.30 L384.95,403.80 L385.10,404.30 L385.25,404.80 L385.41,405.30 L385.56,405.80 L385.71,406.30 L385.85,406.80 L385.99,407.30 L386.12,407.80 L386.25,408.30 L386.36,408.80 L386.46,409.30 L386.55,409.80 L386.62,410.30 L386.68,410.80 L386.74,411.30 L386.79,411.80 L386.84,412.30 L386.89,412.80 L386.94,413.30 L387.00,413.80 L387.07,414.30 L387.14,414.80 L387.23,415.30 L387.33,415.80 L387.46,416.30 L387.60,416.80 L387.76,417.30 L387.95,417.80 L388.18,418.30 L388.45,418.80 L388.73,419.30 L389.04,419.80 L389.36,420.30 L389.70,420.80 L390.04,421.30 L390.38,421.80 L390.72,422.30 L391.06,422.80 L391.38,423.30 L391.56,423.60 L392.36,423.60 L392.54,423.30 L392.86,422.80 L393.20,422.30 L393.54,421.80 L393.88,421.30 L394.22,420.80 L394.56,420.30 L394.88,419.80 L395.19,419.30 L395.47,418.80 L395.74,418.30 L395.97,417.80 L396.16,417.30 L396.32,416.80 L396.46,416.30 L396.59,415.80 L396.69,415.30 L396.78,414.80 L396.85,414.30 L396.92,413.80 L396.98,413.30 L397.03,412.80 L397.08,412.30 L397.13,411.80 L397.18,411.30 L397.24,410.80 L397.30,410.30 L397.37,409.80 L397.46,409.30 L397.56,408.80 L397.67,408.30 L397.80,407.80 L397.93,407.30 L398.07,406.80 L398.21,406.30 L398.36,405.80 L398.51,405.30 L398.67,404.80 L398.82,404.30 L398.97,403.80 L399.13,403.30 L399.27,402.80 L399.42,402.30 L399.57,401.80 L399.74,401.30 L399.92,400.80 L400.11,400.30 L400.30,399.80 L400.50,399.30 L400.70,398.80 L400.90,398.30 L401.11,397.80 L401.31,397.30 L401.51,396.80 L401.70,396.30 L401.89,395.80 L402.07,395.30 L402.23,394.80 L402.39,394.30 L402.53,393.80 L402.66,393.30 L402.77,392.80 L402.85,392.30 L402.92,391.80 L402.97,391.30 L402.99,390.80 L402.98,390.30 L402.95,389.80 L402.89,389.30 L402.81,388.80 L402.70,388.30 L402.57,387.80 L402.42,387.30 L402.25,386.80 L402.06,386.30 L401.86,385.80 L401.64,385.30 L401.40,384.80 L401.16,384.30 L400.91,383.80 L400.64,383.30 L400.37,382.80 L400.10,382.30 L399.81,381.80 L399.53,381.30 L399.24,380.80 L398.96,380.30 L398.67,379.80 L398.39,379.30 L398.11,378.80 L397.83,378.30 L397.57,377.80 L397.31,377.30 L397.06,376.80 L396.79,376.30 L396.52,375.80 L396.24,375.30 L395.96,374.80 L395.67,374.30 L395.37,373.80 L395.08,373.30 L394.77,372.80 L394.47,372.30 L394.17,371.80 L393.86,371.30 L393.56,370.80 L393.25,370.30 L392.95,369.80 L392.65,369.30 L392.36,368.80Z" fill="#e2f0d2" stroke="#1a1a1a" stroke-width="0.9"/>
<line x1="382.91" y1="384.00" x2="401.01" y2="384.00" stroke="#555" stroke-width="0.6" stroke-dasharray="1.6,1.1"/>
<line x1="380.96" y1="389.90" x2="402.96" y2="389.90" stroke="#333" stroke-width="0.75"/>
<line x1="385.82" y1="406.70" x2="398.10" y2="406.70" stroke="#555" stroke-width="0.6" stroke-dasharray="1.6,1.1"/>
<circle cx="391.96" cy="378.90" r="1.5" fill="#ec4a6c" stroke="#1e1e1e" stroke-width="0.5"/>
<circle cx="395.26" cy="388.80" r="1.5" fill="#8cc85a" stroke="#1e1e1e" stroke-width="0.5"/>
<circle cx="391.96" cy="390.30" r="1.5" fill="#111111" stroke="#1e1e1e" stroke-width="0.5"/>
<circle cx="391.96" cy="400.00" r="1.5" fill="#8cc85a" stroke="#1e1e1e" stroke-width="0.5"/>
<circle cx="391.96" cy="413.00" r="1.5" fill="#8cc85a" stroke="#1e1e1e" stroke-width="0.5"/>
<line x1="419.22" y1="367.8" x2="419.22" y2="416.3" stroke="#222" stroke-width="0.9"/>
<path d="M418.82,371.70 L418.35,372.20 L417.85,372.70 L417.32,373.20 L416.78,373.70 L416.25,374.20 L415.75,374.70 L415.29,375.20 L414.90,375.70 L414.59,376.20 L414.37,376.70 L414.28,377.20 L414.35,377.70 L414.54,378.20 L414.83,378.70 L415.17,379.20 L415.54,379.70 L415.89,380.20 L416.20,380.70 L416.42,381.20 L416.52,381.70 L416.48,382.20 L416.39,382.70 L416.25,383.20 L416.07,383.70 L415.85,384.20 L415.60,384.70 L415.33,385.20 L415.04,385.70 L414.74,386.20 L414.43,386.70 L414.12,387.20 L413.81,387.70 L413.52,388.20 L413.21,388.70 L412.87,389.20 L412.50,389.70 L412.12,390.20 L411.71,390.70 L411.30,391.20 L410.89,391.70 L410.48,392.20 L410.08,392.70 L409.70,393.20 L409.33,393.70 L409.00,394.20 L408.69,394.70 L408.43,395.20 L408.21,395.70 L408.04,396.20 L407.93,396.70 L407.95,397.20 L408.22,397.70 L408.68,398.20 L409.27,398.70 L409.94,399.20 L410.63,399.70 L411.27,400.20 L411.82,400.70 L412.29,401.20 L412.75,401.70 L413.21,402.20 L413.66,402.70 L414.11,403.20 L414.55,403.70 L415.00,404.20 L415.45,404.70 L415.89,405.20 L416.34,405.70 L416.78,406.20 L417.23,406.70 L417.67,407.20 L418.11,407.70 L418.55,408.20 L418.82,408.50 L419.62,408.50 L419.88,408.20 L420.32,407.70 L420.76,407.20 L421.20,406.70 L421.65,406.20 L422.09,405.70 L422.54,405.20 L422.98,404.70 L423.43,404.20 L423.88,403.70 L424.32,403.20 L424.77,402.70 L425.22,402.20 L425.68,401.70 L426.14,401.20 L426.62,400.70 L427.16,400.20 L427.80,399.70 L428.49,399.20 L429.16,398.70 L429.75,398.20 L430.21,397.70 L430.48,397.20 L430.50,396.70 L430.39,396.20 L430.22,395.70 L430.00,395.20 L429.74,394.70 L429.43,394.20 L429.10,393.70 L428.73,393.20 L428.35,392.70 L427.95,392.20 L427.54,391.70 L427.13,391.20 L426.72,390.70 L426.31,390.20 L425.93,389.70 L425.56,389.20 L425.22,388.70 L424.92,388.20 L424.62,387.70 L424.31,387.20 L424.00,386.70 L423.69,386.20 L423.39,385.70 L423.10,385.20 L422.83,384.70 L422.58,384.20 L422.36,383.70 L422.18,383.20 L422.04,382.70 L421.95,382.20 L421.91,381.70 L422.01,381.20 L422.23,380.70 L422.54,380.20 L422.89,379.70 L423.26,379.20 L423.60,378.70 L423.89,378.20 L424.08,377.70 L424.15,377.20 L424.06,376.70 L423.84,376.20 L423.53,375.70 L423.14,375.20 L422.68,374.70 L422.18,374.20 L421.65,373.70 L421.11,373.20 L420.58,372.70 L420.08,372.20 L419.62,371.70Z" fill="#eef2d4" stroke="#1a1a1a" stroke-width="0.9"/>
<line x1="414.58" y1="386.45" x2="423.85" y2="386.45" stroke="#555" stroke-width="0.6" stroke-dasharray="1.6,1.1"/>
<line x1="409.33" y1="393.70" x2="429.10" y2="393.70" stroke="#333" stroke-width="0.75"/>
<line x1="408.96" y1="398.45" x2="429.47" y2="398.45" stroke="#555" stroke-width="0.6" stroke-dasharray="1.6,1.1"/>
<circle cx="419.22" cy="377.20" r="1.5" fill="#111111" stroke="#1e1e1e" stroke-width="0.5"/>
<circle cx="415.22" cy="376.50" r="1.5" fill="#b4d04c" stroke="#1e1e1e" stroke-width="0.5"/>
<circle cx="423.22" cy="376.50" r="1.5" fill="#b4d04c" stroke="#1e1e1e" stroke-width="0.5"/>
<circle cx="419.22" cy="372.50" r="1.5" fill="#b4d04c" stroke="#1e1e1e" stroke-width="0.5"/>
<circle cx="415.72" cy="388.00" r="1.5" fill="#b4d04c" stroke="#1e1e1e" stroke-width="0.5"/>
<circle cx="419.22" cy="387.00" r="1.5" fill="#b4d04c" stroke="#1e1e1e" stroke-width="0.5"/>
<circle cx="422.72" cy="388.00" r="1.5" fill="#b4d04c" stroke="#1e1e1e" stroke-width="0.5"/>
<circle cx="419.22" cy="394.70" r="1.5" fill="#ec4a6c" stroke="#1e1e1e" stroke-width="0.5"/>
<circle cx="412.22" cy="397.50" r="1.5" fill="#b4d04c" stroke="#1e1e1e" stroke-width="0.5"/>
<circle cx="415.72" cy="397.00" r="1.5" fill="#b4d04c" stroke="#1e1e1e" stroke-width="0.5"/>
<circle cx="422.72" cy="397.00" r="1.5" fill="#b4d04c" stroke="#1e1e1e" stroke-width="0.5"/>
<circle cx="426.22" cy="397.00" r="1.5" fill="#b4d04c" stroke="#1e1e1e" stroke-width="0.5"/>
<circle cx="428.22" cy="393.00" r="1.5" fill="#b4d04c" stroke="#1e1e1e" stroke-width="0.5"/>
<circle cx="417.22" cy="400.50" r="1.5" fill="#b4d04c" stroke="#1e1e1e" stroke-width="0.5"/>
<circle cx="421.22" cy="400.50" r="1.5" fill="#b4d04c" stroke="#1e1e1e" stroke-width="0.5"/>
<circle cx="414.22" cy="400.50" r="1.5" fill="#b4d04c" stroke="#1e1e1e" stroke-width="0.5"/>
<circle cx="424.72" cy="400.50" r="1.5" fill="#b4d04c" stroke="#1e1e1e" stroke-width="0.5"/>
<circle cx="410.22" cy="396.50" r="1.5" fill="#b4d04c" stroke="#1e1e1e" stroke-width="0.5"/>
<circle cx="428.72" cy="397.00" r="1.5" fill="#b4d04c" stroke="#1e1e1e" stroke-width="0.5"/>
<circle cx="419.22" cy="406.00" r="1.5" fill="#b4d04c" stroke="#1e1e1e" stroke-width="0.5"/>
<circle cx="416.22" cy="403.50" r="1.5" fill="#b4d04c" stroke="#1e1e1e" stroke-width="0.5"/>
<line x1="446.47" y1="381.1" x2="446.47" y2="425" stroke="#222" stroke-width="0.9"/>
<path d="M446.17,383.00 L445.90,383.50 L445.65,384.00 L445.36,384.50 L444.97,385.00 L444.44,385.50 L443.81,386.00 L443.13,386.50 L442.47,387.00 L441.81,387.50 L441.14,388.00 L440.46,388.50 L439.81,389.00 L439.20,389.50 L438.64,390.00 L438.08,390.50 L437.54,391.00 L437.04,391.50 L436.58,392.00 L436.21,392.50 L435.92,393.00 L435.82,393.50 L435.88,394.00 L436.05,394.50 L436.27,395.00 L436.60,395.50 L437.05,396.00 L437.52,396.50 L437.92,397.00 L438.15,397.50 L438.18,398.00 L438.09,398.50 L437.92,399.00 L437.70,399.50 L437.45,400.00 L437.20,400.50 L436.97,401.00 L436.73,401.50 L436.45,402.00 L436.14,402.50 L435.85,403.00 L435.59,403.50 L435.39,404.00 L435.28,404.50 L435.26,405.00 L435.31,405.50 L435.40,406.00 L435.54,406.50 L435.70,407.00 L435.88,407.50 L436.08,408.00 L436.28,408.50 L436.47,409.00 L436.66,409.50 L436.86,410.00 L437.07,410.50 L437.29,411.00 L437.53,411.50 L437.78,412.00 L438.05,412.50 L438.35,413.00 L438.66,413.50 L438.99,414.00 L439.35,414.50 L439.73,415.00 L440.13,415.50 L440.55,416.00 L441.00,416.50 L441.47,417.00 L441.98,417.50 L442.52,418.00 L443.09,418.50 L443.68,419.00 L444.28,419.50 L444.89,420.00 L445.49,420.50 L446.07,421.00 L446.87,421.00 L447.45,420.50 L448.05,420.00 L448.66,419.50 L449.26,419.00 L449.85,418.50 L450.42,418.00 L450.96,417.50 L451.47,417.00 L451.94,416.50 L452.39,416.00 L452.81,415.50 L453.21,415.00 L453.59,414.50 L453.95,414.00 L454.28,413.50 L454.59,413.00 L454.89,412.50 L455.16,412.00 L455.41,411.50 L455.65,411.00 L455.87,410.50 L456.08,410.00 L456.28,409.50 L456.47,409.00 L456.66,408.50 L456.86,408.00 L457.06,407.50 L457.24,407.00 L457.40,406.50 L457.54,406.00 L457.63,405.50 L457.68,405.00 L457.66,404.50 L457.55,404.00 L457.35,403.50 L457.09,403.00 L456.80,402.50 L456.49,402.00 L456.21,401.50 L455.97,401.00 L455.74,400.50 L455.49,400.00 L455.24,399.50 L455.02,399.00 L454.85,398.50 L454.76,398.00 L454.79,397.50 L455.02,397.00 L455.42,396.50 L455.89,396.00 L456.34,395.50 L456.67,395.00 L456.89,394.50 L457.06,394.00 L457.12,393.50 L457.02,393.00 L456.73,392.50 L456.36,392.00 L455.90,391.50 L455.40,391.00 L454.86,390.50 L454.30,390.00 L453.74,389.50 L453.13,389.00 L452.48,388.50 L451.80,388.00 L451.13,387.50 L450.47,387.00 L449.81,386.50 L449.13,386.00 L448.50,385.50 L447.97,385.00 L447.58,384.50 L447.29,384.00 L447.04,383.50 L446.77,383.00Z" fill="#f8f0cc" stroke="#1a1a1a" stroke-width="0.9"/>
<line x1="435.88" y1="394.00" x2="457.06" y2="394.00" stroke="#555" stroke-width="0.6" stroke-dasharray="1.6,1.1"/>
<line x1="435.85" y1="403.00" x2="457.09" y2="403.00" stroke="#333" stroke-width="0.75"/>
<line x1="436.58" y1="409.30" x2="456.36" y2="409.30" stroke="#555" stroke-width="0.6" stroke-dasharray="1.6,1.1"/>
<circle cx="447.97" cy="392.50" r="1.5" fill="#ec4a6c" stroke="#1e1e1e" stroke-width="0.5"/>
<circle cx="442.97" cy="394.70" r="1.5" fill="#eccc34" stroke="#1e1e1e" stroke-width="0.5"/>
<circle cx="446.47" cy="401.50" r="1.5" fill="#eccc34" stroke="#1e1e1e" stroke-width="0.5"/>
<circle cx="446.47" cy="405.60" r="1.5" fill="#eccc34" stroke="#1e1e1e" stroke-width="0.5"/>
<circle cx="446.47" cy="409.30" r="1.5" fill="#111111" stroke="#1e1e1e" stroke-width="0.5"/>
<circle cx="446.47" cy="414.50" r="1.5" fill="#eccc34" stroke="#1e1e1e" stroke-width="0.5"/>
<line x1="473.73" y1="377" x2="473.73" y2="407" stroke="#222" stroke-width="0.9"/>
<path d="M473.33,379.60 L472.76,380.10 L472.16,380.60 L471.54,381.10 L470.91,381.60 L470.27,382.10 L469.64,382.60 L469.03,383.10 L468.43,383.60 L467.88,384.10 L467.36,384.60 L466.90,385.10 L466.51,385.60 L466.18,386.10 L466.02,386.60 L466.14,387.10 L466.45,387.60 L466.87,388.10 L467.29,388.60 L467.63,389.10 L467.79,389.60 L467.68,390.10 L467.34,390.60 L466.84,391.10 L466.24,391.60 L465.56,392.10 L464.85,392.60 L464.16,393.10 L463.52,393.60 L462.98,394.10 L462.57,394.60 L462.35,395.10 L462.34,395.60 L462.48,396.10 L462.76,396.60 L463.15,397.10 L463.63,397.60 L464.19,398.10 L464.79,398.60 L465.43,399.10 L466.09,399.60 L466.73,400.10 L467.35,400.60 L468.01,401.10 L468.74,401.60 L469.53,402.10 L470.35,402.60 L471.19,403.10 L472.03,403.60 L472.85,404.10 L473.33,404.40 L474.12,404.40 L474.60,404.10 L475.42,403.60 L476.26,403.10 L477.10,402.60 L477.92,402.10 L478.71,401.60 L479.44,401.10 L480.10,400.60 L480.72,400.10 L481.36,399.60 L482.02,399.10 L482.66,398.60 L483.26,398.10 L483.82,397.60 L484.30,397.10 L484.69,396.60 L484.97,396.10 L485.11,395.60 L485.10,395.10 L484.88,394.60 L484.47,394.10 L483.93,393.60 L483.29,393.10 L482.60,392.60 L481.89,392.10 L481.21,391.60 L480.61,391.10 L480.11,390.60 L479.77,390.10 L479.66,389.60 L479.82,389.10 L480.16,388.60 L480.58,388.10 L481.00,387.60 L481.31,387.10 L481.43,386.60 L481.27,386.10 L480.94,385.60 L480.55,385.10 L480.09,384.60 L479.57,384.10 L479.02,383.60 L478.42,383.10 L477.81,382.60 L477.18,382.10 L476.54,381.60 L475.91,381.10 L475.29,380.60 L474.69,380.10 L474.12,379.60Z" fill="#f8eecc" stroke="#1a1a1a" stroke-width="0.9"/>
<line x1="466.65" y1="387.85" x2="480.80" y2="387.85" stroke="#555" stroke-width="0.6" stroke-dasharray="1.6,1.1"/>
<line x1="463.52" y1="393.60" x2="483.93" y2="393.60" stroke="#333" stroke-width="0.75"/>
<line x1="463.38" y1="397.35" x2="484.07" y2="397.35" stroke="#555" stroke-width="0.6" stroke-dasharray="1.6,1.1"/>
<circle cx="476.10" cy="395.97" r="1.5" fill="#f0bf34" stroke="#1e1e1e" stroke-width="0.5"/>
<circle cx="467.32" cy="394.00" r="1.5" fill="#f0bf34" stroke="#1e1e1e" stroke-width="0.5"/>
<circle cx="474.76" cy="401.83" r="1.5" fill="#f0bf34" stroke="#1e1e1e" stroke-width="0.5"/>
<circle cx="477.70" cy="391.86" r="1.5" fill="#f0bf34" stroke="#1e1e1e" stroke-width="0.5"/>
<circle cx="469.75" cy="396.76" r="1.5" fill="#f0bf34" stroke="#1e1e1e" stroke-width="0.5"/>
<circle cx="465.54" cy="396.55" r="1.5" fill="#f0bf34" stroke="#1e1e1e" stroke-width="0.5"/>
<circle cx="468.54" cy="387.94" r="1.5" fill="#f0bf34" stroke="#1e1e1e" stroke-width="0.5"/>
<circle cx="479.13" cy="385.24" r="1.5" fill="#f0bf34" stroke="#1e1e1e" stroke-width="0.5"/>
<circle cx="475.44" cy="389.03" r="1.5" fill="#f0bf34" stroke="#1e1e1e" stroke-width="0.5"/>
<circle cx="476.04" cy="383.77" r="1.5" fill="#f0bf34" stroke="#1e1e1e" stroke-width="0.5"/>
<circle cx="480.02" cy="399.71" r="1.5" fill="#f0bf34" stroke="#1e1e1e" stroke-width="0.5"/>
<circle cx="474.63" cy="380.72" r="1.5" fill="#f0bf34" stroke="#1e1e1e" stroke-width="0.5"/>
<circle cx="476.91" cy="399.39" r="1.5" fill="#f0bf34" stroke="#1e1e1e" stroke-width="0.5"/>
<circle cx="469.14" cy="400.94" r="1.5" fill="#f0bf34" stroke="#1e1e1e" stroke-width="0.5"/>
<circle cx="480.37" cy="393.01" r="1.5" fill="#f0bf34" stroke="#1e1e1e" stroke-width="0.5"/>
<circle cx="472.59" cy="399.59" r="1.5" fill="#f0bf34" stroke="#1e1e1e" stroke-width="0.5"/>
<circle cx="469.63" cy="383.62" r="1.5" fill="#f0bf34" stroke="#1e1e1e" stroke-width="0.5"/>
<circle cx="479.97" cy="395.88" r="1.5" fill="#f0bf34" stroke="#1e1e1e" stroke-width="0.5"/>
<circle cx="472.28" cy="385.14" r="1.5" fill="#f0bf34" stroke="#1e1e1e" stroke-width="0.5"/>
<circle cx="468.64" cy="391.04" r="1.5" fill="#f0bf34" stroke="#1e1e1e" stroke-width="0.5"/>
<circle cx="473.73" cy="391.90" r="1.5" fill="#ec4a6c" stroke="#1e1e1e" stroke-width="0.5"/>
<circle cx="471.73" cy="390.30" r="1.5" fill="#111111" stroke="#1e1e1e" stroke-width="0.5"/>
<line x1="500.98" y1="310.4" x2="500.98" y2="411" stroke="#222" stroke-width="0.9"/>
<path d="M500.58,321.50 L500.22,322.00 L499.87,322.50 L499.51,323.00 L499.15,323.50 L498.78,324.00 L498.40,324.50 L498.01,325.00 L497.61,325.50 L497.21,326.00 L496.83,326.50 L496.45,327.00 L496.07,327.50 L495.68,328.00 L495.29,328.50 L494.91,329.00 L494.55,329.50 L494.20,330.00 L493.87,330.50 L493.58,331.00 L493.32,331.50 L493.08,332.00 L492.86,332.50 L492.66,333.00 L492.48,333.50 L492.31,334.00 L492.15,334.50 L492.00,335.00 L491.85,335.50 L491.71,336.00 L491.58,336.50 L491.45,337.00 L491.33,337.50 L491.23,338.00 L491.14,338.50 L491.07,339.00 L491.01,339.50 L490.98,340.00 L490.96,340.50 L490.95,341.00 L490.95,341.50 L490.95,342.00 L490.96,342.50 L490.97,343.00 L490.99,343.50 L491.02,344.00 L491.04,344.50 L491.06,345.00 L491.09,345.50 L491.11,346.00 L491.14,346.50 L491.16,347.00 L491.18,347.50 L491.19,348.00 L491.20,348.50 L491.20,349.00 L491.19,349.50 L491.18,350.00 L491.16,350.50 L491.13,351.00 L491.10,351.50 L491.06,352.00 L491.02,352.50 L490.97,353.00 L490.92,353.50 L490.87,354.00 L490.81,354.50 L490.76,355.00 L490.70,355.50 L490.64,356.00 L490.58,356.50 L490.53,357.00 L490.48,357.50 L490.42,358.00 L490.38,358.50 L490.33,359.00 L490.29,359.50 L490.26,360.00 L490.23,360.50 L490.20,361.00 L490.19,361.50 L490.18,362.00 L490.18,362.50 L490.18,363.00 L490.19,363.50 L490.21,364.00 L490.22,364.50 L490.24,365.00 L490.26,365.50 L490.28,366.00 L490.30,366.50 L490.33,367.00 L490.35,367.50 L490.38,368.00 L490.42,368.50 L490.45,369.00 L490.49,369.50 L490.53,370.00 L490.57,370.50 L490.62,371.00 L490.67,371.50 L490.72,372.00 L490.77,372.50 L490.83,373.00 L490.89,373.50 L490.95,374.00 L491.01,374.50 L491.08,375.00 L491.14,375.50 L491.22,376.00 L491.29,376.50 L491.37,377.00 L491.45,377.50 L491.53,378.00 L491.61,378.50 L491.70,379.00 L491.80,379.50 L491.89,380.00 L491.99,380.50 L492.09,381.00 L492.20,381.50 L492.31,382.00 L492.43,382.50 L492.55,383.00 L492.67,383.50 L492.79,384.00 L492.92,384.50 L493.06,385.00 L493.19,385.50 L493.33,386.00 L493.48,386.50 L493.62,387.00 L493.78,387.50 L493.93,388.00 L494.09,388.50 L494.25,389.00 L494.42,389.50 L494.59,390.00 L494.76,390.50 L494.94,391.00 L495.12,391.50 L495.30,392.00 L495.50,392.50 L495.70,393.00 L495.92,393.50 L496.13,394.00 L496.36,394.50 L496.59,395.00 L496.82,395.50 L497.06,396.00 L497.30,396.50 L497.55,397.00 L497.80,397.50 L498.05,398.00 L498.30,398.50 L498.55,399.00 L498.81,399.50 L499.06,400.00 L499.31,400.50 L499.56,401.00 L499.81,401.50 L500.05,402.00 L500.29,402.50 L500.53,403.00 L500.58,403.10 L501.38,403.10 L501.43,403.00 L501.67,402.50 L501.91,402.00 L502.15,401.50 L502.40,401.00 L502.65,400.50 L502.90,400.00 L503.15,399.50 L503.41,399.00 L503.66,398.50 L503.91,398.00 L504.16,397.50 L504.41,397.00 L504.66,396.50 L504.90,396.00 L505.14,395.50 L505.37,395.00 L505.60,394.50 L505.83,394.00 L506.04,393.50 L506.26,393.00 L506.46,392.50 L506.66,392.00 L506.84,391.50 L507.02,391.00 L507.20,390.50 L507.37,390.00 L507.54,389.50 L507.71,389.00 L507.87,388.50 L508.03,388.00 L508.18,387.50 L508.34,387.00 L508.48,386.50 L508.63,386.00 L508.77,385.50 L508.90,385.00 L509.04,384.50 L509.17,384.00 L509.29,383.50 L509.41,383.00 L509.53,382.50 L509.65,382.00 L509.76,381.50 L509.87,381.00 L509.97,380.50 L510.07,380.00 L510.16,379.50 L510.26,379.00 L510.35,378.50 L510.43,378.00 L510.51,377.50 L510.59,377.00 L510.67,376.50 L510.74,376.00 L510.82,375.50 L510.88,375.00 L510.95,374.50 L511.01,374.00 L511.07,373.50 L511.13,373.00 L511.19,372.50 L511.24,372.00 L511.29,371.50 L511.34,371.00 L511.39,370.50 L511.43,370.00 L511.47,369.50 L511.51,369.00 L511.54,368.50 L511.58,368.00 L511.61,367.50 L511.63,367.00 L511.66,366.50 L511.68,366.00 L511.70,365.50 L511.72,365.00 L511.74,364.50 L511.75,364.00 L511.77,363.50 L511.78,363.00 L511.78,362.50 L511.78,362.00 L511.77,361.50 L511.76,361.00 L511.73,360.50 L511.70,360.00 L511.67,359.50 L511.63,359.00 L511.58,358.50 L511.54,358.00 L511.48,357.50 L511.43,357.00 L511.38,356.50 L511.32,356.00 L511.26,355.50 L511.20,355.00 L511.15,354.50 L511.09,354.00 L511.04,353.50 L510.99,353.00 L510.94,352.50 L510.90,352.00 L510.86,351.50 L510.83,351.00 L510.80,350.50 L510.78,350.00 L510.77,349.50 L510.76,349.00 L510.76,348.50 L510.77,348.00 L510.78,347.50 L510.80,347.00 L510.82,346.50 L510.85,346.00 L510.87,345.50 L510.90,345.00 L510.92,344.50 L510.94,344.00 L510.97,343.50 L510.99,343.00 L511.00,342.50 L511.01,342.00 L511.01,341.50 L511.01,341.00 L511.00,340.50 L510.98,340.00 L510.95,339.50 L510.89,339.00 L510.82,338.50 L510.73,338.00 L510.63,337.50 L510.51,337.00 L510.38,336.50 L510.25,336.00 L510.11,335.50 L509.96,335.00 L509.81,334.50 L509.65,334.00 L509.48,333.50 L509.30,333.00 L509.10,332.50 L508.88,332.00 L508.64,331.50 L508.38,331.00 L508.09,330.50 L507.76,330.00 L507.41,329.50 L507.05,329.00 L506.67,328.50 L506.28,328.00 L505.89,327.50 L505.51,327.00 L505.13,326.50 L504.75,326.00 L504.35,325.50 L503.95,325.00 L503.56,324.50 L503.18,324.00 L502.81,323.50 L502.45,323.00 L502.09,322.50 L501.74,322.00 L501.38,321.50Z" fill="#faead0" stroke="#1a1a1a" stroke-width="0.9"/>
<line x1="490.95" y1="341.80" x2="511.01" y2="341.80" stroke="#555" stroke-width="0.6" stroke-dasharray="1.6,1.1"/>
<line x1="490.18" y1="361.90" x2="511.78" y2="361.90" stroke="#333" stroke-width="0.75"/>
<line x1="491.50" y1="377.80" x2="510.46" y2="377.80" stroke="#555" stroke-width="0.6" stroke-dasharray="1.6,1.1"/>
<circle cx="500.98" cy="336.60" r="1.5" fill="#ec4a6c" stroke="#1e1e1e" stroke-width="0.5"/>
<circle cx="500.98" cy="347.50" r="1.5" fill="#111111" stroke="#1e1e1e" stroke-width="0.5"/>
<circle cx="500.98" cy="361.90" r="1.5" fill="#efb441" stroke="#1e1e1e" stroke-width="0.5"/>
<circle cx="500.98" cy="371.00" r="1.5" fill="#efb441" stroke="#1e1e1e" stroke-width="0.5"/>
<circle cx="500.98" cy="385.60" r="1.5" fill="#efb441" stroke="#1e1e1e" stroke-width="0.5"/>
<line x1="528.24" y1="284.7" x2="528.24" y2="423.5" stroke="#222" stroke-width="0.9"/>
<path d="M527.84,295.80 L527.63,296.30 L527.41,296.80 L527.20,297.30 L526.98,297.80 L526.76,298.30 L526.54,298.80 L526.32,299.30 L526.10,299.80 L525.88,300.30 L525.67,300.80 L525.45,301.30 L525.24,301.80 L525.03,302.30 L524.83,302.80 L524.63,303.30 L524.44,303.80 L524.25,304.30 L524.07,304.80 L523.90,305.30 L523.73,305.80 L523.56,306.30 L523.39,306.80 L523.22,307.30 L523.06,307.80 L522.89,308.30 L522.72,308.80 L522.56,309.30 L522.40,309.80 L522.24,310.30 L522.08,310.80 L521.93,311.30 L521.78,311.80 L521.63,312.30 L521.49,312.80 L521.35,313.30 L521.22,313.80 L521.09,314.30 L520.97,314.80 L520.85,315.30 L520.74,315.80 L520.63,316.30 L520.53,316.80 L520.44,317.30 L520.35,317.80 L520.27,318.30 L520.20,318.80 L520.14,319.30 L520.09,319.80 L520.05,320.30 L520.01,320.80 L519.99,321.30 L519.97,321.80 L519.96,322.30 L519.96,322.80 L519.97,323.30 L519.99,323.80 L520.01,324.30 L520.05,324.80 L520.09,325.30 L520.14,325.80 L520.19,326.30 L520.26,326.80 L520.34,327.30 L520.42,327.80 L520.52,328.30 L520.63,328.80 L520.75,329.30 L520.88,329.80 L521.02,330.30 L521.17,330.80 L521.33,331.30 L521.49,331.80 L521.65,332.30 L521.82,332.80 L521.99,333.30 L522.15,333.80 L522.32,334.30 L522.49,334.80 L522.65,335.30 L522.81,335.80 L522.97,336.30 L523.12,336.80 L523.26,337.30 L523.39,337.80 L523.51,338.30 L523.63,338.80 L523.75,339.30 L523.87,339.80 L524.00,340.30 L524.13,340.80 L524.25,341.30 L524.37,341.80 L524.49,342.30 L524.60,342.80 L524.70,343.30 L524.80,343.80 L524.88,344.30 L524.95,344.80 L525.01,345.30 L525.05,345.80 L525.08,346.30 L525.08,346.80 L525.07,347.30 L525.03,347.80 L524.98,348.30 L524.90,348.80 L524.81,349.30 L524.70,349.80 L524.58,350.30 L524.45,350.80 L524.30,351.30 L524.14,351.80 L523.98,352.30 L523.80,352.80 L523.62,353.30 L523.44,353.80 L523.25,354.30 L523.06,354.80 L522.87,355.30 L522.69,355.80 L522.50,356.30 L522.32,356.80 L522.14,357.30 L521.98,357.80 L521.81,358.30 L521.66,358.80 L521.52,359.30 L521.37,359.80 L521.23,360.30 L521.08,360.80 L520.93,361.30 L520.78,361.80 L520.63,362.30 L520.48,362.80 L520.33,363.30 L520.18,363.80 L520.04,364.30 L519.89,364.80 L519.75,365.30 L519.60,365.80 L519.46,366.30 L519.33,366.80 L519.19,367.30 L519.06,367.80 L518.94,368.30 L518.81,368.80 L518.70,369.30 L518.58,369.80 L518.47,370.30 L518.37,370.80 L518.27,371.30 L518.18,371.80 L518.11,372.30 L518.04,372.80 L517.99,373.30 L517.96,373.80 L517.94,374.30 L517.93,374.80 L517.93,375.30 L517.95,375.80 L517.98,376.30 L518.02,376.80 L518.07,377.30 L518.13,377.80 L518.21,378.30 L518.28,378.80 L518.36,379.30 L518.44,379.80 L518.52,380.30 L518.61,380.80 L518.70,381.30 L518.80,381.80 L518.89,382.30 L518.99,382.80 L519.10,383.30 L519.20,383.80 L519.31,384.30 L519.42,384.80 L519.54,385.30 L519.66,385.80 L519.77,386.30 L519.90,386.80 L520.02,387.30 L520.15,387.80 L520.27,388.30 L520.40,388.80 L520.54,389.30 L520.67,389.80 L520.81,390.30 L520.95,390.80 L521.09,391.30 L521.25,391.80 L521.41,392.30 L521.57,392.80 L521.74,393.30 L521.91,393.80 L522.09,394.30 L522.27,394.80 L522.46,395.30 L522.64,395.80 L522.83,396.30 L523.02,396.80 L523.21,397.30 L523.40,397.80 L523.59,398.30 L523.78,398.80 L523.97,399.30 L524.16,399.80 L524.35,400.30 L524.53,400.80 L524.72,401.30 L524.91,401.80 L525.10,402.30 L525.30,402.80 L525.49,403.30 L525.68,403.80 L525.88,404.30 L526.07,404.80 L526.27,405.30 L526.47,405.80 L526.66,406.30 L526.86,406.80 L527.06,407.30 L527.25,407.80 L527.45,408.30 L527.64,408.80 L527.84,409.30 L528.63,409.30 L528.83,408.80 L529.02,408.30 L529.22,407.80 L529.41,407.30 L529.61,406.80 L529.81,406.30 L530.00,405.80 L530.20,405.30 L530.40,404.80 L530.59,404.30 L530.79,403.80 L530.98,403.30 L531.17,402.80 L531.37,402.30 L531.56,401.80 L531.75,401.30 L531.94,400.80 L532.12,400.30 L532.31,399.80 L532.50,399.30 L532.69,398.80 L532.88,398.30 L533.07,397.80 L533.26,397.30 L533.45,396.80 L533.64,396.30 L533.83,395.80 L534.01,395.30 L534.20,394.80 L534.38,394.30 L534.56,393.80 L534.73,393.30 L534.90,392.80 L535.06,392.30 L535.22,391.80 L535.38,391.30 L535.52,390.80 L535.66,390.30 L535.80,389.80 L535.93,389.30 L536.07,388.80 L536.20,388.30 L536.32,387.80 L536.45,387.30 L536.57,386.80 L536.70,386.30 L536.81,385.80 L536.93,385.30 L537.05,384.80 L537.16,384.30 L537.27,383.80 L537.37,383.30 L537.48,382.80 L537.58,382.30 L537.67,381.80 L537.77,381.30 L537.86,380.80 L537.95,380.30 L538.03,379.80 L538.11,379.30 L538.19,378.80 L538.26,378.30 L538.34,377.80 L538.40,377.30 L538.45,376.80 L538.49,376.30 L538.52,375.80 L538.54,375.30 L538.54,374.80 L538.53,374.30 L538.51,373.80 L538.48,373.30 L538.43,372.80 L538.36,372.30 L538.29,371.80 L538.20,371.30 L538.10,370.80 L538.00,370.30 L537.89,369.80 L537.77,369.30 L537.66,368.80 L537.53,368.30 L537.41,367.80 L537.28,367.30 L537.14,366.80 L537.01,366.30 L536.87,365.80 L536.72,365.30 L536.58,364.80 L536.43,364.30 L536.29,363.80 L536.14,363.30 L535.99,362.80 L535.84,362.30 L535.69,361.80 L535.54,361.30 L535.39,360.80 L535.24,360.30 L535.10,359.80 L534.95,359.30 L534.81,358.80 L534.66,358.30 L534.49,357.80 L534.33,357.30 L534.15,356.80 L533.97,356.30 L533.78,355.80 L533.60,355.30 L533.41,354.80 L533.22,354.30 L533.03,353.80 L532.85,353.30 L532.67,352.80 L532.49,352.30 L532.33,351.80 L532.17,351.30 L532.02,350.80 L531.89,350.30 L531.77,349.80 L531.66,349.30 L531.57,348.80 L531.49,348.30 L531.44,347.80 L531.40,347.30 L531.39,346.80 L531.39,346.30 L531.42,345.80 L531.46,345.30 L531.52,344.80 L531.59,344.30 L531.67,343.80 L531.77,343.30 L531.87,342.80 L531.98,342.30 L532.10,341.80 L532.22,341.30 L532.34,340.80 L532.47,340.30 L532.60,339.80 L532.72,339.30 L532.84,338.80 L532.96,338.30 L533.08,337.80 L533.21,337.30 L533.35,336.80 L533.50,336.30 L533.66,335.80 L533.82,335.30 L533.98,334.80 L534.15,334.30 L534.32,333.80 L534.48,333.30 L534.65,332.80 L534.82,332.30 L534.98,331.80 L535.14,331.30 L535.30,330.80 L535.45,330.30 L535.59,329.80 L535.72,329.30 L535.84,328.80 L535.95,328.30 L536.05,327.80 L536.13,327.30 L536.21,326.80 L536.28,326.30 L536.33,325.80 L536.38,325.30 L536.42,324.80 L536.46,324.30 L536.48,323.80 L536.50,323.30 L536.51,322.80 L536.51,322.30 L536.50,321.80 L536.48,321.30 L536.46,320.80 L536.42,320.30 L536.38,319.80 L536.33,319.30 L536.27,318.80 L536.20,318.30 L536.12,317.80 L536.03,317.30 L535.94,316.80 L535.84,316.30 L535.73,315.80 L535.62,315.30 L535.50,314.80 L535.38,314.30 L535.25,313.80 L535.12,313.30 L534.98,312.80 L534.84,312.30 L534.69,311.80 L534.54,311.30 L534.39,310.80 L534.23,310.30 L534.07,309.80 L533.91,309.30 L533.75,308.80 L533.58,308.30 L533.41,307.80 L533.25,307.30 L533.08,306.80 L532.91,306.30 L532.74,305.80 L532.57,305.30 L532.40,304.80 L532.22,304.30 L532.03,303.80 L531.84,303.30 L531.64,302.80 L531.44,302.30 L531.23,301.80 L531.02,301.30 L530.80,300.80 L530.59,300.30 L530.37,299.80 L530.15,299.30 L529.93,298.80 L529.71,298.30 L529.49,297.80 L529.27,297.30 L529.06,296.80 L528.84,296.30 L528.63,295.80Z" fill="#f7dccb" stroke="#1a1a1a" stroke-width="0.9"/>
<line x1="520.25" y1="326.70" x2="536.22" y2="326.70" stroke="#555" stroke-width="0.6" stroke-dasharray="1.6,1.1"/>
<line x1="518.56" y1="369.90" x2="537.91" y2="369.90" stroke="#333" stroke-width="0.75"/>
<line x1="518.76" y1="381.60" x2="537.71" y2="381.60" stroke="#555" stroke-width="0.6" stroke-dasharray="1.6,1.1"/>
<circle cx="528.24" cy="323.20" r="1.5" fill="#ec4a6c" stroke="#1e1e1e" stroke-width="0.5"/>
<circle cx="528.24" cy="330.50" r="1.5" fill="#111111" stroke="#1e1e1e" stroke-width="0.5"/>
<circle cx="528.24" cy="369.90" r="1.5" fill="#e89a42" stroke="#1e1e1e" stroke-width="0.5"/>
<circle cx="528.24" cy="377.80" r="1.5" fill="#e89a42" stroke="#1e1e1e" stroke-width="0.5"/>
<circle cx="528.24" cy="385.70" r="1.5" fill="#e89a42" stroke="#1e1e1e" stroke-width="0.5"/>
<line x1="555.49" y1="302" x2="555.49" y2="398.3" stroke="#222" stroke-width="0.9"/>
<path d="M555.19,303.00 L554.97,303.50 L554.71,304.00 L554.46,304.50 L554.23,305.00 L554.07,305.50 L553.99,306.00 L553.97,306.50 L553.95,307.00 L553.93,307.50 L553.92,308.00 L553.91,308.50 L553.90,309.00 L553.89,309.50 L553.89,310.00 L553.88,310.50 L553.88,311.00 L553.88,311.50 L553.88,312.00 L553.88,312.50 L553.89,313.00 L553.89,313.50 L553.90,314.00 L553.90,314.50 L553.91,315.00 L553.92,315.50 L553.93,316.00 L553.93,316.50 L553.94,317.00 L553.95,317.50 L553.96,318.00 L553.97,318.50 L553.98,319.00 L553.99,319.50 L554.00,320.00 L554.01,320.50 L554.02,321.00 L554.03,321.50 L554.04,322.00 L554.04,322.50 L554.05,323.00 L554.06,323.50 L554.06,324.00 L554.06,324.50 L554.07,325.00 L554.07,325.50 L554.06,326.00 L554.06,326.50 L554.06,327.00 L554.05,327.50 L554.04,328.00 L554.03,328.50 L554.02,329.00 L554.01,329.50 L553.99,330.00 L553.95,330.50 L553.87,331.00 L553.76,331.50 L553.63,332.00 L553.48,332.50 L553.32,333.00 L553.15,333.50 L552.99,334.00 L552.83,334.50 L552.65,335.00 L552.46,335.50 L552.27,336.00 L552.07,336.50 L551.88,337.00 L551.68,337.50 L551.49,338.00 L551.30,338.50 L551.12,339.00 L550.93,339.50 L550.75,340.00 L550.56,340.50 L550.37,341.00 L550.18,341.50 L549.99,342.00 L549.79,342.50 L549.60,343.00 L549.40,343.50 L549.20,344.00 L549.00,344.50 L548.80,345.00 L548.59,345.50 L548.39,346.00 L548.19,346.50 L547.99,347.00 L547.79,347.50 L547.58,348.00 L547.37,348.50 L547.15,349.00 L546.94,349.50 L546.73,350.00 L546.53,350.50 L546.34,351.00 L546.16,351.50 L545.99,352.00 L545.82,352.50 L545.63,353.00 L545.44,353.50 L545.27,354.00 L545.14,354.50 L545.05,355.00 L545.03,355.50 L545.09,356.00 L545.26,356.50 L545.55,357.00 L545.94,357.50 L546.40,358.00 L546.93,358.50 L547.49,359.00 L548.16,359.50 L548.98,360.00 L549.85,360.50 L550.70,361.00 L551.44,361.50 L551.99,362.00 L552.37,362.50 L552.68,363.00 L552.91,363.50 L553.09,364.00 L553.22,364.50 L553.32,365.00 L553.41,365.50 L553.49,366.00 L553.56,366.50 L553.62,367.00 L553.65,367.50 L553.67,368.00 L553.67,368.50 L553.66,369.00 L553.63,369.50 L553.59,370.00 L553.55,370.50 L553.49,371.00 L553.42,371.50 L553.32,372.00 L553.21,372.50 L553.08,373.00 L552.94,373.50 L552.80,374.00 L552.66,374.50 L552.52,375.00 L552.40,375.50 L552.29,376.00 L552.19,376.50 L552.09,377.00 L551.99,377.50 L551.89,378.00 L551.80,378.50 L551.72,379.00 L551.64,379.50 L551.58,380.00 L551.53,380.50 L551.49,381.00 L551.46,381.50 L551.45,382.00 L551.44,382.50 L551.44,383.00 L551.45,383.50 L551.47,384.00 L551.51,384.50 L551.55,385.00 L551.61,385.50 L551.69,386.00 L551.78,386.50 L551.90,387.00 L552.03,387.50 L552.18,388.00 L552.35,388.50 L552.54,389.00 L552.76,389.50 L552.99,390.00 L553.27,390.50 L553.59,391.00 L553.96,391.50 L554.34,392.00 L554.73,392.50 L555.09,393.00 L555.89,393.00 L556.25,392.50 L556.64,392.00 L557.02,391.50 L557.39,391.00 L557.71,390.50 L557.99,390.00 L558.22,389.50 L558.44,389.00 L558.63,388.50 L558.80,388.00 L558.95,387.50 L559.08,387.00 L559.20,386.50 L559.29,386.00 L559.37,385.50 L559.43,385.00 L559.47,384.50 L559.51,384.00 L559.53,383.50 L559.54,383.00 L559.54,382.50 L559.53,382.00 L559.52,381.50 L559.49,381.00 L559.45,380.50 L559.40,380.00 L559.34,379.50 L559.26,379.00 L559.18,378.50 L559.09,378.00 L558.99,377.50 L558.89,377.00 L558.79,376.50 L558.69,376.00 L558.58,375.50 L558.46,375.00 L558.32,374.50 L558.18,374.00 L558.04,373.50 L557.90,373.00 L557.77,372.50 L557.66,372.00 L557.56,371.50 L557.49,371.00 L557.43,370.50 L557.39,370.00 L557.35,369.50 L557.32,369.00 L557.31,368.50 L557.31,368.00 L557.33,367.50 L557.36,367.00 L557.42,366.50 L557.49,366.00 L557.57,365.50 L557.66,365.00 L557.76,364.50 L557.89,364.00 L558.07,363.50 L558.30,363.00 L558.61,362.50 L558.99,362.00 L559.54,361.50 L560.28,361.00 L561.13,360.50 L562.00,360.00 L562.82,359.50 L563.49,359.00 L564.05,358.50 L564.58,358.00 L565.04,357.50 L565.43,357.00 L565.72,356.50 L565.89,356.00 L565.95,355.50 L565.93,355.00 L565.84,354.50 L565.71,354.00 L565.54,353.50 L565.35,353.00 L565.16,352.50 L564.99,352.00 L564.82,351.50 L564.64,351.00 L564.45,350.50 L564.25,350.00 L564.04,349.50 L563.83,349.00 L563.61,348.50 L563.40,348.00 L563.19,347.50 L562.99,347.00 L562.79,346.50 L562.59,346.00 L562.39,345.50 L562.18,345.00 L561.98,344.50 L561.78,344.00 L561.58,343.50 L561.38,343.00 L561.19,342.50 L560.99,342.00 L560.80,341.50 L560.61,341.00 L560.42,340.50 L560.23,340.00 L560.05,339.50 L559.86,339.00 L559.68,338.50 L559.49,338.00 L559.30,337.50 L559.10,337.00 L558.91,336.50 L558.71,336.00 L558.52,335.50 L558.33,335.00 L558.15,334.50 L557.99,334.00 L557.83,333.50 L557.66,333.00 L557.50,332.50 L557.35,332.00 L557.22,331.50 L557.11,331.00 L557.03,330.50 L556.99,330.00 L556.97,329.50 L556.96,329.00 L556.95,328.50 L556.94,328.00 L556.93,327.50 L556.92,327.00 L556.92,326.50 L556.92,326.00 L556.91,325.50 L556.91,325.00 L556.92,324.50 L556.92,324.00 L556.92,323.50 L556.93,323.00 L556.94,322.50 L556.94,322.00 L556.95,321.50 L556.96,321.00 L556.97,320.50 L556.98,320.00 L556.99,319.50 L557.00,319.00 L557.01,318.50 L557.02,318.00 L557.03,317.50 L557.04,317.00 L557.05,316.50 L557.05,316.00 L557.06,315.50 L557.07,315.00 L557.08,314.50 L557.08,314.00 L557.09,313.50 L557.09,313.00 L557.10,312.50 L557.10,312.00 L557.10,311.50 L557.10,311.00 L557.10,310.50 L557.09,310.00 L557.09,309.50 L557.08,309.00 L557.07,308.50 L557.06,308.00 L557.05,307.50 L557.03,307.00 L557.01,306.50 L556.99,306.00 L556.91,305.50 L556.75,305.00 L556.52,304.50 L556.27,304.00 L556.01,303.50 L555.79,303.00Z" fill="#f7dccb" stroke="#1a1a1a" stroke-width="0.9"/>
<line x1="549.79" y1="342.50" x2="561.19" y2="342.50" stroke="#555" stroke-width="0.6" stroke-dasharray="1.6,1.1"/>
<line x1="545.63" y1="353.00" x2="565.35" y2="353.00" stroke="#333" stroke-width="0.75"/>
<line x1="553.16" y1="364.25" x2="557.82" y2="364.25" stroke="#555" stroke-width="0.6" stroke-dasharray="1.6,1.1"/>
<circle cx="556.25" cy="386.59" r="1.5" fill="#e4802c" stroke="#1e1e1e" stroke-width="0.5"/>
<circle cx="561.09" cy="352.25" r="1.5" fill="#e4802c" stroke="#1e1e1e" stroke-width="0.5"/>
<circle cx="561.42" cy="359.48" r="1.5" fill="#e4802c" stroke="#1e1e1e" stroke-width="0.5"/>
<circle cx="547.86" cy="353.16" r="1.5" fill="#e4802c" stroke="#1e1e1e" stroke-width="0.5"/>
<circle cx="550.57" cy="350.50" r="1.5" fill="#e4802c" stroke="#1e1e1e" stroke-width="0.5"/>
<circle cx="554.06" cy="380.44" r="1.5" fill="#e4802c" stroke="#1e1e1e" stroke-width="0.5"/>
<circle cx="557.55" cy="359.39" r="1.5" fill="#e4802c" stroke="#1e1e1e" stroke-width="0.5"/>
<circle cx="551.59" cy="340.93" r="1.5" fill="#e4802c" stroke="#1e1e1e" stroke-width="0.5"/>
<circle cx="553.38" cy="345.68" r="1.5" fill="#e4802c" stroke="#1e1e1e" stroke-width="0.5"/>
<circle cx="549.04" cy="357.28" r="1.5" fill="#e4802c" stroke="#1e1e1e" stroke-width="0.5"/>
<circle cx="552.38" cy="358.37" r="1.5" fill="#e4802c" stroke="#1e1e1e" stroke-width="0.5"/>
<circle cx="560.36" cy="347.96" r="1.5" fill="#e4802c" stroke="#1e1e1e" stroke-width="0.5"/>
<circle cx="565.27" cy="355.39" r="1.5" fill="#e4802c" stroke="#1e1e1e" stroke-width="0.5"/>
<circle cx="557.65" cy="362.57" r="1.5" fill="#e4802c" stroke="#1e1e1e" stroke-width="0.5"/>
<circle cx="554.87" cy="374.65" r="1.5" fill="#e4802c" stroke="#1e1e1e" stroke-width="0.5"/>
<circle cx="553.92" cy="363.23" r="1.5" fill="#e4802c" stroke="#1e1e1e" stroke-width="0.5"/>
<circle cx="557.26" cy="339.74" r="1.5" fill="#e4802c" stroke="#1e1e1e" stroke-width="0.5"/>
<circle cx="545.98" cy="355.52" r="1.5" fill="#e4802c" stroke="#1e1e1e" stroke-width="0.5"/>
<circle cx="549.57" cy="346.70" r="1.5" fill="#e4802c" stroke="#1e1e1e" stroke-width="0.5"/>
<circle cx="553.80" cy="337.39" r="1.5" fill="#e4802c" stroke="#1e1e1e" stroke-width="0.5"/>
<circle cx="559.04" cy="344.06" r="1.5" fill="#e4802c" stroke="#1e1e1e" stroke-width="0.5"/>
<circle cx="558.62" cy="380.03" r="1.5" fill="#e4802c" stroke="#1e1e1e" stroke-width="0.5"/>
<circle cx="555.91" cy="382.70" r="1.5" fill="#e4802c" stroke="#1e1e1e" stroke-width="0.5"/>
<circle cx="560.26" cy="355.40" r="1.5" fill="#e4802c" stroke="#1e1e1e" stroke-width="0.5"/>
<circle cx="554.48" cy="342.18" r="1.5" fill="#e4802c" stroke="#1e1e1e" stroke-width="0.5"/>
<circle cx="551.49" cy="354.04" r="1.5" fill="#e4802c" stroke="#1e1e1e" stroke-width="0.5"/>
<circle cx="553.80" cy="388.89" r="1.5" fill="#e4802c" stroke="#1e1e1e" stroke-width="0.5"/>
<circle cx="562.77" cy="356.89" r="1.5" fill="#e4802c" stroke="#1e1e1e" stroke-width="0.5"/>
<circle cx="547.41" cy="350.16" r="1.5" fill="#e4802c" stroke="#1e1e1e" stroke-width="0.5"/>
<circle cx="556.04" cy="335.10" r="1.5" fill="#e4802c" stroke="#1e1e1e" stroke-width="0.5"/>
<circle cx="555.79" cy="347.90" r="1.5" fill="#e4802c" stroke="#1e1e1e" stroke-width="0.5"/>
<circle cx="558.43" cy="336.95" r="1.5" fill="#e4802c" stroke="#1e1e1e" stroke-width="0.5"/>
<circle cx="558.49" cy="350.39" r="1.5" fill="#e4802c" stroke="#1e1e1e" stroke-width="0.5"/>
<circle cx="553.19" cy="385.82" r="1.5" fill="#e4802c" stroke="#1e1e1e" stroke-width="0.5"/>
<circle cx="555.97" cy="377.37" r="1.5" fill="#e4802c" stroke="#1e1e1e" stroke-width="0.5"/>
<circle cx="564.06" cy="352.46" r="1.5" fill="#e4802c" stroke="#1e1e1e" stroke-width="0.5"/>
<circle cx="555.49" cy="307.00" r="1.5" fill="#e4802c" stroke="#1e1e1e" stroke-width="0.5"/>
<circle cx="555.49" cy="313.00" r="1.5" fill="#e4802c" stroke="#1e1e1e" stroke-width="0.5"/>
<circle cx="555.49" cy="319.00" r="1.5" fill="#e4802c" stroke="#1e1e1e" stroke-width="0.5"/>
<circle cx="555.49" cy="325.50" r="1.5" fill="#e4802c" stroke="#1e1e1e" stroke-width="0.5"/>
<circle cx="555.49" cy="331.00" r="1.5" fill="#e4802c" stroke="#1e1e1e" stroke-width="0.5"/>
<circle cx="555.49" cy="351.00" r="1.5" fill="#111111" stroke="#1e1e1e" stroke-width="0.5"/>
<circle cx="555.49" cy="356.30" r="1.5" fill="#ec4a6c" stroke="#1e1e1e" stroke-width="0.5"/>
<line x1="582.75" y1="330.1" x2="582.75" y2="402.9" stroke="#222" stroke-width="0.9"/>
<path d="M582.35,336.60 L582.21,337.10 L582.06,337.60 L581.91,338.10 L581.75,338.60 L581.60,339.10 L581.44,339.60 L581.30,340.10 L581.17,340.60 L581.05,341.10 L580.95,341.60 L580.88,342.10 L580.83,342.60 L580.79,343.10 L580.77,343.60 L580.75,344.10 L580.74,344.60 L580.74,345.10 L580.75,345.60 L580.76,346.10 L580.77,346.60 L580.79,347.10 L580.81,347.60 L580.83,348.10 L580.85,348.60 L580.87,349.10 L580.88,349.60 L580.90,350.10 L580.90,350.60 L580.91,351.10 L580.90,351.60 L580.89,352.10 L580.86,352.60 L580.83,353.10 L580.80,353.60 L580.77,354.10 L580.74,354.60 L580.71,355.10 L580.68,355.60 L580.65,356.10 L580.61,356.60 L580.58,357.10 L580.54,357.60 L580.50,358.10 L580.45,358.60 L580.40,359.10 L580.34,359.60 L580.28,360.10 L580.21,360.60 L580.13,361.10 L580.04,361.60 L579.95,362.10 L579.84,362.60 L579.73,363.10 L579.60,363.60 L579.46,364.10 L579.31,364.60 L579.13,365.10 L578.91,365.60 L578.65,366.10 L578.37,366.60 L578.06,367.10 L577.74,367.60 L577.40,368.10 L577.06,368.60 L576.71,369.10 L576.36,369.60 L576.02,370.10 L575.69,370.60 L575.38,371.10 L575.09,371.60 L574.78,372.10 L574.46,372.60 L574.11,373.10 L573.76,373.60 L573.40,374.10 L573.05,374.60 L572.72,375.10 L572.41,375.60 L572.13,376.10 L571.88,376.60 L571.69,377.10 L571.54,377.60 L571.46,378.10 L571.45,378.60 L571.49,379.10 L571.59,379.60 L571.72,380.10 L571.90,380.60 L572.11,381.10 L572.35,381.60 L572.62,382.10 L572.90,382.60 L573.21,383.10 L573.52,383.60 L573.85,384.10 L574.18,384.60 L574.51,385.10 L574.83,385.60 L575.14,386.10 L575.45,386.60 L575.75,387.10 L576.08,387.60 L576.43,388.10 L576.80,388.60 L577.19,389.10 L577.59,389.60 L577.99,390.10 L578.41,390.60 L578.83,391.10 L579.27,391.60 L579.73,392.10 L580.20,392.60 L580.69,393.10 L581.18,393.60 L581.67,394.10 L582.15,394.60 L582.35,394.80 L583.14,394.80 L583.34,394.60 L583.82,394.10 L584.31,393.60 L584.80,393.10 L585.29,392.60 L585.76,392.10 L586.22,391.60 L586.66,391.10 L587.08,390.60 L587.50,390.10 L587.90,389.60 L588.30,389.10 L588.69,388.60 L589.06,388.10 L589.41,387.60 L589.74,387.10 L590.04,386.60 L590.35,386.10 L590.66,385.60 L590.98,385.10 L591.31,384.60 L591.64,384.10 L591.97,383.60 L592.28,383.10 L592.59,382.60 L592.87,382.10 L593.14,381.60 L593.38,381.10 L593.59,380.60 L593.77,380.10 L593.90,379.60 L594.00,379.10 L594.04,378.60 L594.03,378.10 L593.95,377.60 L593.80,377.10 L593.61,376.60 L593.36,376.10 L593.08,375.60 L592.77,375.10 L592.44,374.60 L592.09,374.10 L591.73,373.60 L591.38,373.10 L591.03,372.60 L590.71,372.10 L590.40,371.60 L590.11,371.10 L589.80,370.60 L589.47,370.10 L589.13,369.60 L588.78,369.10 L588.43,368.60 L588.09,368.10 L587.75,367.60 L587.43,367.10 L587.12,366.60 L586.84,366.10 L586.58,365.60 L586.36,365.10 L586.18,364.60 L586.03,364.10 L585.89,363.60 L585.76,363.10 L585.65,362.60 L585.54,362.10 L585.45,361.60 L585.36,361.10 L585.28,360.60 L585.21,360.10 L585.15,359.60 L585.09,359.10 L585.04,358.60 L584.99,358.10 L584.95,357.60 L584.91,357.10 L584.88,356.60 L584.84,356.10 L584.81,355.60 L584.78,355.10 L584.75,354.60 L584.72,354.10 L584.69,353.60 L584.66,353.10 L584.63,352.60 L584.60,352.10 L584.59,351.60 L584.58,351.10 L584.59,350.60 L584.59,350.10 L584.61,349.60 L584.62,349.10 L584.64,348.60 L584.66,348.10 L584.68,347.60 L584.70,347.10 L584.72,346.60 L584.73,346.10 L584.74,345.60 L584.75,345.10 L584.75,344.60 L584.74,344.10 L584.72,343.60 L584.70,343.10 L584.66,342.60 L584.61,342.10 L584.54,341.60 L584.44,341.10 L584.32,340.60 L584.19,340.10 L584.05,339.60 L583.89,339.10 L583.74,338.60 L583.58,338.10 L583.43,337.60 L583.28,337.10 L583.14,336.60Z" fill="#f7dcd0" stroke="#1a1a1a" stroke-width="0.9"/>
<line x1="574.85" y1="372.00" x2="590.64" y2="372.00" stroke="#555" stroke-width="0.6" stroke-dasharray="1.6,1.1"/>
<line x1="571.45" y1="378.50" x2="594.04" y2="378.50" stroke="#333" stroke-width="0.75"/>
<line x1="574.44" y1="385.00" x2="591.05" y2="385.00" stroke="#555" stroke-width="0.6" stroke-dasharray="1.6,1.1"/>
<circle cx="582.75" cy="345.00" r="1.5" fill="#e0703e" stroke="#1e1e1e" stroke-width="0.5"/>
<circle cx="582.75" cy="353.00" r="1.5" fill="#e0703e" stroke="#1e1e1e" stroke-width="0.5"/>
<circle cx="582.75" cy="361.50" r="1.5" fill="#e0703e" stroke="#1e1e1e" stroke-width="0.5"/>
<circle cx="576.45" cy="374.00" r="1.5" fill="#e0703e" stroke="#1e1e1e" stroke-width="0.5"/>
<circle cx="582.75" cy="375.20" r="1.5" fill="#111111" stroke="#1e1e1e" stroke-width="0.5"/>
<circle cx="588.75" cy="379.50" r="1.5" fill="#e0703e" stroke="#1e1e1e" stroke-width="0.5"/>
<circle cx="580.75" cy="379.50" r="1.5" fill="#e0703e" stroke="#1e1e1e" stroke-width="0.5"/>
<circle cx="582.75" cy="383.60" r="1.5" fill="#ec4a6c" stroke="#1e1e1e" stroke-width="0.5"/>
<circle cx="575.75" cy="388.00" r="1.5" fill="#e0703e" stroke="#1e1e1e" stroke-width="0.5"/>
<circle cx="589.75" cy="385.00" r="1.5" fill="#e0703e" stroke="#1e1e1e" stroke-width="0.5"/>
<circle cx="573.75" cy="378.50" r="1.5" fill="#e0703e" stroke="#1e1e1e" stroke-width="0.5"/>
<circle cx="586.25" cy="386.00" r="1.5" fill="#e0703e" stroke="#1e1e1e" stroke-width="0.5"/>
<line x1="610.00" y1="366.9" x2="610.00" y2="427.3" stroke="#222" stroke-width="0.9"/>
<path d="M609.60,373.80 L609.46,374.30 L609.32,374.80 L609.18,375.30 L609.04,375.80 L608.90,376.30 L608.75,376.80 L608.61,377.30 L608.47,377.80 L608.33,378.30 L608.20,378.80 L608.06,379.30 L607.94,379.80 L607.82,380.30 L607.70,380.80 L607.59,381.30 L607.48,381.80 L607.37,382.30 L607.27,382.80 L607.16,383.30 L607.06,383.80 L606.96,384.30 L606.86,384.80 L606.76,385.30 L606.66,385.80 L606.56,386.30 L606.47,386.80 L606.37,387.30 L606.28,387.80 L606.18,388.30 L606.09,388.80 L605.99,389.30 L605.90,389.80 L605.80,390.30 L605.71,390.80 L605.61,391.30 L605.52,391.80 L605.42,392.30 L605.32,392.80 L605.23,393.30 L605.14,393.80 L605.05,394.30 L604.96,394.80 L604.87,395.30 L604.78,395.80 L604.70,396.30 L604.61,396.80 L604.52,397.30 L604.43,397.80 L604.34,398.30 L604.24,398.80 L604.14,399.30 L604.04,399.80 L603.93,400.30 L603.82,400.80 L603.70,401.30 L603.57,401.80 L603.45,402.30 L603.32,402.80 L603.18,403.30 L603.05,403.80 L602.91,404.30 L602.76,404.80 L602.62,405.30 L602.47,405.80 L602.32,406.30 L602.16,406.80 L602.00,407.30 L601.84,407.80 L601.67,408.30 L601.50,408.80 L601.32,409.30 L601.15,409.80 L600.96,410.30 L600.78,410.80 L600.57,411.30 L600.31,411.80 L600.00,412.30 L599.65,412.80 L599.30,413.30 L598.94,413.80 L598.60,414.30 L598.30,414.80 L598.05,415.30 L597.87,415.80 L597.78,416.30 L597.78,416.80 L597.91,417.30 L598.13,417.80 L598.44,418.30 L598.83,418.80 L599.28,419.30 L599.77,419.80 L600.29,420.30 L600.83,420.80 L601.38,421.30 L601.91,421.80 L602.42,422.30 L602.89,422.80 L603.36,423.30 L603.84,423.80 L604.32,424.30 L604.81,424.80 L605.31,425.30 L605.81,425.80 L606.31,426.30 L606.81,426.80 L607.30,427.30 L607.50,427.50 L612.50,427.50 L612.70,427.30 L613.19,426.80 L613.69,426.30 L614.19,425.80 L614.69,425.30 L615.19,424.80 L615.68,424.30 L616.16,423.80 L616.64,423.30 L617.11,422.80 L617.58,422.30 L618.09,421.80 L618.62,421.30 L619.17,420.80 L619.71,420.30 L620.23,419.80 L620.72,419.30 L621.17,418.80 L621.56,418.30 L621.87,417.80 L622.09,417.30 L622.22,416.80 L622.22,416.30 L622.13,415.80 L621.95,415.30 L621.70,414.80 L621.40,414.30 L621.06,413.80 L620.70,413.30 L620.35,412.80 L620.00,412.30 L619.69,411.80 L619.43,411.30 L619.22,410.80 L619.04,410.30 L618.85,409.80 L618.68,409.30 L618.50,408.80 L618.33,408.30 L618.16,407.80 L618.00,407.30 L617.84,406.80 L617.68,406.30 L617.53,405.80 L617.38,405.30 L617.24,404.80 L617.09,404.30 L616.95,403.80 L616.82,403.30 L616.68,402.80 L616.55,402.30 L616.43,401.80 L616.30,401.30 L616.18,400.80 L616.07,400.30 L615.96,399.80 L615.86,399.30 L615.76,398.80 L615.66,398.30 L615.57,397.80 L615.48,397.30 L615.39,396.80 L615.30,396.30 L615.22,395.80 L615.13,395.30 L615.04,394.80 L614.95,394.30 L614.86,393.80 L614.77,393.30 L614.68,392.80 L614.58,392.30 L614.48,391.80 L614.39,391.30 L614.29,390.80 L614.20,390.30 L614.10,389.80 L614.01,389.30 L613.91,388.80 L613.82,388.30 L613.72,387.80 L613.63,387.30 L613.53,386.80 L613.44,386.30 L613.34,385.80 L613.24,385.30 L613.14,384.80 L613.04,384.30 L612.94,383.80 L612.84,383.30 L612.73,382.80 L612.63,382.30 L612.52,381.80 L612.41,381.30 L612.30,380.80 L612.18,380.30 L612.06,379.80 L611.94,379.30 L611.80,378.80 L611.67,378.30 L611.53,377.80 L611.39,377.30 L611.25,376.80 L611.10,376.30 L610.96,375.80 L610.82,375.30 L610.68,374.80 L610.54,374.30 L610.40,373.80Z" fill="#f2d2ca" stroke="#1a1a1a" stroke-width="0.9"/>
<line x1="604.20" y1="399.00" x2="615.80" y2="399.00" stroke="#555" stroke-width="0.6" stroke-dasharray="1.6,1.1"/>
<line x1="601.07" y1="410.00" x2="618.93" y2="410.00" stroke="#333" stroke-width="0.75"/>
<line x1="599.00" y1="419.00" x2="621.00" y2="419.00" stroke="#555" stroke-width="0.6" stroke-dasharray="1.6,1.1"/>
<circle cx="610.00" cy="380.00" r="1.5" fill="#d45834" stroke="#1e1e1e" stroke-width="0.5"/>
<circle cx="606.00" cy="394.00" r="1.5" fill="#d45834" stroke="#1e1e1e" stroke-width="0.5"/>
<circle cx="613.00" cy="393.00" r="1.5" fill="#d45834" stroke="#1e1e1e" stroke-width="0.5"/>
<circle cx="610.00" cy="405.00" r="1.5" fill="#ec4a6c" stroke="#1e1e1e" stroke-width="0.5"/>
<circle cx="606.00" cy="411.00" r="1.5" fill="#d45834" stroke="#1e1e1e" stroke-width="0.5"/>
<circle cx="614.00" cy="411.00" r="1.5" fill="#d45834" stroke="#1e1e1e" stroke-width="0.5"/>
<circle cx="600.00" cy="418.00" r="1.5" fill="#d45834" stroke="#1e1e1e" stroke-width="0.5"/>
<circle cx="607.00" cy="419.00" r="1.5" fill="#d45834" stroke="#1e1e1e" stroke-width="0.5"/>
<circle cx="616.00" cy="419.00" r="1.5" fill="#d45834" stroke="#1e1e1e" stroke-width="0.5"/>
<circle cx="620.00" cy="417.00" r="1.5" fill="#d45834" stroke="#1e1e1e" stroke-width="0.5"/>
<circle cx="610.00" cy="422.50" r="1.5" fill="#111111" stroke="#1e1e1e" stroke-width="0.5"/>
<circle cx="607.00" cy="425.50" r="1.5" fill="#d45834" stroke="#1e1e1e" stroke-width="0.5"/>
<line x1="637.25" y1="356.3" x2="637.25" y2="403.4" stroke="#222" stroke-width="0.9"/>
<path d="M636.86,360.90 L636.40,361.40 L635.94,361.90 L635.47,362.40 L635.01,362.90 L634.56,363.40 L634.12,363.90 L633.71,364.40 L633.32,364.90 L632.92,365.40 L632.51,365.90 L632.11,366.40 L631.72,366.90 L631.37,367.40 L631.04,367.90 L630.77,368.40 L630.55,368.90 L630.40,369.40 L630.33,369.90 L630.31,370.40 L630.35,370.90 L630.42,371.40 L630.52,371.90 L630.64,372.40 L630.76,372.90 L630.88,373.40 L630.98,373.90 L631.17,374.40 L631.45,374.90 L631.71,375.40 L631.87,375.90 L631.84,376.40 L631.57,376.90 L631.20,377.40 L630.75,377.90 L630.24,378.40 L629.70,378.90 L629.13,379.40 L628.55,379.90 L627.99,380.40 L627.45,380.90 L626.95,381.40 L626.52,381.90 L626.16,382.40 L625.90,382.90 L625.71,383.40 L625.57,383.90 L625.46,384.40 L625.38,384.90 L625.34,385.40 L625.33,385.90 L625.34,386.40 L625.39,386.90 L625.46,387.40 L625.56,387.90 L625.68,388.40 L625.83,388.90 L626.00,389.40 L626.20,389.90 L626.41,390.40 L626.66,390.90 L626.97,391.40 L627.33,391.90 L627.75,392.40 L628.21,392.90 L628.71,393.40 L629.25,393.90 L629.81,394.40 L630.40,394.90 L631.01,395.40 L631.63,395.90 L632.32,396.40 L633.16,396.90 L634.11,397.40 L635.10,397.90 L636.10,398.40 L636.86,398.80 L637.65,398.80 L638.41,398.40 L639.41,397.90 L640.40,397.40 L641.35,396.90 L642.19,396.40 L642.88,395.90 L643.50,395.40 L644.11,394.90 L644.70,394.40 L645.26,393.90 L645.80,393.40 L646.30,392.90 L646.76,392.40 L647.18,391.90 L647.54,391.40 L647.85,390.90 L648.10,390.40 L648.31,389.90 L648.51,389.40 L648.68,388.90 L648.83,388.40 L648.95,387.90 L649.05,387.40 L649.12,386.90 L649.17,386.40 L649.18,385.90 L649.17,385.40 L649.13,384.90 L649.05,384.40 L648.94,383.90 L648.80,383.40 L648.61,382.90 L648.35,382.40 L647.99,381.90 L647.56,381.40 L647.06,380.90 L646.52,380.40 L645.96,379.90 L645.38,379.40 L644.81,378.90 L644.27,378.40 L643.76,377.90 L643.31,377.40 L642.94,376.90 L642.67,376.40 L642.64,375.90 L642.80,375.40 L643.06,374.90 L643.34,374.40 L643.53,373.90 L643.63,373.40 L643.75,372.90 L643.87,372.40 L643.99,371.90 L644.09,371.40 L644.16,370.90 L644.20,370.40 L644.18,369.90 L644.11,369.40 L643.96,368.90 L643.74,368.40 L643.47,367.90 L643.14,367.40 L642.79,366.90 L642.40,366.40 L642.00,365.90 L641.59,365.40 L641.19,364.90 L640.80,364.40 L640.39,363.90 L639.95,363.40 L639.50,362.90 L639.04,362.40 L638.57,361.90 L638.11,361.40 L637.65,360.90Z" fill="#efd0cc" stroke="#1a1a1a" stroke-width="0.9"/>
<line x1="630.55" y1="372.00" x2="643.96" y2="372.00" stroke="#555" stroke-width="0.6" stroke-dasharray="1.6,1.1"/>
<line x1="625.86" y1="383.00" x2="648.65" y2="383.00" stroke="#333" stroke-width="0.75"/>
<line x1="626.04" y1="389.50" x2="648.47" y2="389.50" stroke="#555" stroke-width="0.6" stroke-dasharray="1.6,1.1"/>
<circle cx="637.25" cy="366.40" r="1.5" fill="#c94848" stroke="#1e1e1e" stroke-width="0.5"/>
<circle cx="636.75" cy="371.60" r="1.5" fill="#111111" stroke="#1e1e1e" stroke-width="0.5"/>
<circle cx="639.75" cy="372.50" r="1.5" fill="#c94848" stroke="#1e1e1e" stroke-width="0.5"/>
<circle cx="634.25" cy="380.00" r="1.5" fill="#c94848" stroke="#1e1e1e" stroke-width="0.5"/>
<circle cx="640.75" cy="380.00" r="1.5" fill="#c94848" stroke="#1e1e1e" stroke-width="0.5"/>
<circle cx="634.25" cy="384.50" r="1.5" fill="#c94848" stroke="#1e1e1e" stroke-width="0.5"/>
<circle cx="640.75" cy="384.50" r="1.5" fill="#c94848" stroke="#1e1e1e" stroke-width="0.5"/>
<circle cx="637.25" cy="389.90" r="1.5" fill="#ec4a6c" stroke="#1e1e1e" stroke-width="0.5"/>
<circle cx="630.75" cy="392.50" r="1.5" fill="#c94848" stroke="#1e1e1e" stroke-width="0.5"/>
<circle cx="643.75" cy="391.00" r="1.5" fill="#c94848" stroke="#1e1e1e" stroke-width="0.5"/>
<circle cx="628.25" cy="386.00" r="1.5" fill="#c94848" stroke="#1e1e1e" stroke-width="0.5"/>
<line x1="664.51" y1="345.2" x2="664.51" y2="410.8" stroke="#222" stroke-width="0.9"/>
<path d="M664.11,351.60 L663.65,352.10 L663.18,352.60 L662.71,353.10 L662.23,353.60 L661.76,354.10 L661.28,354.60 L660.82,355.10 L660.36,355.60 L659.92,356.10 L659.50,356.60 L659.09,357.10 L658.69,357.60 L658.27,358.10 L657.83,358.60 L657.37,359.10 L656.92,359.60 L656.46,360.10 L656.01,360.60 L655.58,361.10 L655.16,361.60 L654.77,362.10 L654.41,362.60 L654.08,363.10 L653.80,363.60 L653.56,364.10 L653.38,364.60 L653.26,365.10 L653.21,365.60 L653.27,366.10 L653.47,366.60 L653.77,367.10 L654.16,367.60 L654.61,368.10 L655.10,368.60 L655.62,369.10 L656.14,369.60 L656.65,370.10 L657.11,370.60 L657.51,371.10 L657.83,371.60 L658.05,372.10 L658.20,372.60 L658.33,373.10 L658.43,373.60 L658.50,374.10 L658.55,374.60 L658.58,375.10 L658.60,375.60 L658.60,376.10 L658.59,376.60 L658.57,377.10 L658.55,377.60 L658.53,378.10 L658.52,378.60 L658.51,379.10 L658.50,379.60 L658.51,380.10 L658.52,380.60 L658.53,381.10 L658.54,381.60 L658.55,382.10 L658.55,382.60 L658.55,383.10 L658.55,383.60 L658.55,384.10 L658.55,384.60 L658.54,385.10 L658.54,385.60 L658.54,386.10 L658.53,386.60 L658.53,387.10 L658.52,387.60 L658.52,388.10 L658.51,388.60 L658.51,389.10 L658.51,389.60 L658.51,390.10 L658.51,390.60 L658.50,391.10 L658.49,391.60 L658.48,392.10 L658.47,392.60 L658.47,393.10 L658.46,393.60 L658.46,394.10 L658.46,394.60 L658.47,395.10 L658.49,395.60 L658.51,396.10 L658.52,396.60 L658.53,397.10 L658.57,397.60 L658.67,398.10 L658.89,398.60 L659.22,399.10 L659.60,399.60 L660.02,400.10 L660.47,400.60 L660.95,401.10 L661.44,401.60 L661.94,402.10 L662.44,402.60 L662.95,403.10 L663.44,403.60 L663.92,404.10 L664.11,404.30 L664.91,404.30 L665.10,404.10 L665.58,403.60 L666.07,403.10 L666.58,402.60 L667.08,402.10 L667.58,401.60 L668.07,401.10 L668.55,400.60 L669.00,400.10 L669.42,399.60 L669.80,399.10 L670.13,398.60 L670.35,398.10 L670.45,397.60 L670.49,397.10 L670.50,396.60 L670.51,396.10 L670.53,395.60 L670.55,395.10 L670.56,394.60 L670.56,394.10 L670.56,393.60 L670.55,393.10 L670.55,392.60 L670.54,392.10 L670.53,391.60 L670.52,391.10 L670.51,390.60 L670.51,390.10 L670.51,389.60 L670.51,389.10 L670.51,388.60 L670.50,388.10 L670.50,387.60 L670.49,387.10 L670.49,386.60 L670.48,386.10 L670.48,385.60 L670.48,385.10 L670.47,384.60 L670.47,384.10 L670.47,383.60 L670.47,383.10 L670.47,382.60 L670.47,382.10 L670.48,381.60 L670.49,381.10 L670.50,380.60 L670.51,380.10 L670.52,379.60 L670.51,379.10 L670.50,378.60 L670.49,378.10 L670.47,377.60 L670.45,377.10 L670.43,376.60 L670.42,376.10 L670.42,375.60 L670.44,375.10 L670.47,374.60 L670.52,374.10 L670.59,373.60 L670.69,373.10 L670.82,372.60 L670.97,372.10 L671.19,371.60 L671.51,371.10 L671.91,370.60 L672.37,370.10 L672.88,369.60 L673.40,369.10 L673.92,368.60 L674.41,368.10 L674.86,367.60 L675.25,367.10 L675.55,366.60 L675.75,366.10 L675.81,365.60 L675.76,365.10 L675.64,364.60 L675.46,364.10 L675.22,363.60 L674.94,363.10 L674.61,362.60 L674.25,362.10 L673.86,361.60 L673.44,361.10 L673.01,360.60 L672.56,360.10 L672.10,359.60 L671.65,359.10 L671.19,358.60 L670.75,358.10 L670.33,357.60 L669.93,357.10 L669.52,356.60 L669.10,356.10 L668.66,355.60 L668.20,355.10 L667.74,354.60 L667.26,354.10 L666.79,353.60 L666.31,353.10 L665.84,352.60 L665.37,352.10 L664.91,351.60Z" fill="#eccdd0" stroke="#1a1a1a" stroke-width="0.9"/>
<line x1="658.46" y1="373.80" x2="670.56" y2="373.80" stroke="#333" stroke-width="0.75"/>
<circle cx="664.51" cy="357.60" r="1.5" fill="#bf3a4a" stroke="#1e1e1e" stroke-width="0.5"/>
<circle cx="664.51" cy="361.50" r="1.5" fill="#bf3a4a" stroke="#1e1e1e" stroke-width="0.5"/>
<circle cx="664.51" cy="364.50" r="1.5" fill="#ec4a6c" stroke="#1e1e1e" stroke-width="0.5"/>
<circle cx="664.51" cy="368.00" r="1.5" fill="#111111" stroke="#1e1e1e" stroke-width="0.5"/>
<circle cx="664.51" cy="371.00" r="1.5" fill="#111111" stroke="#1e1e1e" stroke-width="0.5"/>
<circle cx="657.51" cy="360.00" r="1.5" fill="#bf3a4a" stroke="#1e1e1e" stroke-width="0.5"/>
<circle cx="670.01" cy="358.50" r="1.5" fill="#bf3a4a" stroke="#1e1e1e" stroke-width="0.5"/>
<circle cx="657.51" cy="366.00" r="1.5" fill="#bf3a4a" stroke="#1e1e1e" stroke-width="0.5"/>
<circle cx="671.01" cy="364.50" r="1.5" fill="#bf3a4a" stroke="#1e1e1e" stroke-width="0.5"/>
<circle cx="660.01" cy="376.00" r="1.5" fill="#bf3a4a" stroke="#1e1e1e" stroke-width="0.5"/>
<circle cx="664.51" cy="376.00" r="1.5" fill="#bf3a4a" stroke="#1e1e1e" stroke-width="0.5"/>
<circle cx="669.01" cy="378.00" r="1.5" fill="#bf3a4a" stroke="#1e1e1e" stroke-width="0.5"/>
<circle cx="660.01" cy="381.00" r="1.5" fill="#bf3a4a" stroke="#1e1e1e" stroke-width="0.5"/>
<circle cx="664.51" cy="383.00" r="1.5" fill="#bf3a4a" stroke="#1e1e1e" stroke-width="0.5"/>
<circle cx="664.51" cy="387.00" r="1.5" fill="#bf3a4a" stroke="#1e1e1e" stroke-width="0.5"/>
<circle cx="669.51" cy="387.00" r="1.5" fill="#bf3a4a" stroke="#1e1e1e" stroke-width="0.5"/>
<circle cx="660.01" cy="390.00" r="1.5" fill="#bf3a4a" stroke="#1e1e1e" stroke-width="0.5"/>
<circle cx="660.01" cy="393.00" r="1.5" fill="#bf3a4a" stroke="#1e1e1e" stroke-width="0.5"/>
<circle cx="669.51" cy="393.00" r="1.5" fill="#bf3a4a" stroke="#1e1e1e" stroke-width="0.5"/>
<circle cx="664.51" cy="395.00" r="1.5" fill="#bf3a4a" stroke="#1e1e1e" stroke-width="0.5"/>
<circle cx="660.01" cy="397.50" r="1.5" fill="#bf3a4a" stroke="#1e1e1e" stroke-width="0.5"/>
<circle cx="669.51" cy="398.00" r="1.5" fill="#bf3a4a" stroke="#1e1e1e" stroke-width="0.5"/>
</svg>
</body></html>
